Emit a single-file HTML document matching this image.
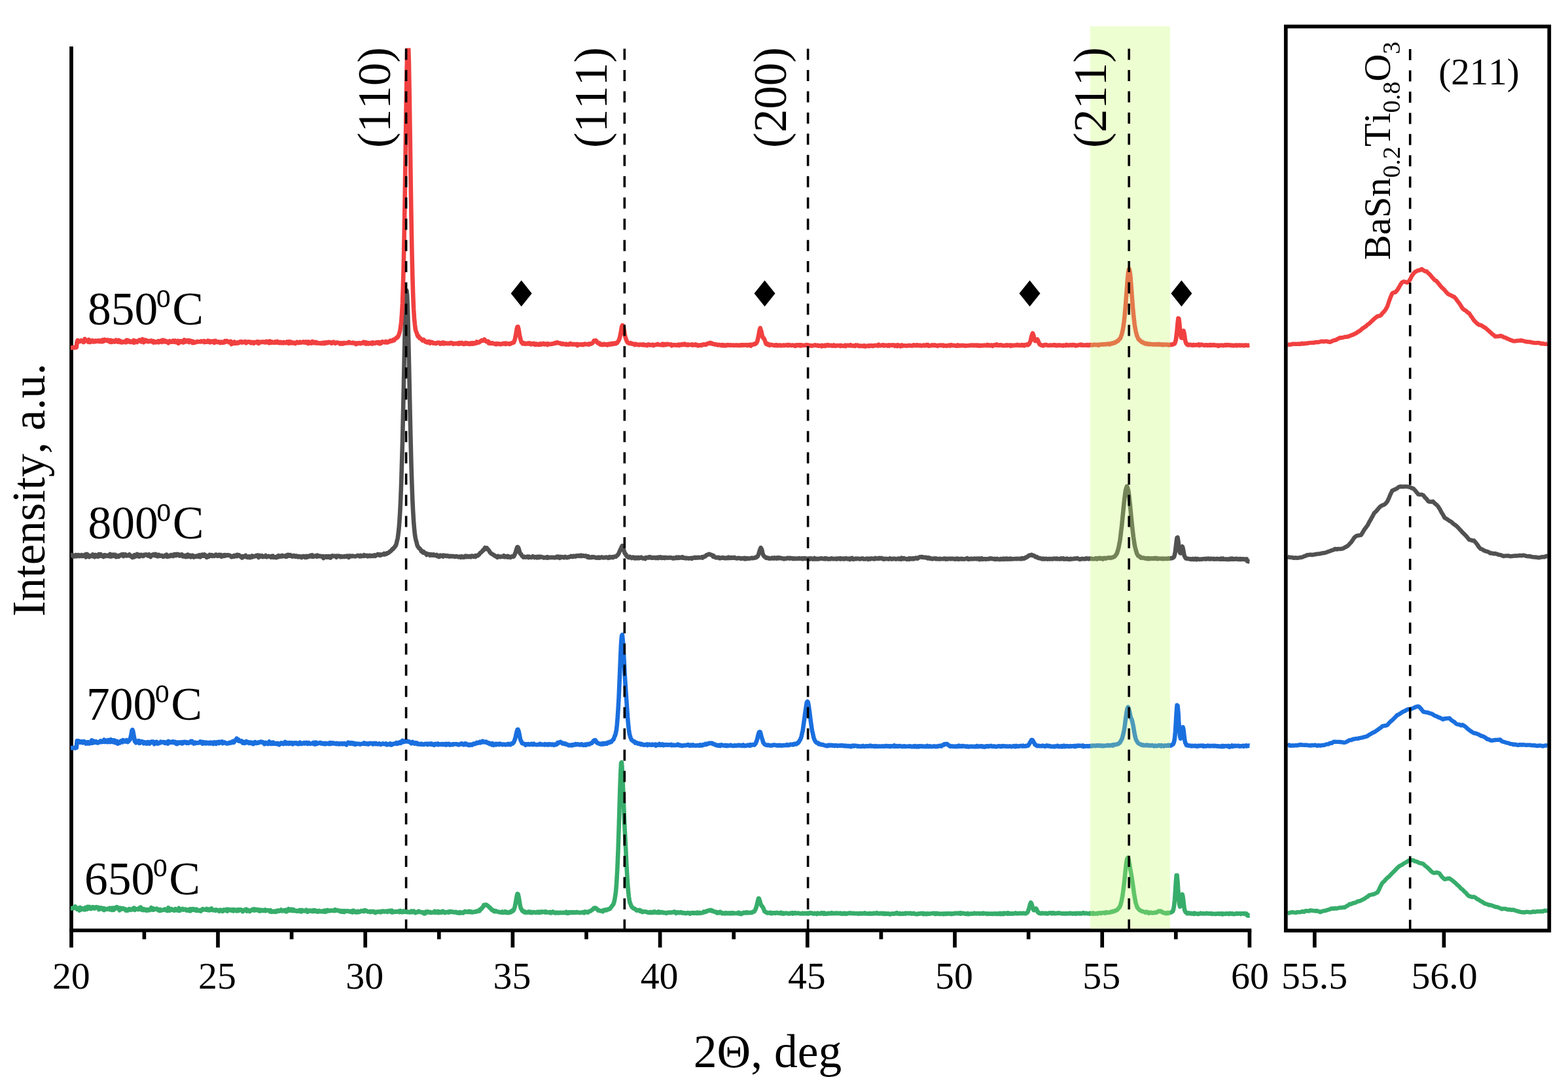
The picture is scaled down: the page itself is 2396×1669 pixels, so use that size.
<!DOCTYPE html>
<html lang="en"><head><meta charset="utf-8"><title>XRD patterns</title>
<style>html,body{margin:0;padding:0;background:#fff}body{width:2396px;height:1669px;overflow:hidden}svg{display:block}text{font-family:"Liberation Serif","DejaVu Serif",serif;fill:#000;font-kerning:none}</style></head><body>
<svg width="2396" height="1669" viewBox="0 0 2396 1669">
<rect width="2396" height="1669" fill="#fff"/>
<g stroke="#000" stroke-width="5.7" fill="none" stroke-linecap="butt">
<line x1="109.0" y1="71" x2="109.0" y2="1448.2"/>
<line x1="106.15" y1="1422.0" x2="1912.2499999999998" y2="1422.0"/>
<line x1="333.0" y1="1422.0" x2="333.0" y2="1448.2"/>
<line x1="558.2" y1="1422.0" x2="558.2" y2="1448.2"/>
<line x1="783.4" y1="1422.0" x2="783.4" y2="1448.2"/>
<line x1="1008.6" y1="1422.0" x2="1008.6" y2="1448.2"/>
<line x1="1233.8" y1="1422.0" x2="1233.8" y2="1448.2"/>
<line x1="1459.0" y1="1422.0" x2="1459.0" y2="1448.2"/>
<line x1="1684.2" y1="1422.0" x2="1684.2" y2="1448.2"/>
<line x1="1909.4" y1="1422.0" x2="1909.4" y2="1448.2"/>
<line x1="220.4" y1="1422.0" x2="220.4" y2="1435.5"/>
<line x1="445.6" y1="1422.0" x2="445.6" y2="1435.5"/>
<line x1="670.8" y1="1422.0" x2="670.8" y2="1435.5"/>
<line x1="896.0" y1="1422.0" x2="896.0" y2="1435.5"/>
<line x1="1121.2" y1="1422.0" x2="1121.2" y2="1435.5"/>
<line x1="1346.4" y1="1422.0" x2="1346.4" y2="1435.5"/>
<line x1="1571.6" y1="1422.0" x2="1571.6" y2="1435.5"/>
<line x1="1796.8" y1="1422.0" x2="1796.8" y2="1435.5"/>
</g>
<defs><clipPath id="plotclip"><rect x="0" y="73.5" width="2396" height="1669"/></clipPath></defs>
<g fill="none" stroke-width="6.6" stroke-linejoin="round" stroke-linecap="butt" clip-path="url(#plotclip)">
<path stroke="#515151" d="M107.9,848.4 L109.6,848.4 L110.5,848.6 L111.4,848.7 L112.3,850.8 L113.2,848.9 L114.1,850.0 L115.0,849.4 L115.9,848.3 L116.8,850.3 L117.7,849.2 L118.6,849.1 L119.5,848.3 L120.4,849.9 L121.3,848.7 L122.2,850.0 L123.1,848.9 L124.0,849.4 L124.9,848.3 L125.8,850.1 L126.7,849.2 L127.6,849.3 L128.5,849.7 L129.4,847.9 L130.3,850.1 L131.2,851.4 L132.1,846.9 L133.0,847.2 L133.9,847.7 L134.8,850.3 L135.7,849.4 L136.6,851.1 L137.5,849.8 L138.4,849.4 L139.3,849.3 L140.2,848.7 L141.1,850.0 L142.0,847.5 L142.9,848.6 L143.8,849.5 L144.7,851.2 L145.6,848.0 L146.5,848.4 L147.4,848.7 L148.3,850.3 L149.2,848.7 L150.1,850.7 L151.0,847.1 L151.9,849.4 L152.8,849.6 L153.7,847.1 L154.6,848.8 L155.5,849.7 L156.4,848.8 L157.3,849.6 L158.2,851.0 L159.1,848.5 L160.0,848.3 L160.9,848.3 L161.8,850.1 L162.7,849.2 L163.6,849.1 L164.6,849.3 L165.5,850.0 L166.4,848.4 L167.3,848.3 L168.2,846.9 L169.1,850.6 L170.0,849.0 L170.9,850.2 L171.8,848.4 L172.7,847.8 L173.6,849.5 L174.5,848.7 L175.4,847.8 L176.3,848.0 L177.2,851.2 L178.1,849.9 L179.0,850.7 L179.9,849.7 L180.8,849.2 L181.7,850.7 L182.6,849.3 L183.5,848.5 L184.4,848.5 L185.3,847.7 L186.2,848.8 L187.1,849.3 L188.0,847.3 L188.9,850.1 L189.8,847.6 L190.7,848.3 L191.6,847.6 L192.5,848.7 L193.4,849.5 L194.3,849.0 L195.2,848.6 L196.1,849.2 L197.0,848.7 L197.9,847.6 L198.8,849.4 L199.7,850.4 L200.6,850.7 L201.5,850.2 L202.4,852.0 L203.3,850.0 L204.2,849.1 L205.1,851.4 L206.0,848.2 L206.9,850.4 L207.8,848.3 L208.7,849.6 L209.6,847.0 L210.5,850.0 L211.4,848.8 L212.3,848.1 L213.2,850.7 L214.1,849.6 L215.0,849.0 L215.9,847.9 L216.8,848.9 L217.7,848.8 L218.6,850.1 L219.5,849.7 L220.4,847.8 L221.3,847.7 L222.2,848.0 L223.1,847.4 L224.0,848.0 L224.9,848.9 L225.8,849.4 L226.7,849.7 L227.6,847.4 L228.5,849.0 L229.4,848.4 L230.3,851.1 L231.2,848.8 L232.1,848.9 L233.0,847.8 L233.9,847.4 L234.8,848.6 L235.7,848.1 L236.6,849.1 L237.5,846.8 L238.4,849.3 L239.3,847.7 L240.2,850.2 L241.1,848.6 L242.0,850.1 L242.9,848.0 L243.8,849.6 L244.7,848.9 L245.6,849.1 L246.5,849.7 L247.4,849.1 L248.3,850.1 L249.2,850.8 L250.1,850.8 L251.0,850.3 L251.9,849.0 L252.8,849.6 L253.7,849.7 L254.6,847.8 L255.5,850.8 L256.4,849.7 L257.3,849.5 L258.2,850.5 L259.1,850.3 L260.0,849.4 L260.9,848.2 L261.8,849.4 L262.7,849.4 L263.6,848.3 L264.5,850.1 L265.4,849.7 L266.3,847.3 L267.2,849.1 L268.1,847.1 L269.0,849.2 L269.9,848.7 L270.8,846.9 L271.7,847.1 L272.6,848.0 L273.5,847.6 L274.4,849.5 L275.3,848.8 L276.2,848.0 L277.2,849.3 L278.1,847.5 L279.0,850.0 L279.9,850.5 L280.8,849.7 L281.7,849.2 L282.6,850.1 L283.5,851.1 L284.4,849.6 L285.3,848.4 L286.2,851.0 L287.1,847.7 L288.0,849.9 L288.9,848.8 L289.8,850.4 L290.7,848.9 L291.6,851.4 L292.5,850.4 L293.4,848.8 L294.3,848.8 L295.2,849.9 L296.1,851.5 L297.0,850.5 L297.9,850.4 L298.8,849.8 L299.7,850.8 L300.6,850.4 L301.5,850.3 L302.4,849.2 L303.3,850.8 L304.2,851.0 L305.1,848.3 L306.0,851.3 L306.9,850.1 L307.8,849.0 L308.7,847.7 L309.6,849.8 L310.5,849.8 L311.4,848.6 L312.3,847.5 L313.2,849.9 L314.1,848.8 L315.0,849.0 L315.9,851.9 L316.8,851.5 L317.7,850.7 L318.6,849.5 L319.5,850.4 L320.4,847.9 L321.3,849.8 L322.2,849.1 L323.1,848.4 L324.0,848.3 L324.9,850.1 L325.8,849.6 L326.7,849.6 L327.6,849.8 L328.5,848.3 L329.4,848.0 L330.3,847.6 L331.2,848.9 L332.1,849.7 L333.0,848.7 L333.9,849.6 L334.8,847.9 L335.7,848.2 L336.6,848.1 L337.5,848.0 L338.4,850.8 L339.3,850.1 L340.2,848.8 L341.1,848.9 L342.0,849.7 L342.9,848.2 L343.8,849.6 L344.7,848.4 L345.6,849.0 L346.5,848.4 L347.4,849.0 L348.3,848.3 L349.2,848.5 L350.1,848.8 L351.0,849.0 L351.9,849.5 L352.8,850.3 L353.7,851.3 L354.6,850.9 L355.5,850.1 L356.4,850.7 L357.3,849.3 L358.2,850.5 L359.1,850.1 L360.0,848.6 L360.9,850.3 L361.8,850.3 L362.7,847.8 L363.6,849.1 L364.5,849.5 L365.4,848.5 L366.3,849.6 L367.2,850.0 L368.1,851.2 L369.0,850.8 L369.9,852.6 L370.8,850.2 L371.7,851.5 L372.6,850.9 L373.5,850.9 L374.4,849.5 L375.3,848.9 L376.2,850.0 L377.1,851.3 L378.0,852.0 L378.9,851.5 L379.8,851.3 L380.7,850.4 L381.6,852.3 L382.5,852.2 L383.4,850.7 L384.3,850.8 L385.2,849.6 L386.1,851.4 L387.0,850.5 L387.9,850.1 L388.8,850.4 L389.8,850.2 L390.7,849.7 L391.6,849.1 L392.5,849.0 L393.4,848.6 L394.3,850.5 L395.2,852.0 L396.1,849.0 L397.0,850.4 L397.9,850.5 L398.8,849.4 L399.7,850.2 L400.6,849.4 L401.5,851.0 L402.4,850.3 L403.3,850.6 L404.2,850.8 L405.1,850.1 L406.0,849.1 L406.9,850.4 L407.8,851.2 L408.7,850.3 L409.6,850.5 L410.5,849.9 L411.4,850.3 L412.3,850.8 L413.2,850.4 L414.1,851.7 L415.0,850.5 L415.9,849.8 L416.8,849.6 L417.7,851.9 L418.6,850.9 L419.5,851.6 L420.4,851.3 L421.3,852.2 L422.2,852.2 L423.1,850.7 L424.0,851.0 L424.9,851.3 L425.8,849.2 L426.7,851.0 L427.6,850.8 L428.5,850.6 L429.4,849.6 L430.3,850.2 L431.2,849.0 L432.1,850.2 L433.0,849.5 L433.9,850.0 L434.8,849.7 L435.7,850.4 L436.6,850.9 L437.5,849.0 L438.4,850.6 L439.3,848.2 L440.2,847.9 L441.1,849.4 L442.0,849.6 L442.9,849.7 L443.8,848.3 L444.7,849.3 L445.6,849.6 L446.5,850.6 L447.4,849.7 L448.3,850.3 L449.2,849.2 L450.1,849.7 L451.0,849.5 L451.9,850.7 L452.8,849.6 L453.7,849.7 L454.6,850.6 L455.5,851.3 L456.4,850.4 L457.3,850.5 L458.2,850.3 L459.1,851.4 L460.0,851.2 L460.9,852.0 L461.8,850.7 L462.7,850.0 L463.6,850.3 L464.5,850.4 L465.4,850.3 L466.3,851.9 L467.2,851.3 L468.1,849.9 L469.0,851.7 L469.9,850.5 L470.8,849.9 L471.7,850.8 L472.6,850.5 L473.5,849.9 L474.4,848.9 L475.3,850.4 L476.2,850.6 L477.1,848.4 L478.0,850.8 L478.9,850.9 L479.8,850.1 L480.7,850.1 L481.6,849.8 L482.5,849.2 L483.4,849.5 L484.3,850.7 L485.2,848.7 L486.1,850.1 L487.0,850.2 L487.9,849.8 L488.8,850.1 L489.7,849.9 L490.6,850.2 L491.5,850.7 L492.4,851.0 L493.3,850.3 L494.2,853.1 L495.1,850.5 L496.0,850.8 L496.9,850.6 L497.8,850.3 L498.7,851.6 L499.6,850.3 L500.5,851.8 L501.4,851.8 L502.4,850.2 L503.3,851.5 L504.2,850.6 L505.1,852.5 L506.0,850.3 L506.9,850.1 L507.8,849.3 L508.7,850.0 L509.6,850.2 L510.5,849.8 L511.4,849.7 L512.3,850.0 L513.2,850.4 L514.1,851.8 L515.0,849.6 L515.9,850.3 L516.8,850.1 L517.7,849.5 L518.6,849.9 L519.5,850.2 L520.4,851.3 L521.3,850.5 L522.2,850.3 L523.1,851.1 L524.0,850.9 L524.9,850.5 L525.8,850.9 L526.7,850.1 L527.6,850.9 L528.5,850.7 L529.4,850.0 L530.3,849.6 L531.2,851.0 L532.1,850.0 L533.0,852.0 L533.9,849.6 L534.8,850.5 L535.7,849.7 L536.6,850.1 L537.5,850.3 L538.4,849.5 L539.3,849.9 L540.2,850.0 L541.1,850.1 L542.0,850.3 L542.9,850.4 L543.8,850.1 L544.7,849.6 L545.6,849.4 L546.5,849.1 L547.4,849.1 L548.3,849.5 L549.2,850.3 L550.1,849.5 L551.0,848.9 L551.9,850.2 L552.8,849.6 L553.7,849.6 L554.6,849.8 L555.5,850.0 L556.4,848.3 L557.3,848.8 L558.2,849.6 L559.1,849.2 L560.0,848.9 L560.9,849.2 L561.8,850.2 L562.7,849.2 L563.6,849.7 L564.5,850.0 L565.4,849.0 L566.3,850.0 L567.2,849.4 L568.1,849.6 L569.0,849.1 L569.9,849.9 L570.8,848.9 L571.7,848.7 L572.6,848.3 L573.5,849.9 L574.4,849.1 L575.3,848.4 L576.2,848.2 L577.1,847.2 L578.0,848.2 L578.9,848.4 L579.8,847.4 L580.7,848.9 L581.6,848.7 L582.5,847.6 L583.4,847.7 L584.3,847.5 L585.2,847.3 L586.1,847.4 L587.0,846.1 L587.9,847.4 L588.8,846.5 L589.7,846.9 L590.6,846.6 L591.5,845.3 L592.4,845.3 L593.3,845.2 L594.2,844.6 L595.1,843.5 L596.0,842.7 L596.9,842.7 L597.8,841.4 L598.7,840.7 L599.6,839.1 L600.5,839.4 L601.4,837.8 L602.3,836.8 L603.2,836.1 L604.1,834.4 L605.0,833.5 L605.9,830.1 L606.8,826.2 L607.7,822.7 L608.6,816.0 L609.5,808.5 L610.4,797.0 L611.3,782.4 L612.2,763.6 L613.1,739.7 L614.0,709.6 L615.0,675.5 L615.9,636.5 L616.8,595.0 L617.7,550.8 L618.6,509.3 L619.5,474.8 L620.4,451.5 L621.3,443.7 L622.2,451.6 L623.1,475.1 L624.0,510.7 L624.9,551.9 L625.8,594.3 L626.7,637.2 L627.6,675.5 L628.5,710.8 L629.4,739.4 L630.3,763.7 L631.2,782.2 L632.1,796.6 L633.0,807.7 L633.9,816.6 L634.8,822.1 L635.7,826.1 L636.6,829.0 L637.5,833.1 L638.4,835.3 L639.3,836.0 L640.2,838.0 L641.1,838.2 L642.0,839.0 L642.9,840.6 L643.8,842.5 L644.7,841.9 L645.6,842.6 L646.5,844.7 L647.4,843.3 L648.3,845.0 L649.2,845.6 L650.1,845.4 L651.0,846.3 L651.9,848.0 L652.8,846.3 L653.7,846.9 L654.6,847.3 L655.5,847.1 L656.4,847.1 L657.3,848.9 L658.2,848.3 L659.1,847.4 L660.0,848.1 L660.9,848.7 L661.8,848.7 L662.7,847.6 L663.6,848.5 L664.5,848.9 L665.4,848.9 L666.3,849.2 L667.2,847.9 L668.1,850.0 L669.0,849.2 L669.9,850.2 L670.8,850.9 L671.7,849.3 L672.6,848.7 L673.5,850.0 L674.4,849.4 L675.3,849.3 L676.2,848.8 L677.1,850.5 L678.0,849.4 L678.9,848.8 L679.8,849.4 L680.7,849.0 L681.6,850.0 L682.5,849.7 L683.4,849.3 L684.3,850.2 L685.2,849.6 L686.1,850.3 L687.0,850.6 L687.9,850.0 L688.8,849.8 L689.7,850.3 L690.6,850.5 L691.5,849.9 L692.4,850.2 L693.3,850.3 L694.2,850.7 L695.1,851.0 L696.0,850.2 L696.9,850.2 L697.8,850.5 L698.7,850.4 L699.6,850.9 L700.5,851.4 L701.4,851.1 L702.3,850.8 L703.2,850.5 L704.1,851.9 L705.0,851.3 L705.9,850.4 L706.8,850.6 L707.7,851.9 L708.6,851.7 L709.5,850.7 L710.4,851.2 L711.3,849.7 L712.2,850.8 L713.1,851.2 L714.0,850.0 L714.9,850.4 L715.8,851.1 L716.7,851.1 L717.6,850.1 L718.5,850.5 L719.4,851.3 L720.3,850.0 L721.2,849.5 L722.1,850.0 L723.0,850.0 L723.9,850.9 L724.8,850.2 L725.7,849.5 L726.6,851.0 L727.6,849.2 L728.5,849.4 L729.4,849.4 L730.3,849.0 L731.2,848.0 L732.1,847.5 L733.0,846.3 L733.9,844.9 L734.8,844.5 L735.7,843.7 L736.6,842.8 L737.5,842.0 L738.4,840.4 L739.3,840.4 L740.2,839.8 L741.1,837.2 L742.0,838.3 L742.9,838.0 L743.8,837.4 L744.7,839.5 L745.6,839.6 L746.5,840.6 L747.4,841.6 L748.3,843.6 L749.2,844.8 L750.1,845.4 L751.0,846.5 L751.9,846.6 L752.8,847.4 L753.7,847.7 L754.6,848.5 L755.5,848.7 L756.4,849.7 L757.3,850.3 L758.2,850.2 L759.1,850.9 L760.0,851.9 L760.9,849.8 L761.8,851.0 L762.7,850.8 L763.6,851.2 L764.5,850.5 L765.4,851.1 L766.3,850.9 L767.2,850.6 L768.1,850.8 L769.0,850.5 L769.9,849.3 L770.8,851.2 L771.7,850.4 L772.6,850.4 L773.5,851.2 L774.4,850.8 L775.3,849.9 L776.2,851.6 L777.1,850.2 L778.0,851.0 L778.9,851.4 L779.8,852.0 L780.7,851.7 L781.6,850.8 L782.5,850.2 L783.4,850.2 L784.3,850.8 L785.2,850.3 L786.1,848.5 L787.0,846.2 L787.9,844.4 L788.8,840.7 L789.7,837.9 L790.6,836.0 L791.5,836.3 L792.4,837.9 L793.3,841.0 L794.2,844.2 L795.1,846.4 L796.0,846.6 L796.9,848.3 L797.8,849.9 L798.7,850.1 L799.6,851.6 L800.5,851.0 L801.4,850.9 L802.3,851.6 L803.2,851.6 L804.1,851.2 L805.0,851.5 L805.9,850.6 L806.8,850.8 L807.7,852.0 L808.6,850.8 L809.5,851.7 L810.4,851.8 L811.3,851.8 L812.2,851.9 L813.1,851.6 L814.0,850.3 L814.9,850.9 L815.8,851.1 L816.7,852.0 L817.6,851.1 L818.5,851.3 L819.4,851.3 L820.3,852.2 L821.2,850.9 L822.1,851.0 L823.0,852.1 L823.9,850.8 L824.8,851.9 L825.7,851.6 L826.6,850.9 L827.5,851.5 L828.4,851.2 L829.3,851.8 L830.2,851.9 L831.1,852.6 L832.0,852.2 L832.9,852.2 L833.8,851.9 L834.7,852.0 L835.6,852.6 L836.5,851.3 L837.4,852.6 L838.3,851.9 L839.2,852.0 L840.2,852.0 L841.1,852.1 L842.0,852.0 L842.9,851.7 L843.8,852.1 L844.7,852.0 L845.6,851.8 L846.5,852.1 L847.4,852.4 L848.3,852.1 L849.2,852.1 L850.1,851.2 L851.0,851.7 L851.9,850.7 L852.8,851.9 L853.7,851.1 L854.6,852.1 L855.5,852.8 L856.4,851.0 L857.3,851.9 L858.2,851.5 L859.1,851.3 L860.0,851.3 L860.9,852.0 L861.8,852.3 L862.7,851.8 L863.6,850.9 L864.5,851.1 L865.4,851.8 L866.3,852.3 L867.2,851.7 L868.1,851.6 L869.0,851.8 L869.9,851.1 L870.8,851.0 L871.7,850.9 L872.6,849.9 L873.5,850.9 L874.4,850.6 L875.3,850.9 L876.2,849.8 L877.1,849.7 L878.0,850.5 L878.9,850.0 L879.8,850.5 L880.7,849.4 L881.6,849.8 L882.5,849.3 L883.4,849.8 L884.3,849.2 L885.2,849.7 L886.1,849.9 L887.0,849.8 L887.9,848.7 L888.8,850.0 L889.7,849.8 L890.6,849.1 L891.5,849.3 L892.4,849.7 L893.3,850.0 L894.2,849.6 L895.1,849.4 L896.0,850.3 L896.9,850.4 L897.8,851.6 L898.7,850.1 L899.6,852.1 L900.5,851.9 L901.4,851.6 L902.3,852.2 L903.2,851.6 L904.1,852.0 L905.0,851.2 L905.9,851.7 L906.8,851.3 L907.7,851.2 L908.6,851.9 L909.5,851.7 L910.4,852.1 L911.3,852.7 L912.2,852.1 L913.1,852.4 L914.0,852.6 L914.9,851.7 L915.8,852.7 L916.7,852.5 L917.6,852.3 L918.5,851.8 L919.4,851.4 L920.3,852.0 L921.2,852.1 L922.1,852.4 L923.0,852.3 L923.9,852.2 L924.8,851.7 L925.7,852.1 L926.6,851.6 L927.5,852.0 L928.4,852.1 L929.3,852.9 L930.2,852.0 L931.1,851.3 L932.0,852.3 L932.9,851.5 L933.8,851.9 L934.7,851.5 L935.6,851.3 L936.5,852.2 L937.4,851.6 L938.3,850.9 L939.2,851.0 L940.1,850.6 L941.0,850.8 L941.9,849.9 L942.8,849.0 L943.7,848.4 L944.6,847.2 L945.5,845.9 L946.4,843.6 L947.3,841.7 L948.2,839.4 L949.1,837.8 L950.0,835.7 L950.9,834.1 L951.8,836.8 L952.8,839.4 L953.7,842.4 L954.6,845.3 L955.5,846.9 L956.4,847.1 L957.3,849.6 L958.2,850.4 L959.1,851.1 L960.0,851.9 L960.9,851.0 L961.8,852.1 L962.7,851.1 L963.6,852.1 L964.5,852.3 L965.4,853.0 L966.3,851.9 L967.2,851.5 L968.1,852.5 L969.0,852.1 L969.9,853.3 L970.8,852.5 L971.7,852.2 L972.6,853.1 L973.5,852.8 L974.4,853.2 L975.3,851.9 L976.2,853.1 L977.1,852.3 L978.0,852.9 L978.9,852.1 L979.8,851.7 L980.7,852.5 L981.6,852.8 L982.5,853.4 L983.4,853.0 L984.3,853.3 L985.2,853.0 L986.1,854.0 L987.0,852.1 L987.9,852.7 L988.8,852.2 L989.7,852.3 L990.6,851.7 L991.5,852.4 L992.4,851.4 L993.3,851.4 L994.2,852.3 L995.1,851.9 L996.0,852.7 L996.9,852.8 L997.8,852.1 L998.7,852.6 L999.6,852.1 L1000.5,852.3 L1001.4,852.2 L1002.3,853.0 L1003.2,852.2 L1004.1,852.0 L1005.0,852.0 L1005.9,853.0 L1006.8,851.8 L1007.7,852.4 L1008.6,852.5 L1009.5,851.5 L1010.4,852.4 L1011.3,853.0 L1012.2,852.6 L1013.1,851.9 L1014.0,852.6 L1014.9,852.5 L1015.8,853.1 L1016.7,851.9 L1017.6,852.1 L1018.5,852.5 L1019.4,852.4 L1020.3,852.6 L1021.2,852.6 L1022.1,852.3 L1023.0,852.1 L1023.9,852.5 L1024.8,852.3 L1025.7,852.4 L1026.6,852.7 L1027.5,853.2 L1028.4,853.5 L1029.3,852.6 L1030.2,853.1 L1031.1,853.3 L1032.0,852.8 L1032.9,852.1 L1033.8,851.7 L1034.7,852.9 L1035.6,852.9 L1036.5,852.5 L1037.4,851.7 L1038.3,852.7 L1039.2,852.7 L1040.1,852.2 L1041.0,852.1 L1041.9,851.4 L1042.8,852.6 L1043.7,851.8 L1044.6,852.7 L1045.5,852.7 L1046.4,852.7 L1047.3,853.3 L1048.2,852.6 L1049.1,853.2 L1050.0,853.3 L1050.9,853.2 L1051.8,853.0 L1052.7,853.6 L1053.6,853.4 L1054.5,853.1 L1055.4,852.9 L1056.3,853.0 L1057.2,853.8 L1058.1,852.9 L1059.0,852.8 L1059.9,852.3 L1060.8,852.3 L1061.7,851.8 L1062.6,852.7 L1063.5,852.6 L1064.4,852.1 L1065.4,852.0 L1066.3,852.5 L1067.2,852.2 L1068.1,851.8 L1069.0,852.3 L1069.9,852.1 L1070.8,852.1 L1071.7,852.3 L1072.6,851.5 L1073.5,852.4 L1074.4,851.1 L1075.3,851.2 L1076.2,851.0 L1077.1,850.2 L1078.0,850.1 L1078.9,848.9 L1079.8,848.3 L1080.7,848.2 L1081.6,847.6 L1082.5,847.5 L1083.4,846.9 L1084.3,847.2 L1085.2,847.3 L1086.1,847.8 L1087.0,848.2 L1087.9,848.5 L1088.8,849.0 L1089.7,850.6 L1090.6,849.6 L1091.5,850.8 L1092.4,851.7 L1093.3,851.8 L1094.2,852.5 L1095.1,852.3 L1096.0,851.8 L1096.9,852.3 L1097.8,851.9 L1098.7,853.0 L1099.6,853.2 L1100.5,852.6 L1101.4,853.1 L1102.3,852.7 L1103.2,852.3 L1104.1,852.6 L1105.0,852.1 L1105.9,852.7 L1106.8,853.1 L1107.7,853.1 L1108.6,853.3 L1109.5,852.5 L1110.4,852.8 L1111.3,853.0 L1112.2,853.1 L1113.1,851.8 L1114.0,852.5 L1114.9,853.0 L1115.8,852.2 L1116.7,852.7 L1117.6,852.9 L1118.5,852.1 L1119.4,852.6 L1120.3,852.7 L1121.2,852.5 L1122.1,851.9 L1123.0,852.9 L1123.9,852.7 L1124.8,853.3 L1125.7,853.4 L1126.6,853.0 L1127.5,853.2 L1128.4,853.0 L1129.3,853.0 L1130.2,852.9 L1131.1,853.4 L1132.0,853.9 L1132.9,853.6 L1133.8,853.5 L1134.7,853.2 L1135.6,853.3 L1136.5,853.8 L1137.4,852.9 L1138.3,854.2 L1139.2,853.2 L1140.1,854.2 L1141.0,853.7 L1141.9,853.1 L1142.8,853.7 L1143.7,853.5 L1144.6,853.6 L1145.5,853.7 L1146.4,853.2 L1147.3,853.1 L1148.2,853.2 L1149.1,852.7 L1150.0,853.2 L1150.9,853.1 L1151.8,852.9 L1152.7,852.7 L1153.6,852.3 L1154.5,852.5 L1155.4,851.3 L1156.3,851.4 L1157.2,850.8 L1158.1,849.8 L1159.0,847.6 L1159.9,844.9 L1160.8,841.5 L1161.7,839.1 L1162.6,837.2 L1163.5,838.9 L1164.4,840.8 L1165.3,845.6 L1166.2,848.1 L1167.1,849.6 L1168.0,850.7 L1168.9,851.0 L1169.8,851.7 L1170.7,852.7 L1171.6,852.9 L1172.5,852.3 L1173.4,852.8 L1174.3,852.9 L1175.2,853.6 L1176.1,853.6 L1177.0,853.3 L1178.0,853.4 L1178.9,853.4 L1179.8,852.6 L1180.7,853.4 L1181.6,853.4 L1182.5,853.5 L1183.4,852.5 L1184.3,853.4 L1185.2,852.9 L1186.1,853.1 L1187.0,853.6 L1187.9,852.4 L1188.8,852.4 L1189.7,853.2 L1190.6,852.4 L1191.5,852.5 L1192.4,853.1 L1193.3,852.9 L1194.2,853.5 L1195.1,853.5 L1196.0,853.4 L1196.9,853.9 L1197.8,854.4 L1198.7,853.6 L1199.6,854.0 L1200.5,853.9 L1201.4,853.4 L1202.3,853.5 L1203.2,852.9 L1204.1,852.9 L1205.0,853.2 L1205.9,853.1 L1206.8,853.7 L1207.7,852.8 L1208.6,853.2 L1209.5,853.3 L1210.4,853.5 L1211.3,854.0 L1212.2,853.3 L1213.1,854.1 L1214.0,853.6 L1214.9,853.6 L1215.8,853.9 L1216.7,853.5 L1217.6,853.9 L1218.5,853.6 L1219.4,853.5 L1220.3,853.6 L1221.2,853.1 L1222.1,853.5 L1223.0,853.8 L1223.9,853.8 L1224.8,853.3 L1225.7,854.2 L1226.6,854.2 L1227.5,853.4 L1228.4,853.6 L1229.3,854.0 L1230.2,853.1 L1231.1,853.6 L1232.0,853.9 L1232.9,853.9 L1233.8,853.8 L1234.7,853.9 L1235.6,853.5 L1236.5,853.8 L1237.4,854.6 L1238.3,853.4 L1239.2,853.7 L1240.1,854.0 L1241.0,853.8 L1241.9,854.6 L1242.8,854.1 L1243.7,854.4 L1244.6,853.1 L1245.5,854.5 L1246.4,854.5 L1247.3,853.8 L1248.2,854.4 L1249.1,854.0 L1250.0,854.2 L1250.9,854.5 L1251.8,853.8 L1252.7,853.6 L1253.6,853.9 L1254.5,853.4 L1255.4,853.6 L1256.3,853.6 L1257.2,853.7 L1258.1,854.2 L1259.0,854.0 L1259.9,853.5 L1260.8,854.3 L1261.7,853.2 L1262.6,853.6 L1263.5,853.8 L1264.4,854.5 L1265.3,854.2 L1266.2,854.0 L1267.1,854.5 L1268.0,854.3 L1268.9,854.4 L1269.8,853.6 L1270.7,853.3 L1271.6,853.8 L1272.5,854.2 L1273.4,853.8 L1274.3,854.1 L1275.2,854.2 L1276.1,854.1 L1277.0,854.1 L1277.9,853.7 L1278.8,854.5 L1279.7,853.6 L1280.6,853.9 L1281.5,853.5 L1282.4,854.2 L1283.3,853.4 L1284.2,854.4 L1285.1,853.5 L1286.0,854.2 L1286.9,854.1 L1287.8,853.7 L1288.7,854.4 L1289.6,853.7 L1290.6,854.3 L1291.5,853.5 L1292.4,853.8 L1293.3,853.3 L1294.2,854.2 L1295.1,854.4 L1296.0,853.9 L1296.9,853.9 L1297.8,853.7 L1298.7,855.0 L1299.6,854.6 L1300.5,853.5 L1301.4,854.1 L1302.3,853.1 L1303.2,854.5 L1304.1,854.8 L1305.0,854.7 L1305.9,854.2 L1306.8,854.0 L1307.7,853.6 L1308.6,854.2 L1309.5,853.9 L1310.4,853.8 L1311.3,853.7 L1312.2,854.0 L1313.1,854.2 L1314.0,854.5 L1314.9,854.0 L1315.8,853.9 L1316.7,853.5 L1317.6,853.6 L1318.5,853.5 L1319.4,854.4 L1320.3,854.5 L1321.2,854.5 L1322.1,854.5 L1323.0,854.1 L1323.9,853.7 L1324.8,854.0 L1325.7,853.6 L1326.6,854.9 L1327.5,854.2 L1328.4,853.8 L1329.3,854.5 L1330.2,853.7 L1331.1,854.0 L1332.0,853.8 L1332.9,854.0 L1333.8,853.7 L1334.7,854.1 L1335.6,854.5 L1336.5,853.6 L1337.4,853.0 L1338.3,854.1 L1339.2,853.7 L1340.1,853.8 L1341.0,853.3 L1341.9,853.9 L1342.8,854.0 L1343.7,853.0 L1344.6,853.5 L1345.5,853.1 L1346.4,852.9 L1347.3,853.7 L1348.2,854.2 L1349.1,853.6 L1350.0,853.7 L1350.9,854.7 L1351.8,854.2 L1352.7,854.3 L1353.6,853.9 L1354.5,854.0 L1355.4,854.3 L1356.3,854.2 L1357.2,854.2 L1358.1,854.7 L1359.0,854.0 L1359.9,853.3 L1360.8,853.8 L1361.7,854.1 L1362.6,854.6 L1363.5,853.9 L1364.4,854.0 L1365.3,854.1 L1366.2,853.8 L1367.1,853.9 L1368.0,854.2 L1368.9,854.7 L1369.8,854.4 L1370.7,854.1 L1371.6,854.2 L1372.5,853.6 L1373.4,854.5 L1374.3,854.4 L1375.2,854.3 L1376.1,853.4 L1377.0,854.7 L1377.9,852.8 L1378.8,853.5 L1379.7,853.5 L1380.6,854.2 L1381.5,853.3 L1382.4,854.0 L1383.3,854.0 L1384.2,854.1 L1385.1,854.7 L1386.0,854.9 L1386.9,854.7 L1387.8,854.4 L1388.7,853.5 L1389.6,854.8 L1390.5,854.2 L1391.4,853.5 L1392.3,854.2 L1393.2,854.4 L1394.1,853.6 L1395.0,853.2 L1395.9,854.3 L1396.8,853.8 L1397.7,853.7 L1398.6,853.8 L1399.5,852.6 L1400.4,853.2 L1401.3,852.9 L1402.2,853.6 L1403.2,852.4 L1404.1,852.2 L1405.0,851.5 L1405.9,851.4 L1406.8,851.4 L1407.7,851.5 L1408.6,851.1 L1409.5,851.9 L1410.4,851.4 L1411.3,851.6 L1412.2,852.1 L1413.1,852.1 L1414.0,851.9 L1414.9,851.7 L1415.8,852.6 L1416.7,852.4 L1417.6,853.4 L1418.5,852.7 L1419.4,852.3 L1420.3,853.3 L1421.2,853.8 L1422.1,853.3 L1423.0,853.6 L1423.9,853.8 L1424.8,854.4 L1425.7,853.9 L1426.6,853.7 L1427.5,853.6 L1428.4,853.3 L1429.3,854.3 L1430.2,854.3 L1431.1,853.7 L1432.0,854.4 L1432.9,854.3 L1433.8,854.2 L1434.7,854.1 L1435.6,854.6 L1436.5,853.9 L1437.4,854.1 L1438.3,854.3 L1439.2,854.3 L1440.1,854.3 L1441.0,854.3 L1441.9,854.2 L1442.8,853.6 L1443.7,854.0 L1444.6,853.9 L1445.5,854.7 L1446.4,853.8 L1447.3,854.2 L1448.2,854.5 L1449.1,854.0 L1450.0,853.9 L1450.9,853.9 L1451.8,854.2 L1452.7,853.8 L1453.6,854.2 L1454.5,854.1 L1455.4,853.7 L1456.3,854.2 L1457.2,854.0 L1458.1,854.3 L1459.0,854.7 L1459.9,854.5 L1460.8,853.9 L1461.7,854.4 L1462.6,853.6 L1463.5,853.9 L1464.4,854.7 L1465.3,854.1 L1466.2,854.7 L1467.1,854.2 L1468.0,854.2 L1468.9,853.9 L1469.8,854.6 L1470.7,854.1 L1471.6,854.4 L1472.5,854.6 L1473.4,854.5 L1474.3,854.4 L1475.2,854.2 L1476.1,853.9 L1477.0,853.8 L1477.9,853.2 L1478.8,854.1 L1479.7,854.8 L1480.6,854.4 L1481.5,854.7 L1482.4,854.2 L1483.3,853.7 L1484.2,853.8 L1485.1,854.5 L1486.0,854.2 L1486.9,854.1 L1487.8,854.2 L1488.7,853.6 L1489.6,854.1 L1490.5,853.8 L1491.4,853.8 L1492.3,854.3 L1493.2,853.7 L1494.1,854.3 L1495.0,854.5 L1495.9,853.8 L1496.8,855.0 L1497.7,853.7 L1498.6,854.1 L1499.5,854.6 L1500.4,853.6 L1501.3,854.7 L1502.2,854.7 L1503.1,854.3 L1504.0,854.4 L1504.9,854.3 L1505.8,854.2 L1506.7,854.8 L1507.6,854.3 L1508.5,854.2 L1509.4,854.2 L1510.3,854.5 L1511.2,854.5 L1512.1,853.6 L1513.0,853.3 L1513.9,853.9 L1514.8,853.9 L1515.8,853.6 L1516.7,854.1 L1517.6,854.2 L1518.5,854.3 L1519.4,854.7 L1520.3,853.9 L1521.2,854.3 L1522.1,854.9 L1523.0,854.5 L1523.9,853.9 L1524.8,854.4 L1525.7,854.7 L1526.6,855.0 L1527.5,854.7 L1528.4,854.9 L1529.3,854.0 L1530.2,854.3 L1531.1,854.9 L1532.0,854.1 L1532.9,854.2 L1533.8,853.6 L1534.7,854.9 L1535.6,854.4 L1536.5,854.4 L1537.4,853.6 L1538.3,853.7 L1539.2,854.7 L1540.1,854.1 L1541.0,854.1 L1541.9,854.6 L1542.8,854.6 L1543.7,853.6 L1544.6,853.8 L1545.5,854.4 L1546.4,854.3 L1547.3,854.4 L1548.2,854.2 L1549.1,854.3 L1550.0,854.3 L1550.9,854.0 L1551.8,854.0 L1552.7,854.0 L1553.6,854.2 L1554.5,854.0 L1555.4,853.9 L1556.3,854.1 L1557.2,854.0 L1558.1,854.0 L1559.0,854.1 L1559.9,853.5 L1560.8,854.2 L1561.7,853.3 L1562.6,854.0 L1563.5,853.4 L1564.4,853.6 L1565.3,853.6 L1566.2,852.3 L1567.1,852.7 L1568.0,852.2 L1568.9,851.4 L1569.8,851.1 L1570.7,850.2 L1571.6,849.9 L1572.5,848.9 L1573.4,849.0 L1574.3,848.6 L1575.2,848.4 L1576.1,847.9 L1577.0,848.8 L1577.9,849.1 L1578.8,848.8 L1579.7,849.1 L1580.6,849.6 L1581.5,850.5 L1582.4,851.3 L1583.3,851.1 L1584.2,851.0 L1585.1,852.2 L1586.0,852.5 L1586.9,852.9 L1587.8,853.2 L1588.7,852.9 L1589.6,853.5 L1590.5,853.6 L1591.4,853.9 L1592.3,854.4 L1593.2,854.1 L1594.1,853.7 L1595.0,854.5 L1595.9,854.4 L1596.8,854.3 L1597.7,853.8 L1598.6,854.0 L1599.5,854.4 L1600.4,854.6 L1601.3,854.1 L1602.2,854.4 L1603.1,854.1 L1604.0,854.2 L1604.9,854.5 L1605.8,854.0 L1606.7,854.2 L1607.6,854.4 L1608.5,854.4 L1609.4,853.8 L1610.3,853.9 L1611.2,853.6 L1612.1,853.7 L1613.0,854.3 L1613.9,854.0 L1614.8,853.6 L1615.7,854.3 L1616.6,853.9 L1617.5,854.1 L1618.4,854.4 L1619.3,854.4 L1620.2,854.1 L1621.1,853.5 L1622.0,854.3 L1622.9,853.9 L1623.8,853.7 L1624.7,853.4 L1625.6,854.6 L1626.5,854.3 L1627.4,854.4 L1628.4,854.5 L1629.3,854.3 L1630.2,853.6 L1631.1,854.5 L1632.0,854.6 L1632.9,854.4 L1633.8,854.8 L1634.7,855.0 L1635.6,854.1 L1636.5,854.0 L1637.4,854.5 L1638.3,854.2 L1639.2,854.2 L1640.1,854.2 L1641.0,854.0 L1641.9,853.6 L1642.8,853.9 L1643.7,853.6 L1644.6,853.7 L1645.5,853.5 L1646.4,853.2 L1647.3,853.9 L1648.2,854.1 L1649.1,854.6 L1650.0,854.9 L1650.9,854.5 L1651.8,854.5 L1652.7,854.1 L1653.6,854.0 L1654.5,854.1 L1655.4,854.1 L1656.3,854.3 L1657.2,854.1 L1658.1,854.5 L1659.0,853.8 L1659.9,853.3 L1660.8,854.0 L1661.7,853.6 L1662.6,853.9 L1663.5,854.3 L1664.4,853.6 L1665.3,853.7 L1666.2,853.9 L1667.1,853.5 L1668.0,853.9 L1668.9,854.2 L1669.8,854.2 L1670.7,854.3 L1671.6,854.2 L1672.5,854.1 L1673.4,853.6 L1674.3,853.2 L1675.2,853.7 L1676.1,854.5 L1677.0,854.0 L1677.9,853.1 L1678.8,853.7 L1679.7,853.8 L1680.6,853.0 L1681.5,853.8 L1682.4,853.2 L1683.3,853.8 L1684.2,853.5 L1685.1,854.4 L1686.0,853.0 L1686.9,853.3 L1687.8,852.8 L1688.7,853.6 L1689.6,853.3 L1690.5,853.5 L1691.4,853.1 L1692.3,852.5 L1693.2,852.6 L1694.1,852.4 L1695.0,852.3 L1695.9,852.7 L1696.8,852.9 L1697.7,852.6 L1698.6,852.4 L1699.5,851.7 L1700.4,852.0 L1701.3,851.2 L1702.2,851.2 L1703.1,850.7 L1704.0,849.6 L1704.9,848.4 L1705.8,847.1 L1706.7,845.8 L1707.6,843.1 L1708.5,840.0 L1709.4,836.5 L1710.3,831.7 L1711.2,827.3 L1712.1,820.7 L1713.0,813.0 L1713.9,805.6 L1714.8,797.2 L1715.7,788.0 L1716.6,778.4 L1717.5,769.4 L1718.4,761.2 L1719.3,754.3 L1720.2,748.4 L1721.1,745.5 L1722.0,743.4 L1722.9,745.1 L1723.8,748.2 L1724.7,753.1 L1725.6,760.6 L1726.5,768.7 L1727.4,777.8 L1728.3,787.8 L1729.2,796.3 L1730.1,805.2 L1731.0,812.8 L1731.9,820.4 L1732.8,826.3 L1733.7,832.4 L1734.6,836.5 L1735.5,840.2 L1736.4,843.2 L1737.3,846.4 L1738.2,847.7 L1739.1,849.4 L1740.0,849.7 L1741.0,850.7 L1741.9,851.5 L1742.8,851.2 L1743.7,852.6 L1744.6,852.4 L1745.5,852.6 L1746.4,852.6 L1747.3,852.6 L1748.2,852.7 L1749.1,853.4 L1750.0,853.3 L1750.9,853.5 L1751.8,853.2 L1752.7,853.2 L1753.6,854.1 L1754.5,853.2 L1755.4,853.5 L1756.3,854.1 L1757.2,854.1 L1758.1,853.3 L1759.0,853.6 L1759.9,853.7 L1760.8,853.6 L1761.7,853.4 L1762.6,853.9 L1763.5,853.4 L1764.4,853.6 L1765.3,852.9 L1766.2,853.6 L1767.1,853.1 L1768.0,854.1 L1768.9,854.0 L1769.8,853.6 L1770.7,853.9 L1771.6,853.7 L1772.5,853.7 L1773.4,853.9 L1774.3,853.8 L1775.2,853.7 L1776.1,853.6 L1777.0,854.3 L1777.9,853.9 L1778.8,853.9 L1779.7,854.0 L1780.6,853.8 L1781.5,853.8 L1782.4,854.0 L1783.3,854.0 L1784.2,853.9 L1785.1,853.3 L1786.0,853.7 L1786.9,853.6 L1787.8,853.7 L1788.7,853.2 L1789.6,853.1 L1790.5,853.3 L1791.4,852.9 L1792.3,852.4 L1793.2,852.0 L1794.1,850.9 L1795.0,847.8 L1795.9,843.1 L1796.8,835.2 L1797.7,827.7 L1798.6,821.6 L1799.5,821.4 L1800.4,827.0 L1801.3,834.7 L1802.2,841.5 L1803.1,844.9 L1804.0,845.5 L1804.9,841.7 L1805.8,837.0 L1806.7,835.3 L1807.6,838.1 L1808.5,842.9 L1809.4,848.1 L1810.3,850.6 L1811.2,852.1 L1812.1,853.5 L1813.0,853.4 L1813.9,853.9 L1814.8,853.8 L1815.7,853.9 L1816.6,854.1 L1817.5,854.2 L1818.4,854.7 L1819.3,854.4 L1820.2,854.5 L1821.1,854.9 L1822.0,854.3 L1822.9,854.0 L1823.8,854.8 L1824.7,855.1 L1825.6,854.7 L1826.5,854.0 L1827.4,854.9 L1828.3,855.3 L1829.2,854.3 L1830.1,854.0 L1831.0,854.8 L1831.9,854.8 L1832.8,855.0 L1833.7,854.9 L1834.6,854.7 L1835.5,854.9 L1836.4,854.6 L1837.3,854.5 L1838.2,854.4 L1839.1,854.2 L1840.0,854.4 L1840.9,854.3 L1841.8,854.0 L1842.7,854.6 L1843.6,853.9 L1844.5,854.1 L1845.4,854.2 L1846.3,853.5 L1847.2,854.1 L1848.1,854.5 L1849.0,854.5 L1849.9,853.9 L1850.8,854.0 L1851.7,854.0 L1852.6,854.3 L1853.6,854.4 L1854.5,853.9 L1855.4,854.6 L1856.3,854.5 L1857.2,854.5 L1858.1,854.2 L1859.0,854.4 L1859.9,853.9 L1860.8,854.4 L1861.7,854.5 L1862.6,854.3 L1863.5,854.1 L1864.4,854.8 L1865.3,854.7 L1866.2,853.8 L1867.1,854.6 L1868.0,854.5 L1868.9,853.7 L1869.8,854.7 L1870.7,854.8 L1871.6,854.8 L1872.5,854.6 L1873.4,854.5 L1874.3,854.5 L1875.2,855.0 L1876.1,855.1 L1877.0,854.5 L1877.9,854.6 L1878.8,854.9 L1879.7,854.0 L1880.6,854.8 L1881.5,854.6 L1882.4,853.8 L1883.3,854.7 L1884.2,854.1 L1885.1,854.7 L1886.0,854.8 L1886.9,854.0 L1887.8,854.1 L1888.7,854.4 L1889.6,853.9 L1890.5,854.7 L1891.4,854.6 L1892.3,854.9 L1893.2,854.1 L1894.1,854.8 L1895.0,855.0 L1895.9,854.2 L1896.8,854.9 L1897.7,854.3 L1898.6,854.6 L1899.5,854.2 L1900.4,854.7 L1901.3,855.1 L1902.2,854.6 L1903.1,854.6 L1904.0,855.0 L1904.9,854.4 L1905.8,857.6 L1906.7,857.9 L1907.6,857.8 L1908.5,858.3 L1909.4,858.4"/>
<path stroke="#F14040" d="M107.9,531.5 L109.6,531.5 L110.5,531.1 L111.4,531.1 L112.3,530.9 L113.2,531.4 L114.1,531.3 L115.0,530.6 L115.9,531.2 L116.8,530.8 L117.7,522.3 L118.6,520.2 L119.5,521.2 L120.4,520.9 L121.3,522.0 L122.2,521.5 L123.1,521.3 L124.0,520.5 L124.9,521.3 L125.8,522.0 L126.7,521.6 L127.6,523.0 L128.5,522.6 L129.4,518.0 L130.3,519.0 L131.2,520.7 L132.1,520.2 L133.0,520.8 L133.9,520.5 L134.8,522.7 L135.7,519.1 L136.6,520.4 L137.5,523.0 L138.4,522.0 L139.3,522.4 L140.2,521.5 L141.1,520.4 L142.0,522.2 L142.9,522.5 L143.8,520.9 L144.7,521.5 L145.6,522.0 L146.5,520.7 L147.4,521.5 L148.3,521.7 L149.2,521.0 L150.1,520.4 L151.0,521.9 L151.9,522.2 L152.8,521.7 L153.7,520.4 L154.6,522.1 L155.5,521.0 L156.4,521.9 L157.3,519.5 L158.2,521.8 L159.1,520.4 L160.0,519.1 L160.9,520.3 L161.8,520.4 L162.7,520.6 L163.6,519.5 L164.6,519.6 L165.5,521.3 L166.4,520.8 L167.3,521.8 L168.2,522.7 L169.1,519.9 L170.0,521.7 L170.9,522.8 L171.8,521.0 L172.7,520.8 L173.6,522.1 L174.5,521.8 L175.4,522.5 L176.3,521.1 L177.2,519.8 L178.1,521.2 L179.0,521.3 L179.9,522.6 L180.8,522.3 L181.7,520.0 L182.6,520.8 L183.5,523.1 L184.4,523.1 L185.3,521.7 L186.2,522.5 L187.1,523.3 L188.0,522.8 L188.9,522.9 L189.8,522.2 L190.7,521.6 L191.6,521.7 L192.5,523.2 L193.4,519.8 L194.3,521.7 L195.2,522.3 L196.1,520.4 L197.0,522.1 L197.9,521.3 L198.8,522.8 L199.7,522.0 L200.6,522.3 L201.5,523.0 L202.4,522.1 L203.3,521.2 L204.2,520.2 L205.1,523.8 L206.0,522.1 L206.9,521.3 L207.8,522.2 L208.7,521.8 L209.6,522.9 L210.5,521.4 L211.4,521.0 L212.3,520.1 L213.2,521.0 L214.1,519.6 L215.0,521.3 L215.9,522.3 L216.8,519.2 L217.7,518.4 L218.6,521.2 L219.5,523.3 L220.4,519.9 L221.3,519.7 L222.2,521.7 L223.1,519.9 L224.0,520.3 L224.9,520.7 L225.8,522.0 L226.7,521.3 L227.6,522.1 L228.5,521.6 L229.4,520.9 L230.3,521.6 L231.2,520.8 L232.1,522.2 L233.0,521.4 L233.9,521.2 L234.8,523.5 L235.7,521.9 L236.6,522.3 L237.5,523.2 L238.4,522.3 L239.3,522.4 L240.2,523.0 L241.1,522.7 L242.0,521.1 L242.9,523.3 L243.8,521.9 L244.7,521.3 L245.6,520.8 L246.5,521.0 L247.4,522.9 L248.3,520.0 L249.2,521.9 L250.1,519.9 L251.0,521.9 L251.9,522.5 L252.8,521.1 L253.7,521.0 L254.6,522.3 L255.5,522.8 L256.4,522.9 L257.3,524.3 L258.2,522.5 L259.1,521.2 L260.0,521.7 L260.9,522.1 L261.8,522.7 L262.7,522.6 L263.6,522.4 L264.5,520.6 L265.4,522.7 L266.3,521.4 L267.2,520.7 L268.1,522.8 L269.0,523.2 L269.9,522.2 L270.8,522.0 L271.7,520.9 L272.6,524.9 L273.5,523.3 L274.4,521.5 L275.3,521.9 L276.2,522.9 L277.2,521.2 L278.1,522.6 L279.0,522.4 L279.9,523.6 L280.8,523.4 L281.7,519.4 L282.6,521.8 L283.5,520.1 L284.4,522.3 L285.3,521.4 L286.2,521.5 L287.1,520.1 L288.0,522.5 L288.9,523.0 L289.8,520.5 L290.7,522.1 L291.6,521.3 L292.5,522.4 L293.4,521.5 L294.3,524.2 L295.2,521.9 L296.1,523.0 L297.0,523.9 L297.9,523.1 L298.8,523.3 L299.7,522.7 L300.6,522.8 L301.5,521.8 L302.4,522.4 L303.3,522.3 L304.2,522.3 L305.1,522.4 L306.0,521.9 L306.9,522.4 L307.8,521.5 L308.7,522.3 L309.6,522.1 L310.5,522.0 L311.4,521.3 L312.3,523.0 L313.2,521.6 L314.1,521.9 L315.0,522.8 L315.9,522.7 L316.8,522.1 L317.7,520.6 L318.6,522.7 L319.5,522.8 L320.4,521.6 L321.3,523.4 L322.2,522.0 L323.1,521.6 L324.0,522.8 L324.9,522.7 L325.8,522.7 L326.7,521.1 L327.6,523.9 L328.5,521.9 L329.4,520.9 L330.3,522.9 L331.2,522.2 L332.1,522.8 L333.0,522.2 L333.9,522.5 L334.8,523.3 L335.7,522.7 L336.6,523.9 L337.5,522.9 L338.4,522.6 L339.3,523.3 L340.2,523.9 L341.1,523.0 L342.0,522.5 L342.9,523.3 L343.8,521.1 L344.7,521.6 L345.6,522.3 L346.5,520.9 L347.4,522.3 L348.3,522.5 L349.2,523.2 L350.1,522.3 L351.0,522.4 L351.9,523.7 L352.8,521.7 L353.7,526.1 L354.6,523.2 L355.5,523.7 L356.4,525.0 L357.3,523.9 L358.2,522.6 L359.1,524.5 L360.0,524.9 L360.9,523.8 L361.8,523.9 L362.7,524.5 L363.6,523.3 L364.5,524.3 L365.4,523.7 L366.3,523.2 L367.2,522.1 L368.1,522.7 L369.0,522.2 L369.9,523.5 L370.8,522.7 L371.7,523.2 L372.6,522.8 L373.5,522.7 L374.4,522.0 L375.3,523.2 L376.2,524.3 L377.1,522.9 L378.0,522.5 L378.9,522.8 L379.8,522.5 L380.7,522.3 L381.6,523.2 L382.5,522.9 L383.4,524.3 L384.3,523.0 L385.2,523.5 L386.1,524.0 L387.0,523.1 L387.9,524.7 L388.8,523.3 L389.8,523.0 L390.7,523.1 L391.6,523.4 L392.5,522.4 L393.4,523.7 L394.3,522.3 L395.2,524.8 L396.1,523.6 L397.0,523.2 L397.9,522.6 L398.8,523.2 L399.7,523.1 L400.6,522.5 L401.5,522.4 L402.4,522.9 L403.3,522.5 L404.2,523.5 L405.1,523.5 L406.0,522.5 L406.9,523.1 L407.8,521.7 L408.7,523.2 L409.6,522.7 L410.5,523.4 L411.4,524.3 L412.3,521.5 L413.2,523.4 L414.1,522.6 L415.0,523.7 L415.9,522.5 L416.8,522.9 L417.7,523.6 L418.6,524.0 L419.5,523.3 L420.4,522.4 L421.3,522.4 L422.2,523.7 L423.1,523.0 L424.0,522.0 L424.9,523.7 L425.8,523.8 L426.7,524.2 L427.6,523.1 L428.5,523.9 L429.4,522.9 L430.3,524.1 L431.2,523.4 L432.1,524.3 L433.0,524.4 L433.9,522.9 L434.8,523.4 L435.7,523.2 L436.6,524.2 L437.5,523.8 L438.4,522.5 L439.3,523.6 L440.2,523.7 L441.1,524.8 L442.0,522.1 L442.9,523.0 L443.8,524.4 L444.7,522.7 L445.6,522.9 L446.5,524.3 L447.4,524.5 L448.3,523.6 L449.2,524.3 L450.1,524.0 L451.0,525.1 L451.9,523.9 L452.8,524.1 L453.7,522.7 L454.6,523.1 L455.5,523.3 L456.4,524.2 L457.3,523.7 L458.2,522.7 L459.1,523.6 L460.0,523.6 L460.9,523.0 L461.8,523.2 L462.7,523.4 L463.6,522.4 L464.5,523.4 L465.4,523.5 L466.3,522.7 L467.2,523.8 L468.1,522.4 L469.0,523.0 L469.9,523.3 L470.8,525.1 L471.7,522.4 L472.6,523.9 L473.5,524.5 L474.4,524.0 L475.3,524.6 L476.2,523.2 L477.1,522.1 L478.0,524.2 L478.9,522.5 L479.8,523.1 L480.7,522.8 L481.6,524.3 L482.5,524.1 L483.4,523.1 L484.3,524.6 L485.2,524.1 L486.1,524.0 L487.0,524.4 L487.9,524.4 L488.8,524.9 L489.7,524.7 L490.6,524.3 L491.5,525.1 L492.4,523.8 L493.3,524.2 L494.2,524.2 L495.1,524.9 L496.0,523.5 L496.9,524.9 L497.8,523.9 L498.7,523.6 L499.6,523.1 L500.5,524.1 L501.4,523.6 L502.4,522.8 L503.3,523.0 L504.2,523.4 L505.1,523.3 L506.0,524.5 L506.9,524.7 L507.8,523.9 L508.7,523.6 L509.6,522.7 L510.5,523.4 L511.4,524.1 L512.3,524.9 L513.2,524.3 L514.1,523.6 L515.0,523.8 L515.9,523.5 L516.8,523.8 L517.7,524.2 L518.6,524.5 L519.5,525.5 L520.4,524.3 L521.3,525.2 L522.2,525.6 L523.1,524.3 L524.0,525.4 L524.9,524.8 L525.8,524.0 L526.7,524.7 L527.6,524.5 L528.5,524.4 L529.4,524.3 L530.3,524.3 L531.2,524.2 L532.1,523.3 L533.0,524.1 L533.9,523.0 L534.8,523.9 L535.7,524.2 L536.6,524.1 L537.5,524.3 L538.4,524.4 L539.3,523.6 L540.2,523.8 L541.1,524.5 L542.0,524.7 L542.9,524.4 L543.8,526.0 L544.7,524.4 L545.6,525.1 L546.5,525.3 L547.4,524.5 L548.3,524.2 L549.2,524.1 L550.1,524.8 L551.0,525.2 L551.9,524.4 L552.8,524.4 L553.7,523.9 L554.6,524.4 L555.5,522.8 L556.4,524.2 L557.3,524.1 L558.2,523.3 L559.1,525.6 L560.0,523.5 L560.9,524.1 L561.8,524.0 L562.7,525.4 L563.6,524.3 L564.5,525.2 L565.4,525.0 L566.3,524.7 L567.2,523.8 L568.1,524.2 L569.0,525.4 L569.9,523.3 L570.8,523.7 L571.7,524.2 L572.6,524.8 L573.5,524.1 L574.4,524.3 L575.3,523.3 L576.2,524.3 L577.1,524.2 L578.0,523.0 L578.9,524.9 L579.8,525.3 L580.7,523.2 L581.6,523.5 L582.5,524.5 L583.4,522.8 L584.3,522.1 L585.2,522.6 L586.1,522.9 L587.0,522.7 L587.9,523.3 L588.8,522.8 L589.7,521.9 L590.6,523.0 L591.5,523.7 L592.4,523.0 L593.3,522.9 L594.2,522.0 L595.1,522.2 L596.0,520.8 L596.9,521.5 L597.8,520.9 L598.7,521.3 L599.6,520.6 L600.5,519.3 L601.4,519.8 L602.3,520.2 L603.2,518.2 L604.1,518.1 L605.0,517.4 L605.9,515.9 L606.8,516.3 L607.7,515.3 L608.6,513.6 L609.5,511.4 L610.4,508.8 L611.3,505.3 L612.2,499.5 L613.1,492.8 L614.0,480.8 L615.0,463.4 L615.9,437.4 L616.8,403.3 L617.7,358.7 L618.6,306.1 L619.5,244.0 L620.4,179.3 L621.3,122.2 L622.2,78.1 L623.1,67.5 L624.0,67.5 L624.9,97.1 L625.8,148.8 L626.7,210.9 L627.6,274.1 L628.5,332.7 L629.4,382.3 L630.3,421.7 L631.2,450.7 L632.1,472.4 L633.0,486.2 L633.9,495.6 L634.8,503.2 L635.7,506.5 L636.6,508.3 L637.5,511.5 L638.4,513.8 L639.3,513.3 L640.2,515.6 L641.1,516.9 L642.0,517.0 L642.9,517.5 L643.8,518.5 L644.7,519.0 L645.6,520.4 L646.5,520.3 L647.4,519.3 L648.3,520.2 L649.2,521.6 L650.1,522.5 L651.0,521.9 L651.9,522.3 L652.8,523.4 L653.7,522.4 L654.6,522.6 L655.5,522.0 L656.4,522.9 L657.3,524.6 L658.2,522.7 L659.1,523.6 L660.0,522.9 L660.9,524.0 L661.8,524.6 L662.7,524.0 L663.6,524.6 L664.5,524.7 L665.4,524.4 L666.3,525.1 L667.2,524.7 L668.1,524.0 L669.0,523.7 L669.9,523.5 L670.8,524.2 L671.7,523.9 L672.6,525.5 L673.5,524.9 L674.4,524.1 L675.3,524.1 L676.2,525.2 L677.1,523.5 L678.0,524.6 L678.9,525.3 L679.8,524.1 L680.7,524.4 L681.6,524.5 L682.5,525.1 L683.4,524.6 L684.3,524.7 L685.2,525.0 L686.1,524.5 L687.0,525.2 L687.9,524.3 L688.8,524.1 L689.7,523.9 L690.6,524.1 L691.5,524.8 L692.4,525.8 L693.3,525.5 L694.2,525.1 L695.1,525.0 L696.0,525.2 L696.9,525.1 L697.8,525.2 L698.7,524.6 L699.6,525.2 L700.5,525.8 L701.4,524.1 L702.3,525.1 L703.2,524.0 L704.1,525.2 L705.0,524.7 L705.9,524.0 L706.8,525.0 L707.7,525.9 L708.6,525.1 L709.5,525.8 L710.4,525.0 L711.3,524.1 L712.2,525.4 L713.1,524.9 L714.0,524.4 L714.9,525.6 L715.8,525.6 L716.7,525.2 L717.6,525.8 L718.5,524.7 L719.4,525.7 L720.3,524.6 L721.2,525.3 L722.1,524.2 L723.0,525.6 L723.9,524.7 L724.8,525.2 L725.7,524.0 L726.6,524.0 L727.6,524.5 L728.5,522.4 L729.4,523.0 L730.3,523.8 L731.2,523.4 L732.1,523.2 L733.0,522.2 L733.9,522.1 L734.8,521.3 L735.7,520.5 L736.6,520.1 L737.5,520.6 L738.4,520.5 L739.3,520.5 L740.2,518.8 L741.1,519.9 L742.0,521.0 L742.9,521.9 L743.8,521.6 L744.7,521.9 L745.6,521.6 L746.5,524.3 L747.4,523.0 L748.3,524.8 L749.2,525.0 L750.1,524.5 L751.0,524.2 L751.9,524.8 L752.8,524.3 L753.7,525.1 L754.6,525.1 L755.5,525.4 L756.4,525.8 L757.3,526.1 L758.2,525.2 L759.1,526.1 L760.0,525.4 L760.9,525.3 L761.8,525.5 L762.7,525.4 L763.6,526.1 L764.5,526.1 L765.4,526.2 L766.3,525.6 L767.2,525.7 L768.1,525.2 L769.0,524.9 L769.9,525.5 L770.8,525.5 L771.7,524.8 L772.6,525.9 L773.5,524.8 L774.4,525.5 L775.3,525.2 L776.2,525.3 L777.1,525.1 L778.0,526.0 L778.9,525.7 L779.8,525.6 L780.7,525.1 L781.6,524.3 L782.5,524.3 L783.4,523.6 L784.3,523.9 L785.2,523.2 L786.1,520.9 L787.0,517.5 L787.9,513.3 L788.8,508.6 L789.7,502.4 L790.6,499.5 L791.5,499.4 L792.4,502.8 L793.3,508.1 L794.2,513.6 L795.1,517.4 L796.0,520.5 L796.9,523.3 L797.8,524.0 L798.7,525.3 L799.6,524.1 L800.5,524.1 L801.4,525.6 L802.3,525.8 L803.2,525.1 L804.1,524.8 L805.0,525.5 L805.9,524.8 L806.8,525.3 L807.7,524.4 L808.6,525.4 L809.5,524.5 L810.4,525.4 L811.3,526.2 L812.2,525.4 L813.1,525.9 L814.0,525.1 L814.9,525.0 L815.8,524.9 L816.7,526.5 L817.6,525.9 L818.5,526.8 L819.4,525.5 L820.3,526.0 L821.2,526.1 L822.1,526.9 L823.0,527.1 L823.9,525.8 L824.8,525.6 L825.7,525.2 L826.6,526.7 L827.5,525.9 L828.4,525.6 L829.3,525.9 L830.2,524.8 L831.1,525.1 L832.0,526.3 L832.9,526.0 L833.8,525.9 L834.7,525.4 L835.6,526.2 L836.5,527.0 L837.4,525.3 L838.3,526.0 L839.2,525.8 L840.2,526.1 L841.1,525.9 L842.0,525.9 L842.9,525.5 L843.8,525.8 L844.7,525.3 L845.6,525.1 L846.5,525.0 L847.4,524.9 L848.3,524.0 L849.2,523.8 L850.1,524.3 L851.0,523.5 L851.9,523.4 L852.8,524.1 L853.7,524.1 L854.6,524.4 L855.5,524.8 L856.4,524.5 L857.3,525.6 L858.2,526.0 L859.1,525.9 L860.0,525.2 L860.9,526.1 L861.8,525.7 L862.7,526.1 L863.6,526.2 L864.5,525.6 L865.4,526.7 L866.3,526.1 L867.2,526.5 L868.1,526.3 L869.0,526.6 L869.9,526.5 L870.8,525.2 L871.7,525.9 L872.6,525.1 L873.5,525.9 L874.4,526.5 L875.3,526.3 L876.2,526.5 L877.1,525.8 L878.0,526.1 L878.9,526.3 L879.8,526.8 L880.7,526.9 L881.6,526.1 L882.5,528.0 L883.4,526.3 L884.3,526.3 L885.2,526.7 L886.1,526.8 L887.0,526.8 L887.9,526.1 L888.8,526.9 L889.7,526.4 L890.6,527.1 L891.5,527.0 L892.4,525.8 L893.3,525.7 L894.2,525.6 L895.1,526.1 L896.0,526.2 L896.9,526.3 L897.8,525.9 L898.7,526.4 L899.6,526.7 L900.5,525.3 L901.4,525.6 L902.3,525.8 L903.2,525.3 L904.1,524.7 L905.0,524.7 L905.9,523.6 L906.8,522.5 L907.7,520.8 L908.6,521.6 L909.5,520.6 L910.4,520.4 L911.3,521.3 L912.2,522.2 L913.1,524.3 L914.0,524.2 L914.9,524.9 L915.8,524.5 L916.7,526.4 L917.6,525.7 L918.5,525.7 L919.4,526.9 L920.3,526.2 L921.2,527.0 L922.1,527.0 L923.0,525.8 L923.9,526.6 L924.8,526.0 L925.7,526.6 L926.6,527.1 L927.5,526.2 L928.4,527.3 L929.3,526.2 L930.2,525.7 L931.1,526.2 L932.0,526.7 L932.9,525.4 L933.8,525.9 L934.7,525.1 L935.6,526.1 L936.5,525.4 L937.4,524.9 L938.3,525.5 L939.2,524.5 L940.1,524.7 L941.0,525.3 L941.9,524.1 L942.8,524.3 L943.7,523.0 L944.6,521.6 L945.5,520.2 L946.4,518.3 L947.3,514.9 L948.2,510.3 L949.1,505.2 L950.0,499.8 L950.9,497.3 L951.8,497.5 L952.8,501.1 L953.7,505.0 L954.6,511.2 L955.5,514.9 L956.4,517.5 L957.3,520.4 L958.2,522.3 L959.1,523.5 L960.0,524.1 L960.9,524.6 L961.8,525.0 L962.7,524.7 L963.6,524.1 L964.5,524.9 L965.4,525.5 L966.3,525.2 L967.2,526.0 L968.1,526.0 L969.0,526.0 L969.9,526.9 L970.8,525.7 L971.7,526.7 L972.6,526.4 L973.5,526.4 L974.4,526.9 L975.3,526.7 L976.2,527.3 L977.1,526.5 L978.0,527.0 L978.9,526.6 L979.8,526.9 L980.7,526.9 L981.6,526.4 L982.5,527.3 L983.4,526.5 L984.3,526.6 L985.2,527.4 L986.1,527.5 L987.0,527.3 L987.9,527.2 L988.8,528.0 L989.7,526.5 L990.6,526.6 L991.5,526.4 L992.4,527.2 L993.3,527.1 L994.2,527.4 L995.1,527.3 L996.0,526.9 L996.9,526.8 L997.8,526.8 L998.7,528.1 L999.6,527.5 L1000.5,527.3 L1001.4,526.9 L1002.3,526.8 L1003.2,526.8 L1004.1,526.8 L1005.0,525.9 L1005.9,526.8 L1006.8,526.6 L1007.7,526.9 L1008.6,527.1 L1009.5,527.3 L1010.4,526.9 L1011.3,527.2 L1012.2,525.7 L1013.1,526.2 L1014.0,527.4 L1014.9,526.1 L1015.8,526.8 L1016.7,527.1 L1017.6,526.2 L1018.5,526.9 L1019.4,525.9 L1020.3,525.8 L1021.2,526.2 L1022.1,526.2 L1023.0,526.7 L1023.9,526.7 L1024.8,526.9 L1025.7,526.5 L1026.6,528.2 L1027.5,527.1 L1028.4,527.3 L1029.3,527.5 L1030.2,527.2 L1031.1,527.0 L1032.0,527.4 L1032.9,527.7 L1033.8,527.6 L1034.7,527.5 L1035.6,526.8 L1036.5,526.8 L1037.4,527.9 L1038.3,526.7 L1039.2,527.1 L1040.1,527.1 L1041.0,527.4 L1041.9,526.2 L1042.8,526.7 L1043.7,526.8 L1044.6,526.8 L1045.5,525.8 L1046.4,526.9 L1047.3,525.9 L1048.2,527.1 L1049.1,527.3 L1050.0,527.5 L1050.9,526.6 L1051.8,527.4 L1052.7,526.8 L1053.6,526.7 L1054.5,526.8 L1055.4,526.7 L1056.3,527.1 L1057.2,527.5 L1058.1,526.3 L1059.0,526.8 L1059.9,527.4 L1060.8,527.1 L1061.7,527.2 L1062.6,526.4 L1063.5,527.5 L1064.4,526.8 L1065.4,527.4 L1066.3,528.0 L1067.2,528.3 L1068.1,527.5 L1069.0,527.8 L1069.9,527.3 L1070.8,527.3 L1071.7,527.9 L1072.6,527.3 L1073.5,527.0 L1074.4,526.3 L1075.3,526.8 L1076.2,526.9 L1077.1,526.2 L1078.0,526.2 L1078.9,526.8 L1079.8,526.0 L1080.7,525.5 L1081.6,524.9 L1082.5,524.7 L1083.4,524.6 L1084.3,524.9 L1085.2,524.0 L1086.1,525.1 L1087.0,524.3 L1087.9,524.7 L1088.8,525.6 L1089.7,525.6 L1090.6,525.7 L1091.5,526.1 L1092.4,526.6 L1093.3,526.0 L1094.2,526.6 L1095.1,526.8 L1096.0,526.8 L1096.9,527.4 L1097.8,526.8 L1098.7,526.8 L1099.6,527.1 L1100.5,527.5 L1101.4,527.4 L1102.3,528.1 L1103.2,527.2 L1104.1,528.1 L1105.0,527.1 L1105.9,527.5 L1106.8,527.8 L1107.7,528.5 L1108.6,528.0 L1109.5,527.3 L1110.4,527.9 L1111.3,527.3 L1112.2,527.1 L1113.1,527.5 L1114.0,527.5 L1114.9,527.8 L1115.8,527.2 L1116.7,527.6 L1117.6,527.6 L1118.5,527.7 L1119.4,527.6 L1120.3,527.4 L1121.2,528.0 L1122.1,527.8 L1123.0,527.8 L1123.9,527.5 L1124.8,527.6 L1125.7,527.4 L1126.6,527.8 L1127.5,528.0 L1128.4,527.5 L1129.3,527.9 L1130.2,527.7 L1131.1,528.1 L1132.0,527.5 L1132.9,527.0 L1133.8,527.7 L1134.7,527.3 L1135.6,527.1 L1136.5,527.7 L1137.4,527.5 L1138.3,527.5 L1139.2,527.1 L1140.1,527.4 L1141.0,527.5 L1141.9,528.1 L1142.8,527.1 L1143.7,527.3 L1144.6,527.4 L1145.5,526.7 L1146.4,526.9 L1147.3,528.5 L1148.2,526.8 L1149.1,527.3 L1150.0,526.7 L1150.9,526.5 L1151.8,525.8 L1152.7,526.0 L1153.6,526.2 L1154.5,524.9 L1155.4,524.8 L1156.3,523.5 L1157.2,521.9 L1158.1,517.8 L1159.0,513.8 L1159.9,508.6 L1160.8,503.8 L1161.7,501.4 L1162.6,504.2 L1163.5,507.1 L1164.4,511.6 L1165.3,515.0 L1166.2,516.7 L1167.1,516.8 L1168.0,518.5 L1168.9,520.7 L1169.8,523.5 L1170.7,525.6 L1171.6,525.1 L1172.5,526.6 L1173.4,525.6 L1174.3,526.8 L1175.2,526.5 L1176.1,527.8 L1177.0,527.2 L1178.0,526.9 L1178.9,526.9 L1179.8,527.1 L1180.7,527.5 L1181.6,527.5 L1182.5,527.7 L1183.4,528.2 L1184.3,528.0 L1185.2,527.2 L1186.1,527.1 L1187.0,527.5 L1187.9,528.4 L1188.8,527.9 L1189.7,527.7 L1190.6,528.0 L1191.5,527.4 L1192.4,527.6 L1193.3,528.3 L1194.2,527.8 L1195.1,527.8 L1196.0,528.1 L1196.9,527.6 L1197.8,527.5 L1198.7,527.7 L1199.6,528.0 L1200.5,527.8 L1201.4,527.2 L1202.3,527.4 L1203.2,527.8 L1204.1,528.2 L1205.0,526.9 L1205.9,527.6 L1206.8,527.4 L1207.7,527.8 L1208.6,527.6 L1209.5,528.1 L1210.4,527.8 L1211.3,527.5 L1212.2,527.5 L1213.1,527.9 L1214.0,528.0 L1214.9,528.8 L1215.8,528.5 L1216.7,527.5 L1217.6,528.1 L1218.5,527.3 L1219.4,527.2 L1220.3,528.0 L1221.2,528.0 L1222.1,527.3 L1223.0,528.4 L1223.9,527.5 L1224.8,527.4 L1225.7,528.1 L1226.6,527.9 L1227.5,527.8 L1228.4,527.7 L1229.3,527.8 L1230.2,527.7 L1231.1,527.8 L1232.0,527.0 L1232.9,527.3 L1233.8,527.9 L1234.7,527.3 L1235.6,528.0 L1236.5,528.4 L1237.4,527.9 L1238.3,528.0 L1239.2,528.6 L1240.1,528.1 L1241.0,528.5 L1241.9,528.3 L1242.8,528.1 L1243.7,527.9 L1244.6,527.4 L1245.5,527.2 L1246.4,527.8 L1247.3,528.0 L1248.2,527.8 L1249.1,528.3 L1250.0,527.8 L1250.9,528.7 L1251.8,528.3 L1252.7,528.2 L1253.6,528.3 L1254.5,528.2 L1255.4,529.3 L1256.3,527.8 L1257.2,528.5 L1258.1,528.8 L1259.0,528.6 L1259.9,528.0 L1260.8,528.8 L1261.7,527.6 L1262.6,527.6 L1263.5,528.2 L1264.4,527.4 L1265.3,527.1 L1266.2,528.2 L1267.1,528.1 L1268.0,528.3 L1268.9,527.7 L1269.8,527.9 L1270.7,527.8 L1271.6,528.7 L1272.5,528.4 L1273.4,528.5 L1274.3,527.5 L1275.2,528.5 L1276.1,528.7 L1277.0,528.5 L1277.9,528.4 L1278.8,528.1 L1279.7,527.9 L1280.6,528.3 L1281.5,528.2 L1282.4,528.2 L1283.3,527.9 L1284.2,528.9 L1285.1,528.0 L1286.0,528.5 L1286.9,528.3 L1287.8,528.8 L1288.7,528.8 L1289.6,528.8 L1290.6,528.6 L1291.5,527.7 L1292.4,528.9 L1293.3,528.1 L1294.2,527.9 L1295.1,528.0 L1296.0,527.8 L1296.9,528.2 L1297.8,528.2 L1298.7,528.0 L1299.6,527.2 L1300.5,528.3 L1301.4,528.5 L1302.3,528.5 L1303.2,528.3 L1304.1,528.5 L1305.0,528.6 L1305.9,528.1 L1306.8,528.8 L1307.7,527.5 L1308.6,527.9 L1309.5,527.9 L1310.4,527.5 L1311.3,528.1 L1312.2,528.9 L1313.1,528.8 L1314.0,528.5 L1314.9,529.0 L1315.8,528.6 L1316.7,528.5 L1317.6,528.9 L1318.5,528.7 L1319.4,529.1 L1320.3,528.3 L1321.2,529.3 L1322.1,529.0 L1323.0,529.4 L1323.9,528.6 L1324.8,528.8 L1325.7,528.7 L1326.6,528.8 L1327.5,528.1 L1328.4,529.1 L1329.3,528.6 L1330.2,528.0 L1331.1,528.4 L1332.0,528.1 L1332.9,528.5 L1333.8,529.0 L1334.7,528.5 L1335.6,528.0 L1336.5,527.9 L1337.4,528.1 L1338.3,528.0 L1339.2,527.8 L1340.1,527.8 L1341.0,528.0 L1341.9,528.5 L1342.8,526.7 L1343.7,528.1 L1344.6,527.7 L1345.5,528.1 L1346.4,528.2 L1347.3,527.9 L1348.2,527.4 L1349.1,527.4 L1350.0,527.3 L1350.9,528.5 L1351.8,527.9 L1352.7,527.8 L1353.6,527.9 L1354.5,527.6 L1355.4,528.2 L1356.3,528.6 L1357.2,528.5 L1358.1,527.5 L1359.0,528.5 L1359.9,527.8 L1360.8,527.5 L1361.7,527.6 L1362.6,527.6 L1363.5,527.7 L1364.4,527.5 L1365.3,527.3 L1366.2,527.8 L1367.1,528.7 L1368.0,527.6 L1368.9,528.1 L1369.8,527.8 L1370.7,528.9 L1371.6,527.3 L1372.5,528.6 L1373.4,527.8 L1374.3,528.0 L1375.2,528.0 L1376.1,529.2 L1377.0,527.8 L1377.9,527.4 L1378.8,528.6 L1379.7,528.0 L1380.6,528.4 L1381.5,528.3 L1382.4,528.3 L1383.3,528.3 L1384.2,528.5 L1385.1,528.5 L1386.0,528.6 L1386.9,528.2 L1387.8,528.1 L1388.7,527.8 L1389.6,528.1 L1390.5,528.0 L1391.4,528.3 L1392.3,528.2 L1393.2,528.5 L1394.1,528.0 L1395.0,528.3 L1395.9,527.3 L1396.8,527.5 L1397.7,527.9 L1398.6,527.7 L1399.5,528.2 L1400.4,527.4 L1401.3,528.1 L1402.2,527.3 L1403.2,527.7 L1404.1,528.0 L1405.0,528.3 L1405.9,527.6 L1406.8,528.2 L1407.7,528.5 L1408.6,528.5 L1409.5,528.1 L1410.4,527.8 L1411.3,527.5 L1412.2,528.3 L1413.1,528.4 L1414.0,527.6 L1414.9,527.2 L1415.8,527.9 L1416.7,528.1 L1417.6,526.9 L1418.5,527.9 L1419.4,528.7 L1420.3,528.3 L1421.2,528.2 L1422.1,528.1 L1423.0,528.3 L1423.9,527.5 L1424.8,527.4 L1425.7,527.9 L1426.6,527.6 L1427.5,528.0 L1428.4,527.3 L1429.3,528.1 L1430.2,528.2 L1431.1,528.0 L1432.0,528.1 L1432.9,528.8 L1433.8,528.0 L1434.7,527.8 L1435.6,527.7 L1436.5,527.9 L1437.4,527.6 L1438.3,528.0 L1439.2,527.8 L1440.1,527.6 L1441.0,527.5 L1441.9,528.6 L1442.8,528.1 L1443.7,528.2 L1444.6,528.4 L1445.5,528.3 L1446.4,528.6 L1447.3,528.5 L1448.2,528.0 L1449.1,527.9 L1450.0,527.9 L1450.9,527.6 L1451.8,528.6 L1452.7,527.7 L1453.6,527.1 L1454.5,527.7 L1455.4,527.7 L1456.3,528.1 L1457.2,527.7 L1458.1,528.2 L1459.0,528.0 L1459.9,528.3 L1460.8,528.6 L1461.7,528.8 L1462.6,528.5 L1463.5,527.4 L1464.4,527.6 L1465.3,527.9 L1466.2,528.5 L1467.1,528.1 L1468.0,528.3 L1468.9,527.7 L1469.8,528.0 L1470.7,528.1 L1471.6,527.7 L1472.5,528.2 L1473.4,528.4 L1474.3,528.1 L1475.2,528.3 L1476.1,528.6 L1477.0,528.2 L1477.9,528.3 L1478.8,528.2 L1479.7,528.1 L1480.6,528.3 L1481.5,528.0 L1482.4,528.0 L1483.3,527.7 L1484.2,527.5 L1485.1,527.7 L1486.0,528.0 L1486.9,527.5 L1487.8,527.5 L1488.7,528.3 L1489.6,528.1 L1490.5,527.6 L1491.4,528.0 L1492.3,527.6 L1493.2,528.4 L1494.1,527.6 L1495.0,528.0 L1495.9,528.5 L1496.8,527.8 L1497.7,528.6 L1498.6,527.8 L1499.5,528.2 L1500.4,528.0 L1501.3,528.0 L1502.2,528.1 L1503.1,528.0 L1504.0,527.5 L1504.9,527.9 L1505.8,527.9 L1506.7,528.1 L1507.6,528.1 L1508.5,527.1 L1509.4,528.1 L1510.3,528.1 L1511.2,527.4 L1512.1,527.9 L1513.0,528.2 L1513.9,527.6 L1514.8,527.4 L1515.8,527.7 L1516.7,528.7 L1517.6,527.8 L1518.5,527.4 L1519.4,527.6 L1520.3,527.4 L1521.2,527.5 L1522.1,527.6 L1523.0,526.6 L1523.9,527.5 L1524.8,527.9 L1525.7,527.4 L1526.6,527.4 L1527.5,528.0 L1528.4,527.3 L1529.3,527.4 L1530.2,527.4 L1531.1,528.0 L1532.0,528.2 L1532.9,528.1 L1533.8,528.2 L1534.7,528.3 L1535.6,528.1 L1536.5,527.5 L1537.4,527.8 L1538.3,528.2 L1539.2,527.4 L1540.1,527.6 L1541.0,527.7 L1541.9,527.7 L1542.8,527.5 L1543.7,527.5 L1544.6,528.8 L1545.5,528.2 L1546.4,527.5 L1547.3,527.9 L1548.2,528.2 L1549.1,527.9 L1550.0,527.9 L1550.9,527.5 L1551.8,527.6 L1552.7,527.6 L1553.6,527.6 L1554.5,526.9 L1555.4,527.8 L1556.3,527.8 L1557.2,528.0 L1558.1,527.4 L1559.0,528.0 L1559.9,527.9 L1560.8,527.3 L1561.7,527.0 L1562.6,527.9 L1563.5,527.4 L1564.4,528.0 L1565.3,528.3 L1566.2,527.1 L1567.1,527.0 L1568.0,527.2 L1568.9,527.3 L1569.8,526.5 L1570.7,527.3 L1571.6,526.7 L1572.5,525.9 L1573.4,524.1 L1574.3,522.3 L1575.2,519.1 L1576.1,514.5 L1577.0,511.9 L1577.9,509.4 L1578.8,511.1 L1579.7,514.4 L1580.6,518.2 L1581.5,520.9 L1582.4,521.2 L1583.3,520.3 L1584.2,519.4 L1585.1,518.7 L1586.0,520.2 L1586.9,522.7 L1587.8,524.7 L1588.7,526.4 L1589.6,526.5 L1590.5,527.4 L1591.4,527.2 L1592.3,527.9 L1593.2,528.4 L1594.1,527.7 L1595.0,528.1 L1595.9,527.3 L1596.8,527.0 L1597.7,527.2 L1598.6,527.0 L1599.5,527.3 L1600.4,527.6 L1601.3,528.0 L1602.2,528.0 L1603.1,527.9 L1604.0,527.8 L1604.9,527.5 L1605.8,527.7 L1606.7,527.6 L1607.6,527.8 L1608.5,527.8 L1609.4,527.7 L1610.3,527.1 L1611.2,527.4 L1612.1,527.3 L1613.0,528.1 L1613.9,527.6 L1614.8,528.0 L1615.7,528.2 L1616.6,527.6 L1617.5,527.5 L1618.4,527.6 L1619.3,527.3 L1620.2,527.8 L1621.1,528.1 L1622.0,527.9 L1622.9,527.9 L1623.8,528.0 L1624.7,528.4 L1625.6,527.6 L1626.5,527.8 L1627.4,527.9 L1628.4,528.1 L1629.3,526.9 L1630.2,527.6 L1631.1,527.7 L1632.0,527.4 L1632.9,528.0 L1633.8,527.8 L1634.7,527.6 L1635.6,527.1 L1636.5,527.3 L1637.4,527.5 L1638.3,527.9 L1639.2,527.1 L1640.1,526.9 L1641.0,527.1 L1641.9,527.5 L1642.8,528.2 L1643.7,528.5 L1644.6,527.5 L1645.5,527.9 L1646.4,527.9 L1647.3,527.8 L1648.2,527.4 L1649.1,527.1 L1650.0,527.3 L1650.9,526.7 L1651.8,527.5 L1652.7,527.7 L1653.6,526.9 L1654.5,527.4 L1655.4,527.5 L1656.3,527.8 L1657.2,527.8 L1658.1,527.6 L1659.0,527.2 L1659.9,527.3 L1660.8,527.8 L1661.7,527.1 L1662.6,527.2 L1663.5,527.9 L1664.4,527.3 L1665.3,526.9 L1666.2,527.2 L1667.1,527.5 L1668.0,527.1 L1668.9,527.5 L1669.8,527.5 L1670.7,526.9 L1671.6,526.9 L1672.5,527.0 L1673.4,526.8 L1674.3,527.2 L1675.2,527.0 L1676.1,527.3 L1677.0,526.8 L1677.9,526.7 L1678.8,527.7 L1679.7,526.7 L1680.6,526.8 L1681.5,526.6 L1682.4,526.6 L1683.3,526.4 L1684.2,526.6 L1685.1,526.4 L1686.0,526.3 L1686.9,526.4 L1687.8,526.4 L1688.7,526.3 L1689.6,525.8 L1690.5,526.2 L1691.4,526.0 L1692.3,525.9 L1693.2,525.4 L1694.1,526.1 L1695.0,525.8 L1695.9,526.3 L1696.8,525.7 L1697.7,524.9 L1698.6,524.7 L1699.5,525.2 L1700.4,524.3 L1701.3,524.4 L1702.2,523.8 L1703.1,524.2 L1704.0,523.0 L1704.9,523.1 L1705.8,522.6 L1706.7,521.5 L1707.6,520.9 L1708.5,521.0 L1709.4,519.7 L1710.3,518.4 L1711.2,517.8 L1712.1,516.7 L1713.0,513.9 L1713.9,511.9 L1714.8,508.1 L1715.7,504.4 L1716.6,498.4 L1717.5,492.2 L1718.4,484.0 L1719.3,474.3 L1720.2,463.6 L1721.1,451.7 L1722.0,439.4 L1722.9,427.8 L1723.8,418.4 L1724.7,411.9 L1725.6,411.2 L1726.5,415.0 L1727.4,423.1 L1728.3,433.7 L1729.2,446.0 L1730.1,458.0 L1731.0,469.8 L1731.9,479.3 L1732.8,488.1 L1733.7,495.5 L1734.6,501.4 L1735.5,505.9 L1736.4,509.7 L1737.3,513.1 L1738.2,514.9 L1739.1,517.2 L1740.0,518.9 L1741.0,519.8 L1741.9,519.9 L1742.8,521.4 L1743.7,522.1 L1744.6,522.7 L1745.5,522.6 L1746.4,523.8 L1747.3,523.5 L1748.2,524.6 L1749.1,524.8 L1750.0,525.5 L1750.9,524.8 L1751.8,524.7 L1752.7,525.8 L1753.6,526.0 L1754.5,525.6 L1755.4,526.3 L1756.3,526.3 L1757.2,525.6 L1758.1,526.0 L1759.0,526.2 L1759.9,526.2 L1760.8,526.4 L1761.7,526.1 L1762.6,526.3 L1763.5,526.6 L1764.4,526.4 L1765.3,526.3 L1766.2,526.5 L1767.1,526.5 L1768.0,525.9 L1768.9,526.7 L1769.8,526.2 L1770.7,526.5 L1771.6,526.0 L1772.5,526.9 L1773.4,526.7 L1774.3,526.3 L1775.2,526.7 L1776.1,526.5 L1777.0,527.3 L1777.9,526.8 L1778.8,526.4 L1779.7,526.7 L1780.6,526.7 L1781.5,527.0 L1782.4,526.8 L1783.3,526.9 L1784.2,526.5 L1785.1,527.0 L1786.0,527.5 L1786.9,527.2 L1787.8,526.9 L1788.7,527.0 L1789.6,526.6 L1790.5,526.9 L1791.4,526.4 L1792.3,526.5 L1793.2,526.1 L1794.1,525.5 L1795.0,525.2 L1795.9,522.7 L1796.8,519.6 L1797.7,512.8 L1798.6,504.6 L1799.5,494.4 L1800.4,486.5 L1801.3,486.7 L1802.2,493.4 L1803.1,503.3 L1804.0,511.4 L1804.9,516.0 L1805.8,516.6 L1806.7,512.8 L1807.6,507.7 L1808.5,505.6 L1809.4,508.7 L1810.3,514.5 L1811.2,520.6 L1812.1,523.8 L1813.0,525.7 L1813.9,526.0 L1814.8,527.1 L1815.7,527.4 L1816.6,526.7 L1817.5,527.3 L1818.4,527.2 L1819.3,526.8 L1820.2,527.2 L1821.1,527.7 L1822.0,527.4 L1822.9,527.7 L1823.8,526.9 L1824.7,527.1 L1825.6,527.4 L1826.5,527.5 L1827.4,527.5 L1828.3,527.2 L1829.2,527.1 L1830.1,527.1 L1831.0,527.4 L1831.9,526.5 L1832.8,527.9 L1833.7,527.1 L1834.6,526.7 L1835.5,527.2 L1836.4,526.6 L1837.3,527.3 L1838.2,527.2 L1839.1,527.6 L1840.0,527.8 L1840.9,528.0 L1841.8,527.3 L1842.7,527.4 L1843.6,527.6 L1844.5,527.3 L1845.4,527.9 L1846.3,527.7 L1847.2,527.3 L1848.1,528.0 L1849.0,527.9 L1849.9,527.0 L1850.8,527.6 L1851.7,527.8 L1852.6,527.7 L1853.6,527.1 L1854.5,527.1 L1855.4,527.6 L1856.3,527.3 L1857.2,527.6 L1858.1,527.7 L1859.0,528.0 L1859.9,527.6 L1860.8,527.8 L1861.7,528.8 L1862.6,527.8 L1863.5,528.0 L1864.4,527.9 L1865.3,527.9 L1866.2,527.6 L1867.1,527.9 L1868.0,527.7 L1868.9,527.9 L1869.8,528.2 L1870.7,527.5 L1871.6,527.7 L1872.5,527.1 L1873.4,527.2 L1874.3,527.8 L1875.2,527.2 L1876.1,527.1 L1877.0,527.4 L1877.9,527.4 L1878.8,527.5 L1879.7,527.7 L1880.6,528.2 L1881.5,527.5 L1882.4,527.8 L1883.3,527.8 L1884.2,528.3 L1885.1,527.8 L1886.0,528.2 L1886.9,527.9 L1887.8,527.8 L1888.7,527.4 L1889.6,528.4 L1890.5,528.1 L1891.4,527.9 L1892.3,527.6 L1893.2,527.7 L1894.1,527.5 L1895.0,528.1 L1895.9,527.8 L1896.8,527.6 L1897.7,527.6 L1898.6,527.9 L1899.5,527.9 L1900.4,528.4 L1901.3,528.2 L1902.2,527.6 L1903.1,527.5 L1904.0,527.8 L1904.9,527.7 L1905.8,528.0 L1906.7,527.9 L1907.6,527.9 L1908.5,527.8 L1909.4,527.7"/>
<path stroke="#1A6FDF" d="M107.9,1143.0 L109.6,1143.0 L110.5,1143.2 L111.4,1142.9 L112.3,1143.1 L113.2,1142.9 L114.1,1143.0 L115.0,1143.4 L115.9,1143.1 L116.8,1142.9 L117.7,1132.4 L118.6,1132.4 L119.5,1132.4 L120.4,1132.5 L121.3,1133.3 L122.2,1134.5 L123.1,1133.4 L124.0,1134.6 L124.9,1133.3 L125.8,1133.5 L126.7,1135.2 L127.6,1134.2 L128.5,1133.2 L129.4,1134.0 L130.3,1134.8 L131.2,1136.6 L132.1,1134.4 L133.0,1134.8 L133.9,1136.3 L134.8,1134.1 L135.7,1135.1 L136.6,1136.3 L137.5,1135.5 L138.4,1134.5 L139.3,1135.3 L140.2,1131.4 L141.1,1135.7 L142.0,1133.5 L142.9,1132.8 L143.8,1134.7 L144.7,1135.0 L145.6,1133.8 L146.5,1133.1 L147.4,1134.1 L148.3,1134.1 L149.2,1135.5 L150.1,1134.5 L151.0,1134.1 L151.9,1134.5 L152.8,1133.3 L153.7,1132.4 L154.6,1134.0 L155.5,1134.1 L156.4,1133.3 L157.3,1132.5 L158.2,1133.6 L159.1,1130.6 L160.0,1133.9 L160.9,1134.0 L161.8,1131.7 L162.7,1133.5 L163.6,1132.3 L164.6,1134.1 L165.5,1131.2 L166.4,1132.7 L167.3,1133.9 L168.2,1134.2 L169.1,1130.3 L170.0,1131.7 L170.9,1132.7 L171.8,1131.7 L172.7,1134.2 L173.6,1131.3 L174.5,1133.3 L175.4,1131.8 L176.3,1135.1 L177.2,1134.2 L178.1,1134.1 L179.0,1133.1 L179.9,1136.6 L180.8,1135.5 L181.7,1135.1 L182.6,1135.6 L183.5,1134.0 L184.4,1132.8 L185.3,1132.2 L186.2,1132.3 L187.1,1134.4 L188.0,1131.2 L188.9,1132.2 L189.8,1132.2 L190.7,1133.1 L191.6,1133.4 L192.5,1131.6 L193.4,1131.1 L194.3,1133.0 L195.2,1134.0 L196.1,1133.0 L197.0,1132.3 L197.9,1130.9 L198.8,1130.2 L199.7,1126.1 L200.6,1122.7 L201.5,1116.8 L202.4,1115.4 L203.3,1117.7 L204.2,1123.0 L205.1,1127.6 L206.0,1133.2 L206.9,1133.9 L207.8,1135.3 L208.7,1132.5 L209.6,1134.2 L210.5,1134.0 L211.4,1134.9 L212.3,1132.1 L213.2,1135.9 L214.1,1135.7 L215.0,1133.3 L215.9,1133.4 L216.8,1133.1 L217.7,1133.8 L218.6,1134.9 L219.5,1136.2 L220.4,1134.2 L221.3,1134.8 L222.2,1134.5 L223.1,1136.4 L224.0,1135.6 L224.9,1136.4 L225.8,1134.1 L226.7,1135.0 L227.6,1134.4 L228.5,1136.6 L229.4,1135.6 L230.3,1134.8 L231.2,1133.8 L232.1,1134.6 L233.0,1133.5 L233.9,1133.6 L234.8,1135.3 L235.7,1137.2 L236.6,1134.3 L237.5,1134.2 L238.4,1134.0 L239.3,1133.9 L240.2,1136.3 L241.1,1136.6 L242.0,1135.9 L242.9,1135.9 L243.8,1135.3 L244.7,1135.4 L245.6,1133.6 L246.5,1134.3 L247.4,1134.7 L248.3,1134.0 L249.2,1134.3 L250.1,1134.1 L251.0,1134.5 L251.9,1135.8 L252.8,1134.4 L253.7,1134.9 L254.6,1136.0 L255.5,1135.8 L256.4,1136.6 L257.3,1132.9 L258.2,1135.3 L259.1,1133.8 L260.0,1134.0 L260.9,1134.7 L261.8,1134.9 L262.7,1134.7 L263.6,1133.6 L264.5,1135.0 L265.4,1133.7 L266.3,1134.0 L267.2,1135.1 L268.1,1133.9 L269.0,1136.7 L269.9,1135.7 L270.8,1136.9 L271.7,1134.6 L272.6,1134.5 L273.5,1135.3 L274.4,1135.7 L275.3,1134.6 L276.2,1135.4 L277.2,1135.1 L278.1,1136.3 L279.0,1134.1 L279.9,1135.8 L280.8,1134.5 L281.7,1133.9 L282.6,1134.3 L283.5,1134.0 L284.4,1135.1 L285.3,1135.8 L286.2,1134.5 L287.1,1134.9 L288.0,1135.7 L288.9,1134.7 L289.8,1134.4 L290.7,1134.0 L291.6,1132.9 L292.5,1135.0 L293.4,1132.9 L294.3,1135.3 L295.2,1135.2 L296.1,1136.4 L297.0,1135.5 L297.9,1134.8 L298.8,1136.0 L299.7,1135.6 L300.6,1135.3 L301.5,1135.3 L302.4,1135.6 L303.3,1135.2 L304.2,1134.8 L305.1,1135.2 L306.0,1133.4 L306.9,1134.9 L307.8,1134.1 L308.7,1135.9 L309.6,1136.6 L310.5,1134.1 L311.4,1135.7 L312.3,1135.5 L313.2,1134.8 L314.1,1136.4 L315.0,1135.9 L315.9,1134.8 L316.8,1136.1 L317.7,1136.3 L318.6,1136.4 L319.5,1135.1 L320.4,1136.3 L321.3,1136.5 L322.2,1134.7 L323.1,1135.2 L324.0,1135.4 L324.9,1135.0 L325.8,1137.0 L326.7,1135.3 L327.6,1134.4 L328.5,1134.5 L329.4,1135.2 L330.3,1136.8 L331.2,1134.4 L332.1,1134.4 L333.0,1134.7 L333.9,1134.1 L334.8,1136.1 L335.7,1133.9 L336.6,1134.8 L337.5,1134.0 L338.4,1134.6 L339.3,1133.4 L340.2,1136.2 L341.1,1134.7 L342.0,1134.9 L342.9,1134.4 L343.8,1134.6 L344.7,1135.7 L345.6,1136.1 L346.5,1136.5 L347.4,1136.4 L348.3,1135.9 L349.2,1135.4 L350.1,1136.1 L351.0,1135.7 L351.9,1134.7 L352.8,1135.4 L353.7,1135.3 L354.6,1134.3 L355.5,1133.2 L356.4,1134.1 L357.3,1134.8 L358.2,1132.3 L359.1,1131.6 L360.0,1131.0 L360.9,1131.5 L361.8,1128.7 L362.7,1130.7 L363.6,1131.6 L364.5,1130.4 L365.4,1132.7 L366.3,1132.3 L367.2,1132.2 L368.1,1133.3 L369.0,1132.5 L369.9,1133.8 L370.8,1135.4 L371.7,1133.6 L372.6,1135.8 L373.5,1134.4 L374.4,1135.7 L375.3,1135.1 L376.2,1133.1 L377.1,1134.5 L378.0,1135.0 L378.9,1134.1 L379.8,1134.5 L380.7,1135.9 L381.6,1135.1 L382.5,1134.4 L383.4,1134.9 L384.3,1136.1 L385.2,1135.2 L386.1,1136.5 L387.0,1137.0 L387.9,1135.7 L388.8,1134.5 L389.8,1134.2 L390.7,1135.3 L391.6,1135.9 L392.5,1135.5 L393.4,1135.7 L394.3,1134.8 L395.2,1135.3 L396.1,1134.3 L397.0,1134.5 L397.9,1134.0 L398.8,1133.6 L399.7,1134.4 L400.6,1134.1 L401.5,1134.1 L402.4,1135.5 L403.3,1135.1 L404.2,1137.3 L405.1,1136.2 L406.0,1135.1 L406.9,1136.5 L407.8,1136.4 L408.7,1135.7 L409.6,1136.9 L410.5,1135.5 L411.4,1133.5 L412.3,1136.3 L413.2,1135.6 L414.1,1136.9 L415.0,1135.3 L415.9,1134.7 L416.8,1136.8 L417.7,1134.8 L418.6,1136.0 L419.5,1136.8 L420.4,1136.3 L421.3,1136.3 L422.2,1136.2 L423.1,1137.1 L424.0,1136.0 L424.9,1136.8 L425.8,1136.9 L426.7,1138.3 L427.6,1136.3 L428.5,1135.9 L429.4,1136.6 L430.3,1135.5 L431.2,1136.1 L432.1,1136.0 L433.0,1136.9 L433.9,1135.7 L434.8,1135.8 L435.7,1133.9 L436.6,1134.9 L437.5,1136.8 L438.4,1135.1 L439.3,1135.5 L440.2,1135.3 L441.1,1136.8 L442.0,1136.1 L442.9,1135.2 L443.8,1136.5 L444.7,1136.2 L445.6,1136.5 L446.5,1135.3 L447.4,1137.4 L448.3,1136.3 L449.2,1136.0 L450.1,1135.3 L451.0,1135.5 L451.9,1136.3 L452.8,1135.6 L453.7,1136.8 L454.6,1136.7 L455.5,1137.3 L456.4,1137.0 L457.3,1136.2 L458.2,1134.7 L459.1,1136.5 L460.0,1137.0 L460.9,1136.5 L461.8,1136.6 L462.7,1135.7 L463.6,1135.6 L464.5,1135.1 L465.4,1136.5 L466.3,1136.1 L467.2,1135.7 L468.1,1134.9 L469.0,1135.6 L469.9,1136.9 L470.8,1136.0 L471.7,1135.3 L472.6,1136.8 L473.5,1136.9 L474.4,1136.8 L475.3,1136.2 L476.2,1136.4 L477.1,1136.1 L478.0,1136.4 L478.9,1135.1 L479.8,1137.1 L480.7,1136.4 L481.6,1137.5 L482.5,1134.7 L483.4,1136.5 L484.3,1136.8 L485.2,1135.7 L486.1,1136.0 L487.0,1136.0 L487.9,1135.9 L488.8,1135.1 L489.7,1135.1 L490.6,1136.3 L491.5,1136.7 L492.4,1136.0 L493.3,1135.9 L494.2,1136.4 L495.1,1137.1 L496.0,1136.0 L496.9,1135.9 L497.8,1137.1 L498.7,1136.2 L499.6,1136.4 L500.5,1136.4 L501.4,1136.7 L502.4,1135.9 L503.3,1137.1 L504.2,1135.2 L505.1,1136.7 L506.0,1135.3 L506.9,1135.3 L507.8,1136.6 L508.7,1135.7 L509.6,1135.6 L510.5,1136.0 L511.4,1136.6 L512.3,1136.3 L513.2,1136.6 L514.1,1137.1 L515.0,1135.9 L515.9,1136.3 L516.8,1136.2 L517.7,1137.4 L518.6,1137.3 L519.5,1137.3 L520.4,1136.4 L521.3,1136.3 L522.2,1137.0 L523.1,1136.4 L524.0,1137.3 L524.9,1136.7 L525.8,1136.1 L526.7,1136.5 L527.6,1136.5 L528.5,1137.8 L529.4,1138.3 L530.3,1136.6 L531.2,1136.5 L532.1,1134.7 L533.0,1136.2 L533.9,1136.2 L534.8,1135.5 L535.7,1136.8 L536.6,1135.3 L537.5,1136.2 L538.4,1136.8 L539.3,1135.6 L540.2,1137.1 L541.1,1137.5 L542.0,1136.2 L542.9,1136.5 L543.8,1137.7 L544.7,1137.2 L545.6,1136.5 L546.5,1137.0 L547.4,1136.8 L548.3,1136.7 L549.2,1137.4 L550.1,1137.0 L551.0,1137.6 L551.9,1137.2 L552.8,1136.8 L553.7,1136.8 L554.6,1136.7 L555.5,1136.5 L556.4,1135.5 L557.3,1136.9 L558.2,1136.3 L559.1,1137.1 L560.0,1136.3 L560.9,1136.5 L561.8,1136.5 L562.7,1137.5 L563.6,1136.7 L564.5,1136.1 L565.4,1136.4 L566.3,1135.8 L567.2,1136.3 L568.1,1136.4 L569.0,1136.4 L569.9,1137.5 L570.8,1136.0 L571.7,1136.4 L572.6,1136.3 L573.5,1137.0 L574.4,1135.9 L575.3,1136.6 L576.2,1137.1 L577.1,1137.4 L578.0,1137.0 L578.9,1136.7 L579.8,1136.4 L580.7,1137.2 L581.6,1137.9 L582.5,1137.3 L583.4,1137.3 L584.3,1137.2 L585.2,1136.3 L586.1,1136.8 L587.0,1136.9 L587.9,1137.2 L588.8,1137.2 L589.7,1136.5 L590.6,1138.0 L591.5,1138.3 L592.4,1137.3 L593.3,1137.8 L594.2,1137.5 L595.1,1137.7 L596.0,1136.5 L596.9,1138.4 L597.8,1137.0 L598.7,1138.3 L599.6,1137.6 L600.5,1137.0 L601.4,1136.8 L602.3,1137.0 L603.2,1136.3 L604.1,1136.5 L605.0,1136.3 L605.9,1135.2 L606.8,1136.8 L607.7,1136.1 L608.6,1135.4 L609.5,1136.0 L610.4,1134.5 L611.3,1135.3 L612.2,1135.8 L613.1,1135.0 L614.0,1132.8 L615.0,1132.0 L615.9,1133.1 L616.8,1134.1 L617.7,1132.8 L618.6,1132.8 L619.5,1133.3 L620.4,1131.9 L621.3,1132.8 L622.2,1133.5 L623.1,1133.3 L624.0,1133.4 L624.9,1133.2 L625.8,1134.2 L626.7,1134.2 L627.6,1135.3 L628.5,1136.2 L629.4,1134.6 L630.3,1133.9 L631.2,1134.8 L632.1,1135.8 L633.0,1136.5 L633.9,1136.6 L634.8,1135.4 L635.7,1135.4 L636.6,1136.9 L637.5,1135.8 L638.4,1137.3 L639.3,1136.6 L640.2,1137.5 L641.1,1137.4 L642.0,1137.6 L642.9,1137.8 L643.8,1136.8 L644.7,1137.6 L645.6,1137.5 L646.5,1137.7 L647.4,1138.1 L648.3,1137.4 L649.2,1136.9 L650.1,1137.0 L651.0,1137.2 L651.9,1137.6 L652.8,1136.7 L653.7,1138.0 L654.6,1137.4 L655.5,1137.3 L656.4,1136.7 L657.3,1137.6 L658.2,1137.8 L659.1,1136.4 L660.0,1137.9 L660.9,1138.2 L661.8,1137.6 L662.7,1137.6 L663.6,1138.8 L664.5,1138.2 L665.4,1137.0 L666.3,1137.5 L667.2,1137.4 L668.1,1137.7 L669.0,1136.5 L669.9,1138.3 L670.8,1137.3 L671.7,1137.7 L672.6,1137.3 L673.5,1138.0 L674.4,1137.4 L675.3,1137.0 L676.2,1137.9 L677.1,1138.2 L678.0,1137.2 L678.9,1138.0 L679.8,1137.5 L680.7,1137.2 L681.6,1138.5 L682.5,1136.9 L683.4,1137.9 L684.3,1137.1 L685.2,1137.8 L686.1,1136.8 L687.0,1137.2 L687.9,1138.5 L688.8,1138.1 L689.7,1137.9 L690.6,1137.7 L691.5,1138.2 L692.4,1137.2 L693.3,1137.2 L694.2,1137.5 L695.1,1137.3 L696.0,1137.3 L696.9,1137.3 L697.8,1137.3 L698.7,1137.3 L699.6,1138.3 L700.5,1138.1 L701.4,1138.4 L702.3,1137.6 L703.2,1137.4 L704.1,1136.6 L705.0,1137.3 L705.9,1136.5 L706.8,1137.3 L707.7,1137.9 L708.6,1138.3 L709.5,1137.6 L710.4,1136.6 L711.3,1137.6 L712.2,1136.8 L713.1,1138.0 L714.0,1137.5 L714.9,1137.8 L715.8,1138.8 L716.7,1138.1 L717.6,1138.9 L718.5,1137.9 L719.4,1137.7 L720.3,1138.3 L721.2,1138.7 L722.1,1137.3 L723.0,1137.5 L723.9,1136.5 L724.8,1136.8 L725.7,1137.2 L726.6,1136.5 L727.6,1135.9 L728.5,1135.0 L729.4,1135.9 L730.3,1135.6 L731.2,1135.2 L732.1,1134.8 L733.0,1134.0 L733.9,1135.3 L734.8,1134.2 L735.7,1133.7 L736.6,1134.3 L737.5,1132.6 L738.4,1133.6 L739.3,1133.7 L740.2,1134.0 L741.1,1134.5 L742.0,1134.3 L742.9,1133.6 L743.8,1134.6 L744.7,1135.5 L745.6,1135.7 L746.5,1135.4 L747.4,1135.5 L748.3,1137.1 L749.2,1137.2 L750.1,1137.3 L751.0,1136.5 L751.9,1138.5 L752.8,1136.2 L753.7,1137.5 L754.6,1138.8 L755.5,1137.6 L756.4,1137.8 L757.3,1137.0 L758.2,1138.2 L759.1,1137.0 L760.0,1137.8 L760.9,1137.6 L761.8,1137.0 L762.7,1137.9 L763.6,1136.6 L764.5,1137.0 L765.4,1137.5 L766.3,1137.4 L767.2,1138.1 L768.1,1138.2 L769.0,1137.6 L769.9,1137.6 L770.8,1137.7 L771.7,1137.8 L772.6,1138.4 L773.5,1137.7 L774.4,1138.0 L775.3,1137.5 L776.2,1137.0 L777.1,1137.9 L778.0,1137.3 L778.9,1137.6 L779.8,1138.1 L780.7,1136.7 L781.6,1137.2 L782.5,1136.5 L783.4,1136.5 L784.3,1135.2 L785.2,1134.3 L786.1,1132.1 L787.0,1129.2 L787.9,1126.5 L788.8,1121.7 L789.7,1118.1 L790.6,1115.2 L791.5,1114.9 L792.4,1117.1 L793.3,1120.5 L794.2,1125.7 L795.1,1130.1 L796.0,1132.3 L796.9,1133.7 L797.8,1136.1 L798.7,1136.1 L799.6,1136.6 L800.5,1136.8 L801.4,1137.0 L802.3,1137.5 L803.2,1138.7 L804.1,1137.5 L805.0,1137.3 L805.9,1137.6 L806.8,1137.9 L807.7,1137.1 L808.6,1137.8 L809.5,1138.1 L810.4,1137.7 L811.3,1137.8 L812.2,1136.9 L813.1,1137.0 L814.0,1138.3 L814.9,1138.1 L815.8,1136.8 L816.7,1137.7 L817.6,1137.9 L818.5,1138.1 L819.4,1138.3 L820.3,1138.1 L821.2,1138.3 L822.1,1138.1 L823.0,1138.0 L823.9,1137.4 L824.8,1136.8 L825.7,1137.8 L826.6,1137.3 L827.5,1138.1 L828.4,1138.1 L829.3,1137.9 L830.2,1137.7 L831.1,1137.8 L832.0,1138.4 L832.9,1137.2 L833.8,1138.1 L834.7,1137.9 L835.6,1137.8 L836.5,1138.4 L837.4,1137.4 L838.3,1138.3 L839.2,1137.4 L840.2,1137.5 L841.1,1137.5 L842.0,1138.3 L842.9,1137.7 L843.8,1138.2 L844.7,1137.6 L845.6,1138.5 L846.5,1138.9 L847.4,1137.9 L848.3,1138.4 L849.2,1137.7 L850.1,1138.0 L851.0,1136.6 L851.9,1135.3 L852.8,1136.2 L853.7,1135.1 L854.6,1134.5 L855.5,1134.5 L856.4,1134.0 L857.3,1134.9 L858.2,1134.8 L859.1,1136.4 L860.0,1136.6 L860.9,1136.0 L861.8,1136.5 L862.7,1137.1 L863.6,1136.4 L864.5,1137.5 L865.4,1137.7 L866.3,1137.6 L867.2,1138.0 L868.1,1138.7 L869.0,1139.3 L869.9,1139.3 L870.8,1138.7 L871.7,1139.2 L872.6,1138.8 L873.5,1139.3 L874.4,1138.5 L875.3,1139.1 L876.2,1138.1 L877.1,1138.1 L878.0,1138.2 L878.9,1138.4 L879.8,1137.2 L880.7,1137.7 L881.6,1137.9 L882.5,1138.0 L883.4,1137.4 L884.3,1137.8 L885.2,1137.7 L886.1,1138.5 L887.0,1138.2 L887.9,1137.5 L888.8,1137.4 L889.7,1138.4 L890.6,1138.9 L891.5,1138.5 L892.4,1138.8 L893.3,1138.5 L894.2,1137.8 L895.1,1138.8 L896.0,1138.3 L896.9,1138.2 L897.8,1137.1 L898.7,1137.7 L899.6,1137.2 L900.5,1137.7 L901.4,1136.8 L902.3,1136.2 L903.2,1135.8 L904.1,1136.0 L905.0,1134.9 L905.9,1133.7 L906.8,1132.5 L907.7,1131.6 L908.6,1132.4 L909.5,1131.2 L910.4,1132.2 L911.3,1134.0 L912.2,1135.2 L913.1,1135.3 L914.0,1136.1 L914.9,1136.4 L915.8,1136.9 L916.7,1136.6 L917.6,1137.3 L918.5,1136.8 L919.4,1137.6 L920.3,1136.3 L921.2,1137.2 L922.1,1136.1 L923.0,1136.0 L923.9,1137.0 L924.8,1136.1 L925.7,1136.7 L926.6,1135.8 L927.5,1136.6 L928.4,1135.4 L929.3,1134.6 L930.2,1135.0 L931.1,1135.1 L932.0,1133.9 L932.9,1133.9 L933.8,1134.1 L934.7,1133.0 L935.6,1131.7 L936.5,1130.8 L937.4,1130.3 L938.3,1127.9 L939.2,1125.3 L940.1,1123.8 L941.0,1120.0 L941.9,1116.1 L942.8,1107.8 L943.7,1097.1 L944.6,1083.8 L945.5,1067.6 L946.4,1046.9 L947.3,1024.5 L948.2,1002.4 L949.1,983.5 L950.0,971.7 L950.9,970.3 L951.8,979.7 L952.8,995.1 L953.7,1011.1 L954.6,1029.8 L955.5,1043.9 L956.4,1057.8 L957.3,1070.3 L958.2,1084.1 L959.1,1096.4 L960.0,1106.8 L960.9,1115.2 L961.8,1121.1 L962.7,1124.6 L963.6,1127.7 L964.5,1129.8 L965.4,1131.3 L966.3,1131.7 L967.2,1132.6 L968.1,1133.3 L969.0,1133.2 L969.9,1133.7 L970.8,1135.5 L971.7,1135.0 L972.6,1135.4 L973.5,1135.4 L974.4,1136.4 L975.3,1136.8 L976.2,1136.2 L977.1,1136.7 L978.0,1136.6 L978.9,1137.9 L979.8,1137.7 L980.7,1137.1 L981.6,1138.2 L982.5,1138.1 L983.4,1138.5 L984.3,1138.6 L985.2,1138.0 L986.1,1138.0 L987.0,1138.5 L987.9,1138.2 L988.8,1137.6 L989.7,1139.0 L990.6,1138.0 L991.5,1137.8 L992.4,1137.6 L993.3,1138.4 L994.2,1138.7 L995.1,1138.4 L996.0,1138.6 L996.9,1137.7 L997.8,1138.4 L998.7,1138.4 L999.6,1138.6 L1000.5,1138.8 L1001.4,1137.7 L1002.3,1139.7 L1003.2,1138.0 L1004.1,1138.4 L1005.0,1138.6 L1005.9,1138.7 L1006.8,1138.3 L1007.7,1136.9 L1008.6,1137.9 L1009.5,1138.8 L1010.4,1138.1 L1011.3,1138.1 L1012.2,1137.5 L1013.1,1139.2 L1014.0,1139.0 L1014.9,1138.2 L1015.8,1138.7 L1016.7,1138.8 L1017.6,1138.0 L1018.5,1138.2 L1019.4,1138.5 L1020.3,1138.6 L1021.2,1138.7 L1022.1,1138.3 L1023.0,1138.2 L1023.9,1138.6 L1024.8,1138.1 L1025.7,1137.9 L1026.6,1139.2 L1027.5,1138.6 L1028.4,1138.9 L1029.3,1139.1 L1030.2,1138.6 L1031.1,1139.1 L1032.0,1138.9 L1032.9,1138.7 L1033.8,1139.0 L1034.7,1138.5 L1035.6,1137.7 L1036.5,1138.7 L1037.4,1138.4 L1038.3,1139.4 L1039.2,1139.1 L1040.1,1138.9 L1041.0,1139.3 L1041.9,1139.9 L1042.8,1139.9 L1043.7,1139.4 L1044.6,1139.4 L1045.5,1139.1 L1046.4,1139.1 L1047.3,1139.2 L1048.2,1139.0 L1049.1,1139.2 L1050.0,1138.5 L1050.9,1138.3 L1051.8,1138.1 L1052.7,1138.8 L1053.6,1139.7 L1054.5,1139.5 L1055.4,1138.7 L1056.3,1138.6 L1057.2,1139.5 L1058.1,1139.3 L1059.0,1138.5 L1059.9,1139.4 L1060.8,1139.2 L1061.7,1139.6 L1062.6,1139.2 L1063.5,1139.6 L1064.4,1139.5 L1065.4,1139.1 L1066.3,1139.3 L1067.2,1139.1 L1068.1,1139.7 L1069.0,1139.0 L1069.9,1138.5 L1070.8,1139.4 L1071.7,1139.5 L1072.6,1139.5 L1073.5,1139.2 L1074.4,1138.0 L1075.3,1138.3 L1076.2,1138.1 L1077.1,1138.2 L1078.0,1137.1 L1078.9,1137.9 L1079.8,1137.7 L1080.7,1136.7 L1081.6,1136.6 L1082.5,1136.7 L1083.4,1135.9 L1084.3,1136.0 L1085.2,1135.9 L1086.1,1135.7 L1087.0,1135.8 L1087.9,1135.7 L1088.8,1136.8 L1089.7,1136.5 L1090.6,1136.9 L1091.5,1137.7 L1092.4,1137.7 L1093.3,1138.5 L1094.2,1139.1 L1095.1,1138.8 L1096.0,1138.9 L1096.9,1139.5 L1097.8,1139.7 L1098.7,1138.8 L1099.6,1138.9 L1100.5,1140.1 L1101.4,1139.5 L1102.3,1138.4 L1103.2,1138.7 L1104.1,1139.3 L1105.0,1139.1 L1105.9,1139.5 L1106.8,1139.3 L1107.7,1139.6 L1108.6,1138.9 L1109.5,1139.6 L1110.4,1140.1 L1111.3,1139.2 L1112.2,1139.8 L1113.1,1139.7 L1114.0,1139.5 L1114.9,1139.4 L1115.8,1138.8 L1116.7,1138.8 L1117.6,1139.6 L1118.5,1139.7 L1119.4,1139.9 L1120.3,1139.9 L1121.2,1140.0 L1122.1,1139.5 L1123.0,1139.1 L1123.9,1139.6 L1124.8,1139.8 L1125.7,1139.7 L1126.6,1139.0 L1127.5,1139.2 L1128.4,1138.8 L1129.3,1139.4 L1130.2,1138.8 L1131.1,1139.2 L1132.0,1139.5 L1132.9,1139.4 L1133.8,1139.9 L1134.7,1138.9 L1135.6,1138.5 L1136.5,1139.9 L1137.4,1140.0 L1138.3,1140.0 L1139.2,1139.6 L1140.1,1139.7 L1141.0,1139.5 L1141.9,1138.9 L1142.8,1139.0 L1143.7,1139.3 L1144.6,1138.7 L1145.5,1139.6 L1146.4,1138.2 L1147.3,1138.7 L1148.2,1139.2 L1149.1,1138.5 L1150.0,1138.2 L1150.9,1138.0 L1151.8,1138.1 L1152.7,1138.6 L1153.6,1137.6 L1154.5,1136.5 L1155.4,1134.4 L1156.3,1132.4 L1157.2,1129.1 L1158.1,1125.1 L1159.0,1121.7 L1159.9,1119.2 L1160.8,1118.5 L1161.7,1119.0 L1162.6,1121.9 L1163.5,1126.1 L1164.4,1128.6 L1165.3,1131.5 L1166.2,1134.7 L1167.1,1136.0 L1168.0,1137.1 L1168.9,1138.0 L1169.8,1138.2 L1170.7,1138.8 L1171.6,1138.7 L1172.5,1139.1 L1173.4,1138.5 L1174.3,1138.8 L1175.2,1139.2 L1176.1,1139.2 L1177.0,1139.5 L1178.0,1139.3 L1178.9,1139.1 L1179.8,1139.5 L1180.7,1139.1 L1181.6,1138.6 L1182.5,1138.7 L1183.4,1138.6 L1184.3,1138.7 L1185.2,1138.9 L1186.1,1139.3 L1187.0,1139.0 L1187.9,1139.6 L1188.8,1139.3 L1189.7,1138.8 L1190.6,1139.5 L1191.5,1139.5 L1192.4,1138.9 L1193.3,1139.3 L1194.2,1139.6 L1195.1,1139.1 L1196.0,1139.4 L1196.9,1139.1 L1197.8,1139.2 L1198.7,1139.0 L1199.6,1139.2 L1200.5,1138.7 L1201.4,1139.1 L1202.3,1138.1 L1203.2,1138.8 L1204.1,1139.1 L1205.0,1138.8 L1205.9,1138.5 L1206.8,1138.7 L1207.7,1137.8 L1208.6,1137.9 L1209.5,1137.8 L1210.4,1137.9 L1211.3,1138.3 L1212.2,1137.4 L1213.1,1138.0 L1214.0,1136.9 L1214.9,1137.0 L1215.8,1137.0 L1216.7,1137.3 L1217.6,1136.2 L1218.5,1135.4 L1219.4,1135.6 L1220.3,1134.5 L1221.2,1133.1 L1222.1,1131.5 L1223.0,1130.0 L1223.9,1127.9 L1224.8,1124.9 L1225.7,1120.3 L1226.6,1117.1 L1227.5,1110.5 L1228.4,1104.0 L1229.3,1097.5 L1230.2,1090.3 L1231.1,1084.5 L1232.0,1078.1 L1232.9,1073.5 L1233.8,1072.2 L1234.7,1073.5 L1235.6,1077.6 L1236.5,1084.1 L1237.4,1090.5 L1238.3,1098.5 L1239.2,1104.8 L1240.1,1111.2 L1241.0,1117.1 L1241.9,1120.6 L1242.8,1124.8 L1243.7,1128.4 L1244.6,1130.6 L1245.5,1132.3 L1246.4,1133.9 L1247.3,1134.4 L1248.2,1135.3 L1249.1,1135.4 L1250.0,1135.5 L1250.9,1137.1 L1251.8,1136.6 L1252.7,1137.1 L1253.6,1137.9 L1254.5,1138.1 L1255.4,1137.7 L1256.3,1138.0 L1257.2,1138.4 L1258.1,1138.3 L1259.0,1139.0 L1259.9,1139.1 L1260.8,1139.3 L1261.7,1139.6 L1262.6,1139.7 L1263.5,1140.2 L1264.4,1140.1 L1265.3,1138.9 L1266.2,1139.7 L1267.1,1139.0 L1268.0,1138.8 L1268.9,1139.4 L1269.8,1138.9 L1270.7,1139.0 L1271.6,1139.6 L1272.5,1139.1 L1273.4,1139.1 L1274.3,1139.7 L1275.2,1140.1 L1276.1,1139.7 L1277.0,1139.1 L1277.9,1139.4 L1278.8,1139.5 L1279.7,1140.2 L1280.6,1139.7 L1281.5,1139.6 L1282.4,1139.8 L1283.3,1139.3 L1284.2,1139.6 L1285.1,1139.7 L1286.0,1139.2 L1286.9,1139.5 L1287.8,1139.8 L1288.7,1139.4 L1289.6,1140.1 L1290.6,1140.2 L1291.5,1140.2 L1292.4,1139.5 L1293.3,1139.9 L1294.2,1140.5 L1295.1,1140.3 L1296.0,1139.9 L1296.9,1140.3 L1297.8,1140.7 L1298.7,1140.1 L1299.6,1140.2 L1300.5,1141.1 L1301.4,1140.1 L1302.3,1140.0 L1303.2,1139.5 L1304.1,1139.7 L1305.0,1140.5 L1305.9,1139.8 L1306.8,1139.6 L1307.7,1139.8 L1308.6,1140.2 L1309.5,1140.6 L1310.4,1140.0 L1311.3,1140.7 L1312.2,1140.3 L1313.1,1140.7 L1314.0,1140.8 L1314.9,1140.9 L1315.8,1140.5 L1316.7,1140.5 L1317.6,1140.6 L1318.5,1139.9 L1319.4,1140.6 L1320.3,1140.6 L1321.2,1140.9 L1322.1,1140.5 L1323.0,1140.4 L1323.9,1140.5 L1324.8,1140.2 L1325.7,1140.3 L1326.6,1140.6 L1327.5,1140.5 L1328.4,1139.9 L1329.3,1140.3 L1330.2,1139.6 L1331.1,1140.6 L1332.0,1140.2 L1332.9,1140.5 L1333.8,1140.2 L1334.7,1140.6 L1335.6,1140.7 L1336.5,1140.9 L1337.4,1140.1 L1338.3,1140.9 L1339.2,1140.6 L1340.1,1140.4 L1341.0,1140.9 L1341.9,1140.7 L1342.8,1140.6 L1343.7,1140.5 L1344.6,1140.8 L1345.5,1140.8 L1346.4,1140.8 L1347.3,1140.4 L1348.2,1140.4 L1349.1,1140.8 L1350.0,1140.8 L1350.9,1140.4 L1351.8,1140.8 L1352.7,1140.3 L1353.6,1140.0 L1354.5,1140.7 L1355.4,1140.0 L1356.3,1140.4 L1357.2,1140.7 L1358.1,1140.2 L1359.0,1140.3 L1359.9,1141.1 L1360.8,1140.3 L1361.7,1140.5 L1362.6,1140.7 L1363.5,1140.2 L1364.4,1140.2 L1365.3,1140.5 L1366.2,1139.6 L1367.1,1140.9 L1368.0,1140.1 L1368.9,1140.1 L1369.8,1140.7 L1370.7,1140.6 L1371.6,1140.1 L1372.5,1140.8 L1373.4,1140.3 L1374.3,1140.4 L1375.2,1140.0 L1376.1,1140.2 L1377.0,1140.8 L1377.9,1140.9 L1378.8,1140.8 L1379.7,1141.0 L1380.6,1140.5 L1381.5,1140.3 L1382.4,1140.5 L1383.3,1141.0 L1384.2,1140.7 L1385.1,1140.9 L1386.0,1140.7 L1386.9,1140.7 L1387.8,1140.7 L1388.7,1140.6 L1389.6,1140.7 L1390.5,1140.4 L1391.4,1140.5 L1392.3,1141.0 L1393.2,1141.1 L1394.1,1141.2 L1395.0,1140.8 L1395.9,1140.4 L1396.8,1141.1 L1397.7,1141.1 L1398.6,1140.3 L1399.5,1141.2 L1400.4,1141.0 L1401.3,1141.4 L1402.2,1140.5 L1403.2,1140.4 L1404.1,1141.2 L1405.0,1140.4 L1405.9,1140.7 L1406.8,1140.6 L1407.7,1140.6 L1408.6,1140.2 L1409.5,1140.8 L1410.4,1141.0 L1411.3,1140.9 L1412.2,1140.9 L1413.1,1140.5 L1414.0,1141.2 L1414.9,1140.8 L1415.8,1140.9 L1416.7,1140.0 L1417.6,1140.9 L1418.5,1140.4 L1419.4,1141.1 L1420.3,1141.0 L1421.2,1140.4 L1422.1,1140.9 L1423.0,1141.1 L1423.9,1140.9 L1424.8,1141.1 L1425.7,1140.7 L1426.6,1140.6 L1427.5,1140.4 L1428.4,1140.7 L1429.3,1141.1 L1430.2,1140.9 L1431.1,1140.8 L1432.0,1140.5 L1432.9,1141.0 L1433.8,1140.6 L1434.7,1140.0 L1435.6,1139.9 L1436.5,1140.3 L1437.4,1140.0 L1438.3,1140.6 L1439.2,1139.7 L1440.1,1138.8 L1441.0,1138.5 L1441.9,1138.7 L1442.8,1137.3 L1443.7,1137.4 L1444.6,1137.1 L1445.5,1137.4 L1446.4,1137.1 L1447.3,1137.1 L1448.2,1138.1 L1449.1,1138.5 L1450.0,1139.4 L1450.9,1139.5 L1451.8,1140.7 L1452.7,1140.2 L1453.6,1140.6 L1454.5,1140.3 L1455.4,1140.7 L1456.3,1140.8 L1457.2,1140.9 L1458.1,1141.1 L1459.0,1140.6 L1459.9,1140.5 L1460.8,1141.1 L1461.7,1140.6 L1462.6,1140.4 L1463.5,1141.1 L1464.4,1140.9 L1465.3,1139.7 L1466.2,1140.3 L1467.1,1140.7 L1468.0,1140.6 L1468.9,1140.1 L1469.8,1140.9 L1470.7,1140.0 L1471.6,1140.3 L1472.5,1140.4 L1473.4,1140.4 L1474.3,1140.7 L1475.2,1140.9 L1476.1,1140.6 L1477.0,1141.2 L1477.9,1140.6 L1478.8,1140.7 L1479.7,1141.4 L1480.6,1141.0 L1481.5,1141.3 L1482.4,1140.7 L1483.3,1140.9 L1484.2,1140.9 L1485.1,1141.1 L1486.0,1140.7 L1486.9,1140.8 L1487.8,1141.1 L1488.7,1141.3 L1489.6,1140.9 L1490.5,1141.1 L1491.4,1141.1 L1492.3,1140.2 L1493.2,1140.0 L1494.1,1141.1 L1495.0,1141.2 L1495.9,1140.7 L1496.8,1140.9 L1497.7,1140.5 L1498.6,1140.3 L1499.5,1141.0 L1500.4,1140.4 L1501.3,1141.3 L1502.2,1140.7 L1503.1,1141.0 L1504.0,1141.6 L1504.9,1141.6 L1505.8,1140.8 L1506.7,1141.1 L1507.6,1140.3 L1508.5,1140.2 L1509.4,1140.5 L1510.3,1141.0 L1511.2,1140.4 L1512.1,1140.6 L1513.0,1140.4 L1513.9,1139.9 L1514.8,1140.2 L1515.8,1140.9 L1516.7,1140.6 L1517.6,1140.8 L1518.5,1140.9 L1519.4,1140.4 L1520.3,1141.0 L1521.2,1141.1 L1522.1,1141.2 L1523.0,1141.2 L1523.9,1140.7 L1524.8,1140.6 L1525.7,1140.3 L1526.6,1140.4 L1527.5,1140.4 L1528.4,1140.9 L1529.3,1141.1 L1530.2,1140.4 L1531.1,1140.8 L1532.0,1140.1 L1532.9,1140.5 L1533.8,1140.2 L1534.7,1140.2 L1535.6,1140.6 L1536.5,1140.7 L1537.4,1140.6 L1538.3,1140.7 L1539.2,1140.5 L1540.1,1140.9 L1541.0,1140.7 L1541.9,1140.8 L1542.8,1140.3 L1543.7,1140.7 L1544.6,1140.9 L1545.5,1141.1 L1546.4,1141.0 L1547.3,1140.6 L1548.2,1140.4 L1549.1,1140.0 L1550.0,1140.7 L1550.9,1141.2 L1551.8,1141.3 L1552.7,1139.9 L1553.6,1140.5 L1554.5,1140.7 L1555.4,1140.5 L1556.3,1140.8 L1557.2,1140.5 L1558.1,1140.3 L1559.0,1140.3 L1559.9,1139.8 L1560.8,1140.1 L1561.7,1140.2 L1562.6,1140.6 L1563.5,1139.7 L1564.4,1140.1 L1565.3,1140.4 L1566.2,1140.3 L1567.1,1140.5 L1568.0,1139.9 L1568.9,1140.0 L1569.8,1139.9 L1570.7,1139.8 L1571.6,1138.6 L1572.5,1137.7 L1573.4,1135.8 L1574.3,1134.1 L1575.2,1132.8 L1576.1,1131.0 L1577.0,1130.9 L1577.9,1131.3 L1578.8,1133.1 L1579.7,1134.9 L1580.6,1135.6 L1581.5,1138.0 L1582.4,1138.6 L1583.3,1139.4 L1584.2,1139.6 L1585.1,1140.2 L1586.0,1139.6 L1586.9,1139.7 L1587.8,1139.9 L1588.7,1140.3 L1589.6,1140.3 L1590.5,1140.3 L1591.4,1140.3 L1592.3,1139.9 L1593.2,1139.6 L1594.1,1140.2 L1595.0,1140.2 L1595.9,1140.2 L1596.8,1140.8 L1597.7,1140.1 L1598.6,1140.2 L1599.5,1139.4 L1600.4,1140.3 L1601.3,1140.2 L1602.2,1139.9 L1603.1,1140.5 L1604.0,1140.1 L1604.9,1140.4 L1605.8,1141.0 L1606.7,1140.9 L1607.6,1141.0 L1608.5,1140.9 L1609.4,1140.9 L1610.3,1140.7 L1611.2,1141.3 L1612.1,1140.5 L1613.0,1140.8 L1613.9,1140.5 L1614.8,1140.5 L1615.7,1139.7 L1616.6,1139.9 L1617.5,1141.2 L1618.4,1141.2 L1619.3,1140.6 L1620.2,1140.8 L1621.1,1141.0 L1622.0,1140.3 L1622.9,1141.3 L1623.8,1140.3 L1624.7,1140.4 L1625.6,1139.8 L1626.5,1141.1 L1627.4,1140.5 L1628.4,1140.9 L1629.3,1140.0 L1630.2,1140.4 L1631.1,1140.2 L1632.0,1140.3 L1632.9,1140.9 L1633.8,1140.9 L1634.7,1140.6 L1635.6,1140.0 L1636.5,1140.6 L1637.4,1140.7 L1638.3,1140.4 L1639.2,1140.5 L1640.1,1140.5 L1641.0,1140.0 L1641.9,1140.5 L1642.8,1141.0 L1643.7,1139.9 L1644.6,1140.3 L1645.5,1140.4 L1646.4,1139.6 L1647.3,1140.1 L1648.2,1139.5 L1649.1,1140.0 L1650.0,1139.7 L1650.9,1139.8 L1651.8,1140.0 L1652.7,1140.1 L1653.6,1140.3 L1654.5,1139.6 L1655.4,1141.1 L1656.3,1140.6 L1657.2,1140.3 L1658.1,1140.3 L1659.0,1140.6 L1659.9,1140.2 L1660.8,1140.3 L1661.7,1140.4 L1662.6,1140.7 L1663.5,1140.2 L1664.4,1140.5 L1665.3,1140.3 L1666.2,1140.0 L1667.1,1140.5 L1668.0,1140.0 L1668.9,1139.5 L1669.8,1140.1 L1670.7,1139.7 L1671.6,1139.6 L1672.5,1139.7 L1673.4,1140.2 L1674.3,1139.6 L1675.2,1139.7 L1676.1,1139.3 L1677.0,1139.9 L1677.9,1139.5 L1678.8,1139.3 L1679.7,1139.2 L1680.6,1139.9 L1681.5,1140.0 L1682.4,1139.4 L1683.3,1139.7 L1684.2,1140.2 L1685.1,1140.4 L1686.0,1139.6 L1686.9,1139.7 L1687.8,1140.2 L1688.7,1139.7 L1689.6,1139.6 L1690.5,1139.4 L1691.4,1139.1 L1692.3,1139.5 L1693.2,1139.6 L1694.1,1138.9 L1695.0,1139.4 L1695.9,1139.6 L1696.8,1139.1 L1697.7,1139.3 L1698.6,1138.8 L1699.5,1139.4 L1700.4,1138.5 L1701.3,1139.3 L1702.2,1138.4 L1703.1,1138.2 L1704.0,1138.0 L1704.9,1138.0 L1705.8,1137.8 L1706.7,1137.5 L1707.6,1137.3 L1708.5,1137.1 L1709.4,1136.6 L1710.3,1135.5 L1711.2,1135.2 L1712.1,1133.5 L1713.0,1132.1 L1713.9,1130.2 L1714.8,1128.5 L1715.7,1124.7 L1716.6,1121.0 L1717.5,1117.2 L1718.4,1111.8 L1719.3,1105.3 L1720.2,1097.5 L1721.1,1091.3 L1722.0,1085.9 L1722.9,1082.2 L1723.8,1080.8 L1724.7,1083.0 L1725.6,1086.0 L1726.5,1090.2 L1727.4,1094.8 L1728.3,1097.4 L1729.2,1099.2 L1730.1,1102.0 L1731.0,1106.3 L1731.9,1110.8 L1732.8,1116.5 L1733.7,1121.1 L1734.6,1125.6 L1735.5,1129.3 L1736.4,1131.4 L1737.3,1132.9 L1738.2,1134.5 L1739.1,1135.6 L1740.0,1136.4 L1741.0,1136.9 L1741.9,1137.3 L1742.8,1137.8 L1743.7,1137.8 L1744.6,1138.7 L1745.5,1139.1 L1746.4,1138.6 L1747.3,1138.6 L1748.2,1139.2 L1749.1,1139.1 L1750.0,1139.0 L1750.9,1139.1 L1751.8,1138.8 L1752.7,1138.5 L1753.6,1139.3 L1754.5,1139.5 L1755.4,1139.0 L1756.3,1139.5 L1757.2,1139.6 L1758.1,1139.4 L1759.0,1139.3 L1759.9,1139.4 L1760.8,1139.0 L1761.7,1139.8 L1762.6,1139.8 L1763.5,1140.4 L1764.4,1139.9 L1765.3,1139.5 L1766.2,1139.7 L1767.1,1140.3 L1768.0,1140.2 L1768.9,1139.7 L1769.8,1139.6 L1770.7,1139.0 L1771.6,1139.5 L1772.5,1139.7 L1773.4,1139.6 L1774.3,1140.4 L1775.2,1139.3 L1776.1,1139.9 L1777.0,1140.1 L1777.9,1140.1 L1778.8,1140.4 L1779.7,1139.4 L1780.6,1139.5 L1781.5,1139.7 L1782.4,1139.7 L1783.3,1139.5 L1784.2,1139.1 L1785.1,1139.7 L1786.0,1138.9 L1786.9,1139.0 L1787.8,1139.7 L1788.7,1139.7 L1789.6,1139.4 L1790.5,1138.6 L1791.4,1138.3 L1792.3,1137.5 L1793.2,1136.2 L1794.1,1133.6 L1795.0,1128.7 L1795.9,1118.7 L1796.8,1104.6 L1797.7,1089.2 L1798.6,1077.9 L1799.5,1078.6 L1800.4,1088.4 L1801.3,1104.0 L1802.2,1116.8 L1803.1,1125.7 L1804.0,1128.8 L1804.9,1128.0 L1805.8,1122.0 L1806.7,1115.8 L1807.6,1111.4 L1808.5,1115.2 L1809.4,1123.7 L1810.3,1131.0 L1811.2,1135.2 L1812.1,1136.9 L1813.0,1139.1 L1813.9,1139.3 L1814.8,1139.4 L1815.7,1139.1 L1816.6,1139.7 L1817.5,1139.5 L1818.4,1139.8 L1819.3,1139.8 L1820.2,1140.3 L1821.1,1139.7 L1822.0,1139.8 L1822.9,1140.2 L1823.8,1140.0 L1824.7,1140.0 L1825.6,1139.9 L1826.5,1140.4 L1827.4,1139.9 L1828.3,1140.2 L1829.2,1140.8 L1830.1,1140.3 L1831.0,1140.0 L1831.9,1139.7 L1832.8,1140.2 L1833.7,1139.8 L1834.6,1139.6 L1835.5,1139.8 L1836.4,1139.6 L1837.3,1140.3 L1838.2,1139.6 L1839.1,1140.6 L1840.0,1139.9 L1840.9,1140.3 L1841.8,1140.5 L1842.7,1140.3 L1843.6,1140.4 L1844.5,1139.9 L1845.4,1139.5 L1846.3,1140.2 L1847.2,1139.7 L1848.1,1140.1 L1849.0,1140.4 L1849.9,1140.0 L1850.8,1140.0 L1851.7,1139.9 L1852.6,1140.2 L1853.6,1140.2 L1854.5,1139.8 L1855.4,1140.3 L1856.3,1139.8 L1857.2,1140.2 L1858.1,1140.0 L1859.0,1140.5 L1859.9,1140.4 L1860.8,1140.3 L1861.7,1140.4 L1862.6,1140.6 L1863.5,1140.9 L1864.4,1140.7 L1865.3,1140.5 L1866.2,1140.7 L1867.1,1141.2 L1868.0,1140.1 L1868.9,1140.8 L1869.8,1140.2 L1870.7,1140.8 L1871.6,1140.2 L1872.5,1140.3 L1873.4,1140.0 L1874.3,1140.4 L1875.2,1140.6 L1876.1,1140.8 L1877.0,1139.9 L1877.9,1140.2 L1878.8,1141.7 L1879.7,1140.7 L1880.6,1140.5 L1881.5,1140.6 L1882.4,1139.6 L1883.3,1140.9 L1884.2,1140.3 L1885.1,1139.8 L1886.0,1140.5 L1886.9,1139.9 L1887.8,1139.7 L1888.7,1140.2 L1889.6,1140.1 L1890.5,1139.9 L1891.4,1140.1 L1892.3,1139.7 L1893.2,1139.9 L1894.1,1140.6 L1895.0,1140.7 L1895.9,1140.3 L1896.8,1140.3 L1897.7,1140.1 L1898.6,1140.2 L1899.5,1139.8 L1900.4,1140.7 L1901.3,1139.8 L1902.2,1140.1 L1903.1,1139.9 L1904.0,1139.4 L1904.9,1140.5 L1905.8,1139.8 L1906.7,1139.7 L1907.6,1139.9 L1908.5,1139.5 L1909.4,1139.7"/>
<path stroke="#37AD6B" d="M107.9,1388.4 L109.6,1388.4 L110.5,1388.3 L111.4,1388.3 L112.3,1387.2 L113.2,1386.4 L114.1,1387.4 L115.0,1385.5 L115.9,1388.2 L116.8,1388.0 L117.7,1389.6 L118.6,1388.8 L119.5,1389.4 L120.4,1387.6 L121.3,1391.6 L122.2,1387.0 L123.1,1390.8 L124.0,1389.0 L124.9,1388.0 L125.8,1388.4 L126.7,1388.9 L127.6,1390.0 L128.5,1388.9 L129.4,1390.4 L130.3,1387.1 L131.2,1389.5 L132.1,1387.9 L133.0,1389.6 L133.9,1385.9 L134.8,1387.7 L135.7,1388.0 L136.6,1386.0 L137.5,1388.7 L138.4,1388.2 L139.3,1389.0 L140.2,1388.3 L141.1,1386.4 L142.0,1386.4 L142.9,1387.5 L143.8,1388.5 L144.7,1388.5 L145.6,1386.6 L146.5,1387.0 L147.4,1386.4 L148.3,1386.7 L149.2,1386.9 L150.1,1386.9 L151.0,1390.1 L151.9,1387.4 L152.8,1388.1 L153.7,1389.0 L154.6,1387.4 L155.5,1388.2 L156.4,1389.0 L157.3,1390.1 L158.2,1388.1 L159.1,1391.1 L160.0,1388.6 L160.9,1389.3 L161.8,1389.8 L162.7,1389.6 L163.6,1389.7 L164.6,1388.8 L165.5,1388.7 L166.4,1389.0 L167.3,1388.0 L168.2,1390.3 L169.1,1388.6 L170.0,1387.9 L170.9,1390.9 L171.8,1388.7 L172.7,1387.7 L173.6,1390.8 L174.5,1388.2 L175.4,1389.4 L176.3,1387.4 L177.2,1388.1 L178.1,1386.4 L179.0,1386.3 L179.9,1387.8 L180.8,1388.5 L181.7,1389.6 L182.6,1391.3 L183.5,1387.7 L184.4,1390.0 L185.3,1388.4 L186.2,1389.2 L187.1,1388.1 L188.0,1388.3 L188.9,1389.1 L189.8,1389.0 L190.7,1390.0 L191.6,1389.5 L192.5,1391.6 L193.4,1390.6 L194.3,1390.7 L195.2,1391.5 L196.1,1390.3 L197.0,1389.3 L197.9,1389.2 L198.8,1389.4 L199.7,1390.8 L200.6,1390.2 L201.5,1389.7 L202.4,1390.1 L203.3,1388.5 L204.2,1389.7 L205.1,1387.8 L206.0,1390.9 L206.9,1389.5 L207.8,1389.2 L208.7,1389.6 L209.6,1389.0 L210.5,1389.0 L211.4,1389.9 L212.3,1388.8 L213.2,1387.6 L214.1,1388.9 L215.0,1386.6 L215.9,1390.3 L216.8,1388.5 L217.7,1388.7 L218.6,1391.1 L219.5,1390.8 L220.4,1389.4 L221.3,1390.0 L222.2,1390.6 L223.1,1391.6 L224.0,1390.1 L224.9,1390.1 L225.8,1391.5 L226.7,1390.5 L227.6,1390.9 L228.5,1391.1 L229.4,1389.2 L230.3,1389.2 L231.2,1387.2 L232.1,1389.2 L233.0,1390.5 L233.9,1388.4 L234.8,1390.5 L235.7,1390.2 L236.6,1389.2 L237.5,1389.3 L238.4,1389.4 L239.3,1388.7 L240.2,1389.6 L241.1,1390.4 L242.0,1391.3 L242.9,1391.7 L243.8,1389.9 L244.7,1392.0 L245.6,1390.3 L246.5,1390.9 L247.4,1391.3 L248.3,1391.0 L249.2,1390.7 L250.1,1390.7 L251.0,1390.0 L251.9,1389.5 L252.8,1390.3 L253.7,1391.2 L254.6,1390.0 L255.5,1392.0 L256.4,1390.6 L257.3,1387.4 L258.2,1390.0 L259.1,1391.8 L260.0,1390.3 L260.9,1389.8 L261.8,1389.2 L262.7,1390.9 L263.6,1390.8 L264.5,1390.4 L265.4,1390.4 L266.3,1391.7 L267.2,1391.0 L268.1,1389.2 L269.0,1390.9 L269.9,1390.6 L270.8,1390.5 L271.7,1391.5 L272.6,1390.7 L273.5,1387.9 L274.4,1392.0 L275.3,1391.4 L276.2,1390.4 L277.2,1389.8 L278.1,1390.2 L279.0,1389.1 L279.9,1390.5 L280.8,1390.0 L281.7,1390.2 L282.6,1389.8 L283.5,1389.5 L284.4,1391.1 L285.3,1391.6 L286.2,1391.3 L287.1,1390.7 L288.0,1390.2 L288.9,1391.7 L289.8,1392.3 L290.7,1389.5 L291.6,1392.0 L292.5,1389.4 L293.4,1390.6 L294.3,1390.7 L295.2,1389.2 L296.1,1389.5 L297.0,1390.7 L297.9,1391.2 L298.8,1390.2 L299.7,1391.6 L300.6,1389.8 L301.5,1391.8 L302.4,1391.0 L303.3,1391.5 L304.2,1391.8 L305.1,1391.2 L306.0,1392.4 L306.9,1392.7 L307.8,1391.1 L308.7,1390.5 L309.6,1389.2 L310.5,1390.0 L311.4,1390.4 L312.3,1389.9 L313.2,1390.0 L314.1,1390.0 L315.0,1390.5 L315.9,1389.0 L316.8,1389.4 L317.7,1391.2 L318.6,1391.2 L319.5,1389.7 L320.4,1391.2 L321.3,1389.8 L322.2,1389.7 L323.1,1388.5 L324.0,1390.9 L324.9,1390.3 L325.8,1391.3 L326.7,1391.1 L327.6,1390.7 L328.5,1390.7 L329.4,1391.7 L330.3,1390.4 L331.2,1390.7 L332.1,1390.9 L333.0,1391.6 L333.9,1391.6 L334.8,1392.7 L335.7,1390.9 L336.6,1392.1 L337.5,1390.7 L338.4,1391.8 L339.3,1391.5 L340.2,1392.8 L341.1,1391.7 L342.0,1390.6 L342.9,1391.6 L343.8,1390.7 L344.7,1390.4 L345.6,1390.2 L346.5,1389.7 L347.4,1392.7 L348.3,1390.7 L349.2,1391.3 L350.1,1389.9 L351.0,1390.1 L351.9,1390.8 L352.8,1391.3 L353.7,1391.7 L354.6,1390.3 L355.5,1391.4 L356.4,1392.3 L357.3,1390.2 L358.2,1392.0 L359.1,1390.4 L360.0,1391.5 L360.9,1391.4 L361.8,1392.3 L362.7,1390.5 L363.6,1391.4 L364.5,1392.0 L365.4,1390.2 L366.3,1391.1 L367.2,1390.3 L368.1,1390.4 L369.0,1391.3 L369.9,1391.3 L370.8,1393.2 L371.7,1391.8 L372.6,1391.6 L373.5,1390.6 L374.4,1390.8 L375.3,1391.3 L376.2,1389.6 L377.1,1392.5 L378.0,1391.1 L378.9,1390.8 L379.8,1391.3 L380.7,1392.6 L381.6,1393.0 L382.5,1391.5 L383.4,1391.8 L384.3,1391.2 L385.2,1390.3 L386.1,1391.0 L387.0,1390.5 L387.9,1389.4 L388.8,1391.6 L389.8,1389.6 L390.7,1390.9 L391.6,1390.1 L392.5,1390.1 L393.4,1390.2 L394.3,1391.5 L395.2,1390.4 L396.1,1391.3 L397.0,1392.6 L397.9,1390.8 L398.8,1391.3 L399.7,1391.9 L400.6,1391.0 L401.5,1391.9 L402.4,1391.2 L403.3,1391.8 L404.2,1391.3 L405.1,1390.5 L406.0,1392.2 L406.9,1391.2 L407.8,1391.4 L408.7,1391.2 L409.6,1391.3 L410.5,1391.7 L411.4,1392.0 L412.3,1393.1 L413.2,1391.2 L414.1,1392.1 L415.0,1393.7 L415.9,1392.8 L416.8,1392.9 L417.7,1393.6 L418.6,1392.9 L419.5,1393.1 L420.4,1392.5 L421.3,1393.8 L422.2,1393.4 L423.1,1392.1 L424.0,1392.7 L424.9,1391.4 L425.8,1392.7 L426.7,1392.5 L427.6,1391.8 L428.5,1391.4 L429.4,1390.5 L430.3,1392.3 L431.2,1391.7 L432.1,1391.5 L433.0,1392.3 L433.9,1391.3 L434.8,1391.3 L435.7,1391.1 L436.6,1390.7 L437.5,1393.4 L438.4,1391.3 L439.3,1391.0 L440.2,1391.9 L441.1,1389.1 L442.0,1391.3 L442.9,1391.5 L443.8,1390.8 L444.7,1391.8 L445.6,1389.8 L446.5,1391.5 L447.4,1392.1 L448.3,1390.1 L449.2,1390.8 L450.1,1392.0 L451.0,1392.3 L451.9,1391.8 L452.8,1392.6 L453.7,1392.8 L454.6,1391.9 L455.5,1392.5 L456.4,1391.9 L457.3,1391.3 L458.2,1390.9 L459.1,1393.1 L460.0,1392.2 L460.9,1393.3 L461.8,1391.0 L462.7,1391.8 L463.6,1392.3 L464.5,1392.0 L465.4,1392.4 L466.3,1392.1 L467.2,1391.8 L468.1,1390.7 L469.0,1391.6 L469.9,1393.8 L470.8,1392.8 L471.7,1392.9 L472.6,1391.6 L473.5,1392.2 L474.4,1391.6 L475.3,1392.6 L476.2,1392.1 L477.1,1392.0 L478.0,1393.0 L478.9,1391.2 L479.8,1392.6 L480.7,1391.1 L481.6,1392.7 L482.5,1391.7 L483.4,1392.0 L484.3,1392.2 L485.2,1393.6 L486.1,1393.0 L487.0,1392.5 L487.9,1392.0 L488.8,1393.1 L489.7,1392.5 L490.6,1392.9 L491.5,1393.1 L492.4,1393.4 L493.3,1392.4 L494.2,1393.0 L495.1,1393.6 L496.0,1391.6 L496.9,1393.4 L497.8,1393.7 L498.7,1391.7 L499.6,1392.4 L500.5,1391.1 L501.4,1392.3 L502.4,1391.9 L503.3,1392.4 L504.2,1391.6 L505.1,1391.5 L506.0,1391.6 L506.9,1391.6 L507.8,1391.8 L508.7,1391.9 L509.6,1391.3 L510.5,1391.9 L511.4,1392.2 L512.3,1390.2 L513.2,1391.7 L514.1,1391.4 L515.0,1391.4 L515.9,1391.2 L516.8,1391.7 L517.7,1392.0 L518.6,1392.7 L519.5,1391.9 L520.4,1393.4 L521.3,1392.4 L522.2,1393.5 L523.1,1393.7 L524.0,1392.1 L524.9,1393.6 L525.8,1394.0 L526.7,1392.3 L527.6,1392.9 L528.5,1392.5 L529.4,1392.7 L530.3,1392.4 L531.2,1392.3 L532.1,1392.9 L533.0,1393.0 L533.9,1392.6 L534.8,1393.6 L535.7,1393.6 L536.6,1393.5 L537.5,1392.5 L538.4,1394.3 L539.3,1394.0 L540.2,1391.7 L541.1,1392.5 L542.0,1393.1 L542.9,1394.0 L543.8,1394.3 L544.7,1393.2 L545.6,1393.6 L546.5,1394.1 L547.4,1392.7 L548.3,1394.0 L549.2,1393.2 L550.1,1393.4 L551.0,1393.0 L551.9,1392.1 L552.8,1392.2 L553.7,1392.6 L554.6,1392.6 L555.5,1391.8 L556.4,1392.9 L557.3,1391.6 L558.2,1391.2 L559.1,1392.0 L560.0,1392.1 L560.9,1392.5 L561.8,1393.4 L562.7,1393.2 L563.6,1393.5 L564.5,1393.5 L565.4,1392.9 L566.3,1394.1 L567.2,1393.5 L568.1,1393.4 L569.0,1392.9 L569.9,1393.5 L570.8,1393.0 L571.7,1393.5 L572.6,1394.6 L573.5,1395.1 L574.4,1394.2 L575.3,1393.5 L576.2,1394.1 L577.1,1393.9 L578.0,1393.2 L578.9,1393.4 L579.8,1393.6 L580.7,1393.3 L581.6,1394.3 L582.5,1392.9 L583.4,1392.8 L584.3,1393.5 L585.2,1392.6 L586.1,1392.6 L587.0,1392.7 L587.9,1393.5 L588.8,1393.2 L589.7,1393.0 L590.6,1392.5 L591.5,1392.5 L592.4,1393.8 L593.3,1392.3 L594.2,1392.7 L595.1,1392.0 L596.0,1392.8 L596.9,1393.1 L597.8,1394.1 L598.7,1391.7 L599.6,1394.4 L600.5,1392.9 L601.4,1393.6 L602.3,1393.9 L603.2,1393.2 L604.1,1393.3 L605.0,1393.7 L605.9,1393.4 L606.8,1393.0 L607.7,1393.5 L608.6,1393.4 L609.5,1392.5 L610.4,1394.0 L611.3,1393.5 L612.2,1392.0 L613.1,1392.9 L614.0,1394.3 L615.0,1394.3 L615.9,1393.5 L616.8,1392.4 L617.7,1393.2 L618.6,1393.9 L619.5,1393.7 L620.4,1393.2 L621.3,1393.0 L622.2,1394.1 L623.1,1393.6 L624.0,1393.7 L624.9,1393.8 L625.8,1394.5 L626.7,1393.7 L627.6,1393.9 L628.5,1392.6 L629.4,1394.3 L630.3,1394.3 L631.2,1393.7 L632.1,1392.4 L633.0,1393.5 L633.9,1393.7 L634.8,1395.1 L635.7,1394.2 L636.6,1394.2 L637.5,1394.1 L638.4,1394.2 L639.3,1392.7 L640.2,1393.1 L641.1,1393.1 L642.0,1393.9 L642.9,1394.1 L643.8,1394.4 L644.7,1394.0 L645.6,1394.7 L646.5,1394.3 L647.4,1396.1 L648.3,1394.7 L649.2,1396.3 L650.1,1395.5 L651.0,1393.5 L651.9,1394.5 L652.8,1394.5 L653.7,1393.2 L654.6,1394.5 L655.5,1394.2 L656.4,1394.7 L657.3,1393.9 L658.2,1394.5 L659.1,1394.9 L660.0,1394.6 L660.9,1394.4 L661.8,1394.3 L662.7,1394.1 L663.6,1394.6 L664.5,1392.8 L665.4,1394.9 L666.3,1394.3 L667.2,1394.2 L668.1,1394.3 L669.0,1393.1 L669.9,1395.2 L670.8,1393.3 L671.7,1394.0 L672.6,1394.1 L673.5,1394.7 L674.4,1394.1 L675.3,1393.2 L676.2,1394.2 L677.1,1392.7 L678.0,1394.1 L678.9,1394.0 L679.8,1395.1 L680.7,1394.3 L681.6,1394.1 L682.5,1394.1 L683.4,1393.9 L684.3,1394.1 L685.2,1394.6 L686.1,1393.5 L687.0,1394.0 L687.9,1393.0 L688.8,1393.8 L689.7,1393.9 L690.6,1393.3 L691.5,1393.5 L692.4,1394.0 L693.3,1394.3 L694.2,1394.5 L695.1,1394.2 L696.0,1393.7 L696.9,1393.7 L697.8,1394.9 L698.7,1395.3 L699.6,1394.8 L700.5,1395.4 L701.4,1394.4 L702.3,1394.7 L703.2,1395.5 L704.1,1394.3 L705.0,1395.0 L705.9,1395.0 L706.8,1394.9 L707.7,1395.4 L708.6,1393.8 L709.5,1394.1 L710.4,1392.9 L711.3,1393.2 L712.2,1393.9 L713.1,1393.5 L714.0,1393.8 L714.9,1394.0 L715.8,1393.3 L716.7,1392.7 L717.6,1394.0 L718.5,1394.1 L719.4,1393.3 L720.3,1393.4 L721.2,1394.5 L722.1,1394.2 L723.0,1394.2 L723.9,1393.9 L724.8,1393.7 L725.7,1393.3 L726.6,1393.7 L727.6,1393.0 L728.5,1392.5 L729.4,1392.9 L730.3,1392.6 L731.2,1392.6 L732.1,1391.0 L733.0,1392.2 L733.9,1389.7 L734.8,1389.2 L735.7,1389.2 L736.6,1387.4 L737.5,1386.7 L738.4,1385.8 L739.3,1383.3 L740.2,1383.8 L741.1,1382.9 L742.0,1382.8 L742.9,1382.8 L743.8,1383.2 L744.7,1384.0 L745.6,1384.6 L746.5,1385.3 L747.4,1386.0 L748.3,1387.5 L749.2,1387.4 L750.1,1388.9 L751.0,1390.3 L751.9,1390.9 L752.8,1390.5 L753.7,1391.4 L754.6,1392.8 L755.5,1393.0 L756.4,1393.2 L757.3,1392.1 L758.2,1392.5 L759.1,1393.2 L760.0,1393.2 L760.9,1393.6 L761.8,1393.8 L762.7,1394.1 L763.6,1393.9 L764.5,1394.3 L765.4,1394.5 L766.3,1394.3 L767.2,1393.6 L768.1,1394.9 L769.0,1394.3 L769.9,1394.6 L770.8,1394.3 L771.7,1393.3 L772.6,1394.6 L773.5,1394.0 L774.4,1393.9 L775.3,1395.1 L776.2,1394.3 L777.1,1394.6 L778.0,1395.0 L778.9,1395.0 L779.8,1393.3 L780.7,1393.6 L781.6,1393.9 L782.5,1392.9 L783.4,1391.1 L784.3,1392.0 L785.2,1390.4 L786.1,1388.3 L787.0,1384.6 L787.9,1379.6 L788.8,1374.7 L789.7,1369.6 L790.6,1366.0 L791.5,1366.4 L792.4,1369.9 L793.3,1374.2 L794.2,1380.6 L795.1,1385.2 L796.0,1388.7 L796.9,1389.4 L797.8,1392.0 L798.7,1392.7 L799.6,1392.8 L800.5,1393.9 L801.4,1393.0 L802.3,1394.6 L803.2,1394.4 L804.1,1394.1 L805.0,1394.9 L805.9,1394.4 L806.8,1394.3 L807.7,1393.5 L808.6,1394.6 L809.5,1395.0 L810.4,1394.9 L811.3,1393.8 L812.2,1395.0 L813.1,1395.1 L814.0,1394.8 L814.9,1394.2 L815.8,1393.9 L816.7,1394.3 L817.6,1394.3 L818.5,1394.8 L819.4,1395.0 L820.3,1394.3 L821.2,1393.6 L822.1,1394.3 L823.0,1393.8 L823.9,1395.1 L824.8,1393.7 L825.7,1394.5 L826.6,1394.5 L827.5,1393.4 L828.4,1394.3 L829.3,1393.7 L830.2,1393.7 L831.1,1393.5 L832.0,1394.0 L832.9,1394.6 L833.8,1393.2 L834.7,1394.4 L835.6,1394.4 L836.5,1394.1 L837.4,1394.4 L838.3,1394.3 L839.2,1394.2 L840.2,1395.0 L841.1,1394.1 L842.0,1395.4 L842.9,1394.9 L843.8,1394.2 L844.7,1393.4 L845.6,1394.5 L846.5,1394.4 L847.4,1395.2 L848.3,1395.2 L849.2,1395.6 L850.1,1394.6 L851.0,1395.1 L851.9,1394.7 L852.8,1394.7 L853.7,1395.5 L854.6,1394.8 L855.5,1394.8 L856.4,1394.6 L857.3,1395.1 L858.2,1395.1 L859.1,1395.0 L860.0,1394.7 L860.9,1395.2 L861.8,1394.7 L862.7,1394.9 L863.6,1395.2 L864.5,1395.2 L865.4,1393.8 L866.3,1395.5 L867.2,1395.0 L868.1,1395.6 L869.0,1395.7 L869.9,1394.1 L870.8,1394.2 L871.7,1394.8 L872.6,1394.9 L873.5,1394.1 L874.4,1394.3 L875.3,1395.0 L876.2,1394.1 L877.1,1394.4 L878.0,1394.9 L878.9,1394.4 L879.8,1394.9 L880.7,1394.5 L881.6,1393.9 L882.5,1394.4 L883.4,1394.6 L884.3,1394.6 L885.2,1394.8 L886.1,1395.0 L887.0,1395.0 L887.9,1394.8 L888.8,1394.4 L889.7,1394.4 L890.6,1394.4 L891.5,1394.3 L892.4,1395.2 L893.3,1393.5 L894.2,1394.4 L895.1,1393.5 L896.0,1393.8 L896.9,1394.3 L897.8,1393.8 L898.7,1394.5 L899.6,1393.1 L900.5,1393.0 L901.4,1392.6 L902.3,1392.6 L903.2,1391.8 L904.1,1391.0 L905.0,1390.4 L905.9,1390.1 L906.8,1388.8 L907.7,1388.0 L908.6,1387.6 L909.5,1387.7 L910.4,1387.8 L911.3,1388.6 L912.2,1389.9 L913.1,1389.8 L914.0,1391.6 L914.9,1391.4 L915.8,1391.4 L916.7,1391.8 L917.6,1392.3 L918.5,1392.3 L919.4,1392.3 L920.3,1393.0 L921.2,1393.1 L922.1,1391.1 L923.0,1391.9 L923.9,1390.9 L924.8,1390.4 L925.7,1390.6 L926.6,1391.2 L927.5,1390.2 L928.4,1389.8 L929.3,1390.2 L930.2,1389.5 L931.1,1388.9 L932.0,1389.1 L932.9,1387.9 L933.8,1386.6 L934.7,1385.3 L935.6,1384.3 L936.5,1383.1 L937.4,1381.7 L938.3,1379.0 L939.2,1375.2 L940.1,1369.4 L941.0,1363.2 L941.9,1352.6 L942.8,1338.3 L943.7,1320.1 L944.6,1297.7 L945.5,1270.3 L946.4,1240.1 L947.3,1208.7 L948.2,1183.8 L949.1,1166.2 L950.0,1165.2 L950.9,1177.8 L951.8,1198.4 L952.8,1221.4 L953.7,1245.1 L954.6,1265.8 L955.5,1283.9 L956.4,1301.5 L957.3,1320.9 L958.2,1336.5 L959.1,1351.4 L960.0,1361.9 L960.9,1370.4 L961.8,1376.1 L962.7,1380.2 L963.6,1381.9 L964.5,1384.4 L965.4,1386.1 L966.3,1386.8 L967.2,1387.8 L968.1,1388.4 L969.0,1388.5 L969.9,1389.0 L970.8,1389.7 L971.7,1390.3 L972.6,1391.4 L973.5,1391.7 L974.4,1391.0 L975.3,1391.3 L976.2,1391.2 L977.1,1390.9 L978.0,1392.8 L978.9,1392.9 L979.8,1392.0 L980.7,1392.9 L981.6,1394.0 L982.5,1393.3 L983.4,1393.4 L984.3,1393.4 L985.2,1393.2 L986.1,1393.3 L987.0,1393.5 L987.9,1394.0 L988.8,1393.9 L989.7,1394.4 L990.6,1394.9 L991.5,1394.5 L992.4,1394.7 L993.3,1394.2 L994.2,1393.8 L995.1,1395.1 L996.0,1394.4 L996.9,1394.7 L997.8,1393.9 L998.7,1393.4 L999.6,1394.8 L1000.5,1393.4 L1001.4,1394.2 L1002.3,1394.0 L1003.2,1394.5 L1004.1,1394.8 L1005.0,1394.9 L1005.9,1393.5 L1006.8,1394.9 L1007.7,1393.8 L1008.6,1394.9 L1009.5,1394.3 L1010.4,1394.1 L1011.3,1394.5 L1012.2,1394.1 L1013.1,1394.9 L1014.0,1395.2 L1014.9,1395.2 L1015.8,1394.9 L1016.7,1395.3 L1017.6,1395.1 L1018.5,1395.9 L1019.4,1395.2 L1020.3,1394.7 L1021.2,1394.8 L1022.1,1394.4 L1023.0,1394.5 L1023.9,1394.7 L1024.8,1395.0 L1025.7,1394.8 L1026.6,1394.4 L1027.5,1394.5 L1028.4,1394.1 L1029.3,1394.2 L1030.2,1393.4 L1031.1,1394.3 L1032.0,1394.6 L1032.9,1395.8 L1033.8,1394.2 L1034.7,1395.0 L1035.6,1395.0 L1036.5,1394.4 L1037.4,1395.1 L1038.3,1395.0 L1039.2,1394.5 L1040.1,1394.1 L1041.0,1395.0 L1041.9,1394.6 L1042.8,1395.6 L1043.7,1395.2 L1044.6,1395.5 L1045.5,1395.1 L1046.4,1396.0 L1047.3,1395.6 L1048.2,1396.1 L1049.1,1395.6 L1050.0,1395.2 L1050.9,1395.0 L1051.8,1395.4 L1052.7,1395.8 L1053.6,1395.3 L1054.5,1396.6 L1055.4,1395.6 L1056.3,1395.7 L1057.2,1395.4 L1058.1,1394.9 L1059.0,1395.8 L1059.9,1395.7 L1060.8,1395.8 L1061.7,1395.0 L1062.6,1395.4 L1063.5,1395.4 L1064.4,1395.9 L1065.4,1394.8 L1066.3,1395.8 L1067.2,1395.9 L1068.1,1395.0 L1069.0,1394.8 L1069.9,1395.7 L1070.8,1395.2 L1071.7,1395.5 L1072.6,1395.3 L1073.5,1395.1 L1074.4,1394.6 L1075.3,1393.5 L1076.2,1394.3 L1077.1,1393.7 L1078.0,1393.8 L1078.9,1392.8 L1079.8,1393.2 L1080.7,1392.0 L1081.6,1392.1 L1082.5,1392.0 L1083.4,1391.2 L1084.3,1391.2 L1085.2,1391.1 L1086.1,1390.8 L1087.0,1392.2 L1087.9,1391.6 L1088.8,1391.8 L1089.7,1392.7 L1090.6,1393.3 L1091.5,1393.5 L1092.4,1393.6 L1093.3,1394.0 L1094.2,1393.6 L1095.1,1395.0 L1096.0,1395.5 L1096.9,1394.6 L1097.8,1394.3 L1098.7,1395.3 L1099.6,1395.2 L1100.5,1393.8 L1101.4,1395.2 L1102.3,1394.8 L1103.2,1394.9 L1104.1,1396.3 L1105.0,1395.9 L1105.9,1395.7 L1106.8,1395.7 L1107.7,1396.3 L1108.6,1395.2 L1109.5,1395.9 L1110.4,1395.4 L1111.3,1396.1 L1112.2,1395.8 L1113.1,1395.3 L1114.0,1396.1 L1114.9,1395.7 L1115.8,1396.3 L1116.7,1395.3 L1117.6,1395.5 L1118.5,1395.2 L1119.4,1396.1 L1120.3,1395.2 L1121.2,1395.4 L1122.1,1396.0 L1123.0,1395.7 L1123.9,1395.7 L1124.8,1395.8 L1125.7,1395.9 L1126.6,1396.0 L1127.5,1395.6 L1128.4,1394.7 L1129.3,1396.3 L1130.2,1395.4 L1131.1,1396.6 L1132.0,1395.8 L1132.9,1396.9 L1133.8,1395.8 L1134.7,1395.6 L1135.6,1395.7 L1136.5,1394.7 L1137.4,1395.5 L1138.3,1395.1 L1139.2,1395.2 L1140.1,1394.3 L1141.0,1394.3 L1141.9,1395.4 L1142.8,1395.1 L1143.7,1394.9 L1144.6,1395.1 L1145.5,1394.8 L1146.4,1394.7 L1147.3,1395.1 L1148.2,1394.6 L1149.1,1394.8 L1150.0,1394.0 L1150.9,1393.5 L1151.8,1393.5 L1152.7,1392.9 L1153.6,1391.2 L1154.5,1389.8 L1155.4,1387.2 L1156.3,1384.2 L1157.2,1380.3 L1158.1,1376.4 L1159.0,1373.0 L1159.9,1373.3 L1160.8,1376.2 L1161.7,1379.2 L1162.6,1382.2 L1163.5,1383.8 L1164.4,1385.1 L1165.3,1385.7 L1166.2,1387.8 L1167.1,1389.6 L1168.0,1392.6 L1168.9,1393.3 L1169.8,1393.6 L1170.7,1394.6 L1171.6,1394.9 L1172.5,1395.5 L1173.4,1395.0 L1174.3,1395.2 L1175.2,1395.4 L1176.1,1395.5 L1177.0,1394.7 L1178.0,1395.9 L1178.9,1396.3 L1179.8,1395.4 L1180.7,1395.3 L1181.6,1395.5 L1182.5,1395.1 L1183.4,1395.6 L1184.3,1395.3 L1185.2,1395.8 L1186.1,1395.1 L1187.0,1395.0 L1187.9,1394.9 L1188.8,1395.1 L1189.7,1395.7 L1190.6,1395.9 L1191.5,1395.6 L1192.4,1395.7 L1193.3,1394.7 L1194.2,1396.2 L1195.1,1395.4 L1196.0,1396.3 L1196.9,1396.6 L1197.8,1395.7 L1198.7,1396.1 L1199.6,1396.1 L1200.5,1395.5 L1201.4,1395.8 L1202.3,1395.7 L1203.2,1396.0 L1204.1,1396.3 L1205.0,1396.1 L1205.9,1396.6 L1206.8,1396.0 L1207.7,1395.6 L1208.6,1396.0 L1209.5,1396.0 L1210.4,1395.2 L1211.3,1396.4 L1212.2,1395.6 L1213.1,1395.6 L1214.0,1395.9 L1214.9,1395.2 L1215.8,1395.9 L1216.7,1395.8 L1217.6,1396.0 L1218.5,1395.7 L1219.4,1395.6 L1220.3,1395.5 L1221.2,1395.9 L1222.1,1396.4 L1223.0,1396.2 L1223.9,1396.1 L1224.8,1396.4 L1225.7,1396.5 L1226.6,1395.6 L1227.5,1396.0 L1228.4,1396.4 L1229.3,1395.7 L1230.2,1395.8 L1231.1,1396.1 L1232.0,1395.8 L1232.9,1396.4 L1233.8,1395.6 L1234.7,1396.0 L1235.6,1396.5 L1236.5,1396.1 L1237.4,1395.1 L1238.3,1395.4 L1239.2,1395.4 L1240.1,1396.0 L1241.0,1395.5 L1241.9,1396.2 L1242.8,1396.7 L1243.7,1396.7 L1244.6,1395.9 L1245.5,1396.0 L1246.4,1396.2 L1247.3,1396.0 L1248.2,1396.9 L1249.1,1395.7 L1250.0,1395.5 L1250.9,1396.1 L1251.8,1396.1 L1252.7,1396.5 L1253.6,1396.5 L1254.5,1395.9 L1255.4,1395.1 L1256.3,1396.0 L1257.2,1396.1 L1258.1,1396.6 L1259.0,1395.3 L1259.9,1395.5 L1260.8,1396.7 L1261.7,1396.7 L1262.6,1396.6 L1263.5,1396.0 L1264.4,1396.6 L1265.3,1396.0 L1266.2,1395.7 L1267.1,1396.0 L1268.0,1396.2 L1268.9,1396.3 L1269.8,1396.3 L1270.7,1395.3 L1271.6,1396.0 L1272.5,1396.2 L1273.4,1395.5 L1274.3,1395.9 L1275.2,1396.0 L1276.1,1396.2 L1277.0,1395.6 L1277.9,1395.7 L1278.8,1395.5 L1279.7,1396.0 L1280.6,1395.7 L1281.5,1395.7 L1282.4,1396.2 L1283.3,1395.9 L1284.2,1395.5 L1285.1,1396.5 L1286.0,1396.6 L1286.9,1396.4 L1287.8,1395.9 L1288.7,1396.7 L1289.6,1396.1 L1290.6,1395.5 L1291.5,1396.2 L1292.4,1396.8 L1293.3,1396.0 L1294.2,1396.3 L1295.1,1396.4 L1296.0,1395.9 L1296.9,1395.6 L1297.8,1395.6 L1298.7,1395.9 L1299.6,1395.4 L1300.5,1395.9 L1301.4,1396.1 L1302.3,1395.7 L1303.2,1396.0 L1304.1,1396.1 L1305.0,1395.8 L1305.9,1396.0 L1306.8,1396.3 L1307.7,1396.2 L1308.6,1396.3 L1309.5,1395.9 L1310.4,1396.3 L1311.3,1396.6 L1312.2,1396.5 L1313.1,1395.9 L1314.0,1396.5 L1314.9,1396.5 L1315.8,1395.9 L1316.7,1396.4 L1317.6,1396.1 L1318.5,1396.0 L1319.4,1396.2 L1320.3,1396.1 L1321.2,1395.5 L1322.1,1396.3 L1323.0,1395.9 L1323.9,1396.3 L1324.8,1396.5 L1325.7,1396.2 L1326.6,1396.2 L1327.5,1396.5 L1328.4,1396.6 L1329.3,1395.9 L1330.2,1396.0 L1331.1,1396.4 L1332.0,1396.7 L1332.9,1396.1 L1333.8,1396.4 L1334.7,1395.7 L1335.6,1396.0 L1336.5,1396.1 L1337.4,1395.6 L1338.3,1396.2 L1339.2,1396.0 L1340.1,1395.2 L1341.0,1396.1 L1341.9,1396.4 L1342.8,1396.4 L1343.7,1396.4 L1344.6,1395.8 L1345.5,1395.8 L1346.4,1396.1 L1347.3,1395.8 L1348.2,1395.9 L1349.1,1396.7 L1350.0,1395.8 L1350.9,1396.1 L1351.8,1396.9 L1352.7,1396.3 L1353.6,1396.0 L1354.5,1396.6 L1355.4,1396.6 L1356.3,1396.7 L1357.2,1396.1 L1358.1,1396.8 L1359.0,1396.8 L1359.9,1397.4 L1360.8,1396.8 L1361.7,1396.4 L1362.6,1396.7 L1363.5,1396.7 L1364.4,1396.3 L1365.3,1396.3 L1366.2,1396.7 L1367.1,1396.1 L1368.0,1396.2 L1368.9,1395.6 L1369.8,1396.0 L1370.7,1395.2 L1371.6,1396.4 L1372.5,1395.9 L1373.4,1396.3 L1374.3,1396.8 L1375.2,1396.0 L1376.1,1396.8 L1377.0,1396.6 L1377.9,1396.8 L1378.8,1396.4 L1379.7,1396.1 L1380.6,1396.7 L1381.5,1396.4 L1382.4,1396.3 L1383.3,1395.7 L1384.2,1396.5 L1385.1,1395.9 L1386.0,1395.9 L1386.9,1395.8 L1387.8,1395.9 L1388.7,1396.3 L1389.6,1395.9 L1390.5,1396.0 L1391.4,1395.7 L1392.3,1396.5 L1393.2,1396.6 L1394.1,1396.1 L1395.0,1396.0 L1395.9,1396.5 L1396.8,1395.9 L1397.7,1396.7 L1398.6,1396.8 L1399.5,1396.7 L1400.4,1397.3 L1401.3,1397.3 L1402.2,1396.8 L1403.2,1396.4 L1404.1,1396.8 L1405.0,1396.8 L1405.9,1396.0 L1406.8,1396.1 L1407.7,1396.2 L1408.6,1395.8 L1409.5,1396.1 L1410.4,1397.1 L1411.3,1396.1 L1412.2,1396.9 L1413.1,1396.4 L1414.0,1397.0 L1414.9,1396.8 L1415.8,1397.1 L1416.7,1396.2 L1417.6,1396.7 L1418.5,1396.3 L1419.4,1396.7 L1420.3,1396.7 L1421.2,1396.5 L1422.1,1396.4 L1423.0,1396.3 L1423.9,1396.1 L1424.8,1395.9 L1425.7,1396.0 L1426.6,1395.9 L1427.5,1395.9 L1428.4,1396.8 L1429.3,1395.9 L1430.2,1396.9 L1431.1,1396.6 L1432.0,1395.8 L1432.9,1396.1 L1433.8,1396.8 L1434.7,1396.3 L1435.6,1396.6 L1436.5,1397.0 L1437.4,1396.6 L1438.3,1396.5 L1439.2,1396.5 L1440.1,1397.0 L1441.0,1396.4 L1441.9,1397.1 L1442.8,1397.1 L1443.7,1396.3 L1444.6,1396.6 L1445.5,1396.9 L1446.4,1396.1 L1447.3,1396.5 L1448.2,1396.6 L1449.1,1396.0 L1450.0,1396.5 L1450.9,1396.4 L1451.8,1396.1 L1452.7,1396.9 L1453.6,1396.3 L1454.5,1397.2 L1455.4,1396.7 L1456.3,1396.2 L1457.2,1396.5 L1458.1,1395.9 L1459.0,1396.4 L1459.9,1396.2 L1460.8,1395.6 L1461.7,1395.9 L1462.6,1396.1 L1463.5,1395.9 L1464.4,1395.5 L1465.3,1396.2 L1466.2,1396.4 L1467.1,1395.5 L1468.0,1396.6 L1468.9,1395.5 L1469.8,1396.1 L1470.7,1395.9 L1471.6,1396.0 L1472.5,1396.3 L1473.4,1395.9 L1474.3,1396.3 L1475.2,1396.8 L1476.1,1396.5 L1477.0,1396.9 L1477.9,1396.8 L1478.8,1396.0 L1479.7,1397.2 L1480.6,1396.9 L1481.5,1396.9 L1482.4,1396.5 L1483.3,1396.5 L1484.2,1396.3 L1485.1,1396.6 L1486.0,1396.5 L1486.9,1396.5 L1487.8,1396.3 L1488.7,1395.6 L1489.6,1396.0 L1490.5,1396.0 L1491.4,1396.4 L1492.3,1396.0 L1493.2,1396.0 L1494.1,1396.2 L1495.0,1396.1 L1495.9,1396.0 L1496.8,1396.6 L1497.7,1396.3 L1498.6,1395.8 L1499.5,1396.3 L1500.4,1396.4 L1501.3,1396.5 L1502.2,1395.7 L1503.1,1396.5 L1504.0,1396.1 L1504.9,1396.2 L1505.8,1396.1 L1506.7,1396.3 L1507.6,1396.5 L1508.5,1396.9 L1509.4,1396.5 L1510.3,1396.3 L1511.2,1396.7 L1512.1,1396.5 L1513.0,1396.8 L1513.9,1396.5 L1514.8,1396.8 L1515.8,1396.4 L1516.7,1397.0 L1517.6,1396.8 L1518.5,1396.3 L1519.4,1396.4 L1520.3,1396.7 L1521.2,1396.1 L1522.1,1396.3 L1523.0,1396.9 L1523.9,1397.0 L1524.8,1397.0 L1525.7,1396.1 L1526.6,1396.4 L1527.5,1395.9 L1528.4,1397.1 L1529.3,1395.8 L1530.2,1396.2 L1531.1,1396.9 L1532.0,1396.5 L1532.9,1395.7 L1533.8,1396.8 L1534.7,1396.1 L1535.6,1395.6 L1536.5,1395.9 L1537.4,1396.1 L1538.3,1396.2 L1539.2,1395.4 L1540.1,1396.6 L1541.0,1395.5 L1541.9,1396.0 L1542.8,1396.6 L1543.7,1396.4 L1544.6,1396.4 L1545.5,1396.1 L1546.4,1396.5 L1547.3,1396.7 L1548.2,1396.0 L1549.1,1396.3 L1550.0,1396.2 L1550.9,1396.0 L1551.8,1395.4 L1552.7,1396.1 L1553.6,1396.3 L1554.5,1396.0 L1555.4,1396.3 L1556.3,1395.8 L1557.2,1396.1 L1558.1,1395.8 L1559.0,1395.7 L1559.9,1395.8 L1560.8,1396.0 L1561.7,1396.1 L1562.6,1395.7 L1563.5,1395.9 L1564.4,1395.7 L1565.3,1395.8 L1566.2,1396.3 L1567.1,1396.1 L1568.0,1396.1 L1568.9,1395.3 L1569.8,1394.6 L1570.7,1393.7 L1571.6,1390.6 L1572.5,1388.0 L1573.4,1384.5 L1574.3,1381.4 L1575.2,1379.5 L1576.1,1380.7 L1577.0,1383.4 L1577.9,1387.3 L1578.8,1390.0 L1579.7,1391.2 L1580.6,1391.2 L1581.5,1390.0 L1582.4,1388.6 L1583.3,1388.6 L1584.2,1390.3 L1585.1,1392.3 L1586.0,1394.4 L1586.9,1394.3 L1587.8,1395.7 L1588.7,1395.5 L1589.6,1396.1 L1590.5,1396.3 L1591.4,1395.9 L1592.3,1395.4 L1593.2,1395.6 L1594.1,1396.1 L1595.0,1395.9 L1595.9,1396.0 L1596.8,1395.8 L1597.7,1396.0 L1598.6,1395.8 L1599.5,1396.4 L1600.4,1396.3 L1601.3,1396.4 L1602.2,1395.5 L1603.1,1395.6 L1604.0,1395.4 L1604.9,1395.6 L1605.8,1395.4 L1606.7,1395.5 L1607.6,1396.3 L1608.5,1395.5 L1609.4,1395.2 L1610.3,1395.4 L1611.2,1396.4 L1612.1,1396.1 L1613.0,1395.8 L1613.9,1395.9 L1614.8,1395.9 L1615.7,1395.9 L1616.6,1395.3 L1617.5,1395.6 L1618.4,1395.8 L1619.3,1395.3 L1620.2,1395.8 L1621.1,1396.1 L1622.0,1396.3 L1622.9,1396.4 L1623.8,1396.0 L1624.7,1396.1 L1625.6,1396.3 L1626.5,1396.5 L1627.4,1396.2 L1628.4,1396.0 L1629.3,1396.4 L1630.2,1396.3 L1631.1,1396.0 L1632.0,1396.2 L1632.9,1396.4 L1633.8,1395.9 L1634.7,1395.8 L1635.6,1395.6 L1636.5,1396.2 L1637.4,1396.4 L1638.3,1396.0 L1639.2,1396.7 L1640.1,1396.0 L1641.0,1396.2 L1641.9,1396.1 L1642.8,1396.6 L1643.7,1395.9 L1644.6,1396.6 L1645.5,1396.0 L1646.4,1395.7 L1647.3,1395.8 L1648.2,1395.9 L1649.1,1396.5 L1650.0,1395.8 L1650.9,1396.0 L1651.8,1396.6 L1652.7,1395.8 L1653.6,1395.7 L1654.5,1395.5 L1655.4,1395.1 L1656.3,1395.8 L1657.2,1396.2 L1658.1,1395.8 L1659.0,1395.6 L1659.9,1396.0 L1660.8,1396.0 L1661.7,1396.1 L1662.6,1396.3 L1663.5,1396.2 L1664.4,1396.1 L1665.3,1396.6 L1666.2,1395.6 L1667.1,1395.9 L1668.0,1396.1 L1668.9,1395.9 L1669.8,1396.7 L1670.7,1395.5 L1671.6,1396.4 L1672.5,1396.4 L1673.4,1396.3 L1674.3,1396.4 L1675.2,1396.1 L1676.1,1395.9 L1677.0,1396.6 L1677.9,1396.0 L1678.8,1395.5 L1679.7,1395.5 L1680.6,1395.3 L1681.5,1395.8 L1682.4,1396.0 L1683.3,1395.4 L1684.2,1395.3 L1685.1,1394.9 L1686.0,1395.3 L1686.9,1395.2 L1687.8,1395.3 L1688.7,1395.6 L1689.6,1394.5 L1690.5,1395.1 L1691.4,1394.3 L1692.3,1394.8 L1693.2,1394.8 L1694.1,1394.7 L1695.0,1394.6 L1695.9,1394.3 L1696.8,1393.9 L1697.7,1394.1 L1698.6,1393.4 L1699.5,1393.7 L1700.4,1392.8 L1701.3,1393.1 L1702.2,1392.8 L1703.1,1392.2 L1704.0,1392.0 L1704.9,1391.9 L1705.8,1391.2 L1706.7,1390.9 L1707.6,1390.0 L1708.5,1389.2 L1709.4,1387.9 L1710.3,1386.8 L1711.2,1385.8 L1712.1,1383.2 L1713.0,1380.2 L1713.9,1376.5 L1714.8,1371.5 L1715.7,1366.6 L1716.6,1359.6 L1717.5,1352.3 L1718.4,1344.4 L1719.3,1335.1 L1720.2,1326.5 L1721.1,1319.1 L1722.0,1313.6 L1722.9,1311.4 L1723.8,1310.8 L1724.7,1314.2 L1725.6,1319.2 L1726.5,1324.2 L1727.4,1329.6 L1728.3,1334.5 L1729.2,1339.7 L1730.1,1345.4 L1731.0,1351.8 L1731.9,1358.0 L1732.8,1364.9 L1733.7,1370.5 L1734.6,1375.1 L1735.5,1380.1 L1736.4,1382.5 L1737.3,1385.6 L1738.2,1387.5 L1739.1,1388.4 L1740.0,1389.7 L1741.0,1390.5 L1741.9,1391.3 L1742.8,1391.7 L1743.7,1392.3 L1744.6,1392.4 L1745.5,1393.0 L1746.4,1393.0 L1747.3,1393.4 L1748.2,1393.6 L1749.1,1393.9 L1750.0,1394.6 L1750.9,1394.3 L1751.8,1393.6 L1752.7,1394.0 L1753.6,1395.0 L1754.5,1394.6 L1755.4,1395.7 L1756.3,1395.0 L1757.2,1395.1 L1758.1,1394.6 L1759.0,1394.8 L1759.9,1395.1 L1760.8,1395.4 L1761.7,1395.2 L1762.6,1395.2 L1763.5,1394.8 L1764.4,1394.9 L1765.3,1394.9 L1766.2,1394.9 L1767.1,1394.5 L1768.0,1394.1 L1768.9,1394.0 L1769.8,1392.9 L1770.7,1392.8 L1771.6,1392.5 L1772.5,1392.7 L1773.4,1392.6 L1774.3,1392.8 L1775.2,1393.8 L1776.1,1394.1 L1777.0,1395.0 L1777.9,1394.9 L1778.8,1395.0 L1779.7,1395.2 L1780.6,1395.9 L1781.5,1396.0 L1782.4,1395.5 L1783.3,1395.8 L1784.2,1395.0 L1785.1,1395.9 L1786.0,1395.4 L1786.9,1395.1 L1787.8,1394.9 L1788.7,1394.7 L1789.6,1394.3 L1790.5,1393.9 L1791.4,1393.0 L1792.3,1392.7 L1793.2,1389.3 L1794.1,1384.1 L1795.0,1375.6 L1795.9,1362.8 L1796.8,1348.7 L1797.7,1337.7 L1798.6,1337.7 L1799.5,1348.0 L1800.4,1361.5 L1801.3,1374.8 L1802.2,1382.1 L1803.1,1385.7 L1804.0,1383.9 L1804.9,1377.9 L1805.8,1370.0 L1806.7,1367.0 L1807.6,1371.1 L1808.5,1378.4 L1809.4,1386.3 L1810.3,1391.3 L1811.2,1393.5 L1812.1,1394.4 L1813.0,1395.0 L1813.9,1396.1 L1814.8,1395.4 L1815.7,1395.9 L1816.6,1395.4 L1817.5,1396.0 L1818.4,1396.3 L1819.3,1395.9 L1820.2,1395.9 L1821.1,1396.6 L1822.0,1396.0 L1822.9,1396.5 L1823.8,1395.9 L1824.7,1396.9 L1825.6,1395.7 L1826.5,1396.2 L1827.4,1396.4 L1828.3,1396.5 L1829.2,1396.5 L1830.1,1396.8 L1831.0,1397.0 L1831.9,1396.8 L1832.8,1396.5 L1833.7,1396.4 L1834.6,1395.6 L1835.5,1396.2 L1836.4,1396.0 L1837.3,1396.4 L1838.2,1396.0 L1839.1,1396.2 L1840.0,1396.2 L1840.9,1396.6 L1841.8,1396.4 L1842.7,1396.0 L1843.6,1395.8 L1844.5,1396.2 L1845.4,1396.1 L1846.3,1396.1 L1847.2,1396.4 L1848.1,1396.5 L1849.0,1396.5 L1849.9,1396.1 L1850.8,1396.1 L1851.7,1396.9 L1852.6,1396.5 L1853.6,1396.8 L1854.5,1396.7 L1855.4,1396.7 L1856.3,1396.9 L1857.2,1396.5 L1858.1,1396.9 L1859.0,1396.8 L1859.9,1396.5 L1860.8,1396.4 L1861.7,1396.4 L1862.6,1396.9 L1863.5,1396.7 L1864.4,1396.3 L1865.3,1396.8 L1866.2,1396.2 L1867.1,1396.9 L1868.0,1397.4 L1868.9,1396.4 L1869.8,1396.9 L1870.7,1396.6 L1871.6,1396.8 L1872.5,1396.5 L1873.4,1396.8 L1874.3,1396.1 L1875.2,1396.5 L1876.1,1396.4 L1877.0,1396.5 L1877.9,1397.1 L1878.8,1396.1 L1879.7,1396.2 L1880.6,1396.0 L1881.5,1396.6 L1882.4,1396.6 L1883.3,1396.2 L1884.2,1396.9 L1885.1,1396.8 L1886.0,1397.1 L1886.9,1396.8 L1887.8,1396.6 L1888.7,1396.3 L1889.6,1395.9 L1890.5,1396.3 L1891.4,1396.7 L1892.3,1396.2 L1893.2,1396.1 L1894.1,1396.3 L1895.0,1396.5 L1895.9,1397.1 L1896.8,1396.1 L1897.7,1396.3 L1898.6,1396.1 L1899.5,1396.2 L1900.4,1396.6 L1901.3,1396.3 L1902.2,1395.9 L1903.1,1396.8 L1904.0,1396.8 L1904.9,1396.6 L1905.8,1399.1 L1906.7,1399.0 L1907.6,1399.7 L1908.5,1399.0 L1909.4,1399.2"/>
</g>
<rect x="1666" y="40.2" width="122" height="1379.3" fill="#C3FF66" fill-opacity="0.3"/>
<g stroke="#000" stroke-width="3.6" stroke-dasharray="17.0 15.46" fill="none">
<line x1="620.6" y1="74.5" x2="620.6" y2="1422.0"/>
<line x1="954.3" y1="74.5" x2="954.3" y2="1422.0"/>
<line x1="1234.6" y1="74.5" x2="1234.6" y2="1422.0"/>
<line x1="1725.2" y1="74.5" x2="1725.2" y2="1422.0"/>
</g>
<polygon points="796.7,428.5 812.7,448.5 796.7,468.5 780.7,448.5" fill="#000"/>
<polygon points="1168.5,428.5 1184.5,448.5 1168.5,468.5 1152.5,448.5" fill="#000"/>
<polygon points="1573.5,428.5 1589.5,448.5 1573.5,468.5 1557.5,448.5" fill="#000"/>
<polygon points="1805.4,428.5 1821.4,448.5 1805.4,468.5 1789.4,448.5" fill="#000"/>
<g font-size="57.8" text-anchor="middle">
<text x="108.8" y="1510.5">20</text>
<text x="332.0" y="1510.5">25</text>
<text x="557.2" y="1510.5">30</text>
<text x="782.4" y="1510.5">35</text>
<text x="1007.6" y="1510.5">40</text>
<text x="1232.8" y="1510.5">45</text>
<text x="1458.0" y="1510.5">50</text>
<text x="1683.2" y="1510.5">55</text>
<text x="1909.9" y="1510.5">60</text>
</g>
<text x="1173" y="1631" font-size="71.5" text-anchor="middle">2Θ, deg</text>
<text transform="translate(68,748.8) rotate(-90)" font-size="71.1" text-anchor="middle">Intensity, a.u.</text>
<text x="134" y="496" font-size="71.5">850</text>
<text transform="translate(238.8,468.5) scale(0.8,1)" font-size="55.1">o</text>
<text x="263.3" y="496" font-size="71.5">C</text>
<text x="134.5" y="823" font-size="71.5">800</text>
<text transform="translate(239.2,795.5) scale(0.8,1)" font-size="55.1">o</text>
<text x="263.8" y="823" font-size="71.5">C</text>
<text x="132" y="1100" font-size="71.5">700</text>
<text transform="translate(236.8,1072.5) scale(0.8,1)" font-size="55.1">o</text>
<text x="261.3" y="1100" font-size="71.5">C</text>
<text x="129" y="1366.8" font-size="71.5">650</text>
<text transform="translate(233.8,1339.3) scale(0.8,1)" font-size="55.1">o</text>
<text x="258.3" y="1366.8" font-size="71.5">C</text>
<text transform="translate(595.6,149) rotate(-90)" font-size="71" text-anchor="middle">(110)</text>
<text transform="translate(927,149) rotate(-90)" font-size="71" text-anchor="middle">(111)</text>
<text transform="translate(1201,149) rotate(-90)" font-size="71" text-anchor="middle">(200)</text>
<text transform="translate(1690,149) rotate(-90)" font-size="71" text-anchor="middle">(211)</text>
<g fill="none" stroke-width="6.4" stroke-linejoin="round">
<path stroke="#F14040" d="M1967.4,526.4 L1969.9,526.7 L1972.4,526.6 L1974.9,525.8 L1977.4,525.8 L1979.9,525.6 L1982.4,525.9 L1984.9,525.5 L1987.4,525.7 L1989.9,524.6 L1992.4,525.6 L1994.9,524.7 L1997.4,524.8 L1999.9,524.2 L2002.4,523.9 L2004.9,523.9 L2007.4,523.8 L2009.9,523.2 L2012.4,523.0 L2014.9,523.0 L2017.4,522.2 L2019.9,521.7 L2022.4,522.2 L2024.9,521.6 L2027.4,521.6 L2029.9,522.4 L2032.4,522.9 L2034.9,521.7 L2037.4,520.5 L2039.9,519.9 L2042.4,519.1 L2044.9,517.6 L2047.4,516.3 L2049.9,516.2 L2052.4,515.8 L2054.9,515.0 L2057.4,514.8 L2059.9,514.5 L2062.4,513.5 L2064.9,512.4 L2067.4,511.6 L2069.9,510.3 L2072.4,509.3 L2074.9,507.2 L2077.4,506.0 L2079.9,503.9 L2082.4,501.6 L2084.9,500.3 L2087.4,498.4 L2089.9,495.9 L2092.4,494.4 L2094.9,492.0 L2097.4,489.6 L2099.9,487.3 L2102.4,485.3 L2104.9,483.4 L2107.4,483.0 L2109.9,482.0 L2112.4,478.8 L2114.9,476.3 L2117.4,472.9 L2119.9,468.5 L2122.4,461.1 L2124.9,454.2 L2127.4,448.3 L2129.9,447.0 L2132.4,446.6 L2134.9,443.7 L2137.4,439.7 L2139.9,435.2 L2142.4,431.6 L2144.9,430.4 L2147.4,430.9 L2149.9,431.8 L2152.4,430.8 L2154.9,426.8 L2157.4,421.5 L2159.9,418.2 L2162.4,415.5 L2164.9,414.4 L2167.4,413.1 L2169.9,413.0 L2172.4,411.2 L2174.9,413.0 L2177.4,414.5 L2179.9,414.8 L2182.4,417.4 L2184.9,419.5 L2187.4,422.6 L2189.9,425.5 L2192.4,428.2 L2194.9,429.4 L2197.4,432.3 L2199.9,435.5 L2202.4,438.6 L2204.9,440.9 L2207.4,443.3 L2209.9,446.4 L2212.4,449.0 L2214.9,450.6 L2217.4,451.5 L2219.9,453.0 L2222.4,454.0 L2224.9,456.9 L2227.4,460.4 L2229.9,463.6 L2232.4,467.4 L2234.9,471.6 L2237.4,473.6 L2239.9,474.8 L2242.4,477.4 L2244.9,478.8 L2247.4,482.6 L2249.9,485.9 L2252.4,489.7 L2254.9,492.3 L2257.4,494.6 L2259.9,496.5 L2262.4,496.7 L2264.9,498.1 L2267.4,499.9 L2269.9,501.2 L2272.4,503.5 L2274.9,505.6 L2277.4,507.9 L2279.9,510.3 L2282.4,512.0 L2284.9,514.3 L2287.4,513.9 L2289.9,514.1 L2292.4,513.3 L2294.9,513.6 L2297.4,515.4 L2299.9,515.9 L2302.4,517.2 L2304.9,518.2 L2307.4,519.4 L2309.9,520.2 L2312.4,521.2 L2314.9,521.4 L2317.4,520.9 L2319.9,520.6 L2322.4,520.5 L2324.9,520.3 L2327.4,521.0 L2329.9,521.7 L2332.4,522.3 L2334.9,522.6 L2337.4,522.5 L2339.9,523.3 L2342.4,523.6 L2344.9,524.1 L2347.4,524.1 L2349.9,523.9 L2352.4,524.1 L2354.9,525.2 L2357.4,525.0 L2359.9,525.6 L2362.4,525.9 L2364.7,525.1"/>
<path stroke="#515151" d="M1967.4,851.0 L1969.9,851.7 L1972.4,851.9 L1974.9,852.2 L1977.4,852.9 L1979.9,852.3 L1982.4,852.8 L1984.9,852.4 L1987.4,852.0 L1989.9,851.6 L1992.4,850.4 L1994.9,849.7 L1997.4,848.1 L1999.9,848.2 L2002.4,847.6 L2004.9,848.2 L2007.4,847.6 L2009.9,847.3 L2012.4,846.6 L2014.9,846.5 L2017.4,846.2 L2019.9,845.6 L2022.4,845.2 L2024.9,844.9 L2027.4,843.9 L2029.9,843.0 L2032.4,842.2 L2034.9,841.1 L2037.4,840.7 L2039.9,839.0 L2042.4,839.5 L2044.9,839.0 L2047.4,839.1 L2049.9,838.8 L2052.4,838.2 L2054.9,836.7 L2057.4,835.5 L2059.9,833.8 L2062.4,831.1 L2064.9,828.5 L2067.4,824.8 L2069.9,821.2 L2072.4,819.3 L2074.9,818.4 L2077.4,818.2 L2079.9,817.6 L2082.4,813.5 L2084.9,809.2 L2087.4,806.0 L2089.9,802.5 L2092.4,797.6 L2094.9,793.3 L2097.4,788.9 L2099.9,784.1 L2102.4,781.8 L2104.9,779.0 L2107.4,775.9 L2109.9,773.6 L2112.4,772.3 L2114.9,771.5 L2117.4,769.5 L2119.9,766.4 L2122.4,761.1 L2124.9,755.1 L2127.4,750.0 L2129.9,748.8 L2132.4,747.8 L2134.9,746.4 L2137.4,744.3 L2139.9,743.5 L2142.4,743.9 L2144.9,743.7 L2147.4,743.6 L2149.9,743.6 L2152.4,744.2 L2154.9,744.9 L2157.4,746.1 L2159.9,746.9 L2162.4,749.6 L2164.9,752.7 L2167.4,755.6 L2169.9,755.9 L2172.4,755.9 L2174.9,756.9 L2177.4,760.2 L2179.9,762.6 L2182.4,766.1 L2184.9,766.8 L2187.4,767.0 L2189.9,766.5 L2192.4,769.4 L2194.9,771.3 L2197.4,773.9 L2199.9,777.8 L2202.4,782.6 L2204.9,786.6 L2207.4,791.3 L2209.9,792.8 L2212.4,794.3 L2214.9,796.2 L2217.4,797.4 L2219.9,799.7 L2222.4,801.8 L2224.9,803.3 L2227.4,805.6 L2229.9,808.3 L2232.4,811.0 L2234.9,813.9 L2237.4,816.2 L2239.9,818.7 L2242.4,821.6 L2244.9,824.8 L2247.4,825.3 L2249.9,826.3 L2252.4,826.3 L2254.9,829.1 L2257.4,832.4 L2259.9,836.1 L2262.4,838.8 L2264.9,839.5 L2267.4,841.3 L2269.9,842.3 L2272.4,842.9 L2274.9,843.8 L2277.4,845.5 L2279.9,845.4 L2282.4,846.3 L2284.9,846.0 L2287.4,846.8 L2289.9,847.8 L2292.4,848.1 L2294.9,849.0 L2297.4,850.0 L2299.9,849.6 L2302.4,849.5 L2304.9,849.4 L2307.4,850.2 L2309.9,850.1 L2312.4,849.8 L2314.9,849.4 L2317.4,849.5 L2319.9,849.4 L2322.4,848.8 L2324.9,849.3 L2327.4,848.7 L2329.9,849.2 L2332.4,849.9 L2334.9,850.2 L2337.4,850.1 L2339.9,850.9 L2342.4,851.4 L2344.9,851.5 L2347.4,851.7 L2349.9,852.2 L2352.4,852.3 L2354.9,851.5 L2357.4,851.3 L2359.9,851.4 L2362.4,850.0 L2364.7,850.0"/>
<path stroke="#1A6FDF" d="M1967.4,1140.5 L1969.9,1138.6 L1972.4,1139.8 L1974.9,1139.3 L1977.4,1139.6 L1979.9,1139.0 L1982.4,1139.4 L1984.9,1138.5 L1987.4,1138.2 L1989.9,1138.5 L1992.4,1138.7 L1994.9,1138.6 L1997.4,1138.8 L1999.9,1139.3 L2002.4,1139.5 L2004.9,1139.0 L2007.4,1139.1 L2009.9,1138.6 L2012.4,1139.8 L2014.9,1139.1 L2017.4,1139.7 L2019.9,1139.0 L2022.4,1139.0 L2024.9,1138.4 L2027.4,1137.4 L2029.9,1137.4 L2032.4,1135.8 L2034.9,1135.8 L2037.4,1134.0 L2039.9,1133.8 L2042.4,1133.9 L2044.9,1133.9 L2047.4,1134.0 L2049.9,1134.2 L2052.4,1134.7 L2054.9,1134.9 L2057.4,1133.9 L2059.9,1132.5 L2062.4,1131.1 L2064.9,1131.0 L2067.4,1129.8 L2069.9,1129.5 L2072.4,1128.9 L2074.9,1128.9 L2077.4,1128.2 L2079.9,1127.7 L2082.4,1127.1 L2084.9,1126.3 L2087.4,1125.8 L2089.9,1124.7 L2092.4,1122.8 L2094.9,1121.6 L2097.4,1120.0 L2099.9,1119.0 L2102.4,1117.4 L2104.9,1115.7 L2107.4,1113.7 L2109.9,1112.3 L2112.4,1109.8 L2114.9,1109.4 L2117.4,1109.0 L2119.9,1108.2 L2122.4,1105.2 L2124.9,1102.7 L2127.4,1100.7 L2129.9,1098.3 L2132.4,1095.8 L2134.9,1093.0 L2137.4,1092.0 L2139.9,1090.3 L2142.4,1088.6 L2144.9,1087.2 L2147.4,1086.4 L2149.9,1084.7 L2152.4,1084.0 L2154.9,1083.9 L2157.4,1083.1 L2159.9,1082.1 L2162.4,1080.8 L2164.9,1079.9 L2167.4,1079.6 L2169.9,1081.6 L2172.4,1084.6 L2174.9,1087.8 L2177.4,1088.4 L2179.9,1088.7 L2182.4,1089.3 L2184.9,1090.3 L2187.4,1090.7 L2189.9,1092.2 L2192.4,1094.0 L2194.9,1094.6 L2197.4,1096.1 L2199.9,1096.8 L2202.4,1098.1 L2204.9,1099.6 L2207.4,1098.3 L2209.9,1098.3 L2212.4,1097.9 L2214.9,1097.7 L2217.4,1100.3 L2219.9,1102.2 L2222.4,1103.5 L2224.9,1106.1 L2227.4,1107.1 L2229.9,1107.4 L2232.4,1108.7 L2234.9,1107.8 L2237.4,1109.5 L2239.9,1111.2 L2242.4,1113.7 L2244.9,1115.6 L2247.4,1117.5 L2249.9,1119.1 L2252.4,1120.5 L2254.9,1120.8 L2257.4,1121.8 L2259.9,1122.7 L2262.4,1124.5 L2264.9,1125.0 L2267.4,1125.9 L2269.9,1127.4 L2272.4,1129.7 L2274.9,1130.0 L2277.4,1131.6 L2279.9,1131.8 L2282.4,1131.4 L2284.9,1131.0 L2287.4,1130.9 L2289.9,1130.7 L2292.4,1130.5 L2294.9,1133.2 L2297.4,1133.7 L2299.9,1134.5 L2302.4,1135.3 L2304.9,1135.7 L2307.4,1136.9 L2309.9,1137.1 L2312.4,1138.0 L2314.9,1137.7 L2317.4,1138.4 L2319.9,1138.9 L2322.4,1138.1 L2324.9,1138.5 L2327.4,1138.2 L2329.9,1138.6 L2332.4,1138.8 L2334.9,1138.6 L2337.4,1138.6 L2339.9,1139.1 L2342.4,1139.3 L2344.9,1139.2 L2347.4,1139.8 L2349.9,1140.0 L2352.4,1139.4 L2354.9,1139.6 L2357.4,1140.5 L2359.9,1139.7 L2362.4,1139.3 L2364.7,1140.1"/>
<path stroke="#37AD6B" d="M1967.4,1396.1 L1969.9,1395.2 L1972.4,1394.7 L1974.9,1394.0 L1977.4,1394.6 L1979.9,1394.9 L1982.4,1394.2 L1984.9,1394.1 L1987.4,1394.1 L1989.9,1393.0 L1992.4,1393.8 L1994.9,1392.2 L1997.4,1392.2 L1999.9,1392.6 L2002.4,1391.3 L2004.9,1391.7 L2007.4,1391.9 L2009.9,1392.5 L2012.4,1392.0 L2014.9,1392.9 L2017.4,1394.0 L2019.9,1393.1 L2022.4,1392.2 L2024.9,1391.8 L2027.4,1391.1 L2029.9,1390.3 L2032.4,1389.7 L2034.9,1388.4 L2037.4,1388.9 L2039.9,1388.2 L2042.4,1388.5 L2044.9,1387.9 L2047.4,1387.3 L2049.9,1387.4 L2052.4,1386.8 L2054.9,1386.8 L2057.4,1385.0 L2059.9,1383.9 L2062.4,1381.8 L2064.9,1381.7 L2067.4,1380.2 L2069.9,1380.0 L2072.4,1379.0 L2074.9,1377.5 L2077.4,1377.2 L2079.9,1376.1 L2082.4,1374.9 L2084.9,1373.7 L2087.4,1371.8 L2089.9,1370.4 L2092.4,1368.1 L2094.9,1367.7 L2097.4,1367.0 L2099.9,1366.5 L2102.4,1365.2 L2104.9,1363.9 L2107.4,1359.2 L2109.9,1353.8 L2112.4,1349.3 L2114.9,1347.3 L2117.4,1344.2 L2119.9,1341.7 L2122.4,1339.9 L2124.9,1337.2 L2127.4,1334.5 L2129.9,1332.2 L2132.4,1329.5 L2134.9,1326.9 L2137.4,1324.5 L2139.9,1322.9 L2142.4,1321.8 L2144.9,1319.8 L2147.4,1318.5 L2149.9,1317.1 L2152.4,1315.4 L2154.9,1314.7 L2157.4,1314.6 L2159.9,1314.9 L2162.4,1316.4 L2164.9,1316.8 L2167.4,1318.3 L2169.9,1319.2 L2172.4,1319.6 L2174.9,1320.3 L2177.4,1323.0 L2179.9,1324.8 L2182.4,1327.0 L2184.9,1329.5 L2187.4,1332.2 L2189.9,1333.9 L2192.4,1334.2 L2194.9,1333.5 L2197.4,1333.9 L2199.9,1335.2 L2202.4,1339.0 L2204.9,1341.7 L2207.4,1343.9 L2209.9,1343.3 L2212.4,1342.7 L2214.9,1342.5 L2217.4,1344.4 L2219.9,1346.1 L2222.4,1348.3 L2224.9,1350.4 L2227.4,1352.9 L2229.9,1355.0 L2232.4,1358.0 L2234.9,1359.7 L2237.4,1362.4 L2239.9,1364.4 L2242.4,1367.7 L2244.9,1369.6 L2247.4,1370.4 L2249.9,1371.1 L2252.4,1370.7 L2254.9,1372.1 L2257.4,1374.2 L2259.9,1375.3 L2262.4,1377.2 L2264.9,1378.2 L2267.4,1380.1 L2269.9,1381.4 L2272.4,1381.8 L2274.9,1383.2 L2277.4,1383.2 L2279.9,1384.0 L2282.4,1384.9 L2284.9,1386.0 L2287.4,1386.3 L2289.9,1387.1 L2292.4,1388.1 L2294.9,1389.2 L2297.4,1388.9 L2299.9,1388.9 L2302.4,1389.7 L2304.9,1390.3 L2307.4,1390.2 L2309.9,1390.8 L2312.4,1390.4 L2314.9,1391.5 L2317.4,1392.1 L2319.9,1393.0 L2322.4,1393.5 L2324.9,1394.3 L2327.4,1394.2 L2329.9,1394.6 L2332.4,1393.7 L2334.9,1393.9 L2337.4,1394.4 L2339.9,1394.2 L2342.4,1393.1 L2344.9,1393.8 L2347.4,1393.3 L2349.9,1393.0 L2352.4,1393.1 L2354.9,1392.8 L2357.4,1393.1 L2359.9,1391.8 L2362.4,1392.0 L2364.7,1391.9"/>
</g>
<line x1="2154.7" y1="75.0" x2="2154.7" y2="1422.3" stroke="#000" stroke-width="3.6" stroke-dasharray="17.0 15.46"/>
<rect x="1964.8" y="40.5" width="402.5000000000002" height="1381.8" fill="none" stroke="#000" stroke-width="5.7"/>
<g stroke="#000" stroke-width="5.7">
<line x1="2008.8" y1="1422.3" x2="2008.8" y2="1448.2"/>
<line x1="2206.4" y1="1422.3" x2="2206.4" y2="1448.2"/>
</g>
<g font-size="57.8" text-anchor="middle">
<text x="2008.6" y="1510.5">55.5</text>
<text x="2207.0" y="1510.5">56.0</text>
</g>
<text x="2260" y="129" font-size="57" text-anchor="middle">(211)</text>
<text transform="translate(2123.5,397.5) rotate(-90)" font-size="58" text-anchor="start">BaSn<tspan font-size="38.3" dy="15.7">0.2</tspan><tspan dy="-15.7">Ti</tspan><tspan font-size="38.3" dy="15.7">0.8</tspan><tspan dy="-15.7">O</tspan><tspan font-size="38.3" dy="15.7">3</tspan></text>
</svg></body></html>
